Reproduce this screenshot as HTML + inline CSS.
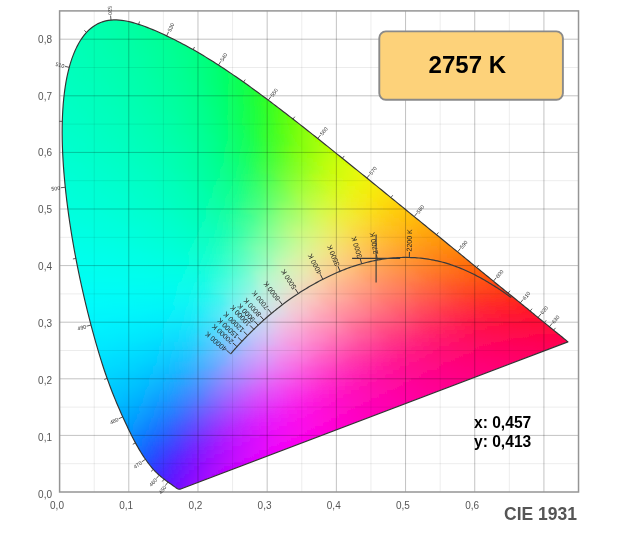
<!DOCTYPE html>
<html><head><meta charset="utf-8"><style>
html,body{margin:0;padding:0;background:#fff;}
body{width:620px;height:550px;overflow:hidden;position:relative;font-family:"Liberation Sans",sans-serif;}
svg{position:absolute;left:0;top:0;will-change:transform;}
.M{stroke:rgba(0,0,0,0.24);stroke-width:1;}
.m{stroke:rgba(0,0,0,0.075);stroke-width:1;}
.ax{font-size:10px;fill:#555;}
.wl{font-size:5.3px;fill:#333;}
.pk{font-size:7px;fill:#222;}
</style></head><body>
<svg width="620" height="550" viewBox="0 0 620 550">
<defs>
<clipPath id="gc"><path d="M180.06,489.17 179.05,489.28 178.06,489.05 177.17,488.56 176.22,487.93 175.38,487.35 174.43,486.65 173.54,485.97 172.52,485.23 171.58,484.56 170.51,483.79 169.61,483.16 168.63,482.47 167.6,481.73 166.5,480.95 165.33,480.1 164.51,479.48 163.64,478.81 162.72,478.09 161.77,477.33 160.78,476.51 159.76,475.64 158.7,474.73 157.62,473.75 156.48,472.68 155.29,471.49 154.02,470.15 152.66,468.64 151.95,467.81 151.22,466.93 150.46,465.99 149.68,465.01 148.88,463.98 148.06,462.89 147.21,461.74 146.35,460.54 145.46,459.29 144.56,457.97 143.63,456.59 142.69,455.15 141.72,453.64 140.73,452.05 139.72,450.39 138.68,448.64 137.62,446.81 136.54,444.89 135.43,442.87 134.3,440.76 133.14,438.54 131.96,436.23 130.74,433.8 129.5,431.27 128.22,428.63 126.91,425.87 125.57,423 124.19,420.01 122.77,416.89 121.31,413.65 119.82,410.29 118.3,406.79 116.75,403.16 115.18,399.39 113.59,395.49 111.99,391.44 110.38,387.24 108.76,382.9 107.13,378.4 105.51,373.75 103.89,368.95 102.28,363.99 100.66,358.88 99.05,353.61 97.44,348.2 95.83,342.63 94.22,336.91 92.62,331.05 91.01,325.03 89.41,318.87 87.82,312.57 86.23,306.14 84.67,299.59 83.12,292.94 81.6,286.19 80.11,279.35 78.65,272.43 77.23,265.45 75.86,258.41 74.54,251.33 73.26,244.21 72.04,237.06 70.88,229.9 69.78,222.74 68.74,215.59 67.77,208.45 66.87,201.35 66.03,194.28 65.27,187.27 64.59,180.31 63.99,173.43 63.46,166.61 63.03,159.88 62.67,153.22 62.41,146.66 62.24,140.19 62.16,133.81 62.18,127.54 62.3,121.38 62.52,115.34 62.84,109.41 63.26,103.62 63.79,97.96 64.42,92.45 65.17,87.1 66.01,81.91 66.97,76.89 68.04,72.04 69.22,67.39 70.51,62.92 71.9,58.66 73.41,54.61 75.01,50.76 76.71,47.13 78.5,43.72 80.38,40.54 82.35,37.59 84.39,34.88 86.51,32.41 88.71,30.18 90.98,28.2 93.3,26.45 95.69,24.92 98.13,23.61 100.63,22.51 103.17,21.62 105.75,20.92 108.36,20.4 111.01,20.07 113.68,19.91 116.38,19.91 119.11,20.06 121.85,20.34 124.61,20.76 127.39,21.29 130.18,21.93 132.98,22.67 135.79,23.48 138.61,24.37 141.44,25.32 144.27,26.33 147.09,27.39 149.92,28.5 152.74,29.64 155.55,30.83 158.34,32.05 161.13,33.3 163.89,34.57 166.64,35.86 169.36,37.17 172.06,38.49 174.74,39.82 177.41,41.17 180.05,42.54 182.68,43.92 185.3,45.32 187.9,46.73 190.49,48.16 193.07,49.61 195.64,51.08 198.2,52.57 200.75,54.07 203.3,55.59 205.83,57.13 208.37,58.68 210.9,60.26 213.42,61.84 215.94,63.45 218.46,65.07 220.98,66.7 223.49,68.35 226,70.02 228.51,71.7 231.02,73.39 233.52,75.1 236.02,76.81 238.52,78.55 241.02,80.29 243.51,82.05 246,83.81 248.48,85.59 250.96,87.38 253.44,89.18 255.92,90.98 258.39,92.8 260.87,94.63 263.34,96.46 265.81,98.31 268.28,100.16 270.75,102.02 273.21,103.88 275.68,105.76 278.15,107.64 280.62,109.53 283.09,111.42 285.56,113.32 288.03,115.23 290.5,117.14 292.98,119.06 295.45,120.99 297.93,122.92 300.41,124.86 302.89,126.8 305.37,128.74 307.85,130.69 310.32,132.65 312.8,134.61 315.28,136.57 317.75,138.53 320.22,140.5 322.69,142.47 325.15,144.44 327.62,146.42 330.08,148.39 332.54,150.37 335,152.35 337.46,154.33 339.92,156.31 342.38,158.29 344.84,160.27 347.3,162.24 349.75,164.22 352.21,166.2 354.66,168.18 357.11,170.15 359.56,172.13 362,174.1 364.44,176.07 366.87,178.04 369.3,180.01 371.72,181.97 374.14,183.93 376.55,185.89 378.95,187.85 381.35,189.8 383.74,191.75 386.13,193.69 388.51,195.63 390.88,197.57 393.25,199.5 395.61,201.42 397.96,203.34 400.3,205.25 402.64,207.16 404.97,209.06 407.29,210.95 409.6,212.83 411.91,214.71 414.2,216.58 416.48,218.45 418.76,220.3 421.02,222.15 423.27,223.99 425.51,225.82 427.74,227.64 429.96,229.45 432.17,231.25 434.37,233.03 436.55,234.81 438.72,236.57 440.87,238.32 443.01,240.06 445.14,241.79 447.25,243.51 449.35,245.21 451.43,246.9 453.5,248.58 455.55,250.25 457.58,251.9 459.6,253.55 461.59,255.18 463.57,256.79 465.52,258.39 467.45,259.97 469.36,261.54 471.25,263.08 473.11,264.61 474.94,266.11 476.75,267.58 478.52,269.03 480.27,270.46 481.99,271.86 483.69,273.25 485.36,274.61 487.02,275.95 488.65,277.28 490.26,278.59 491.85,279.88 493.42,281.16 494.98,282.43 496.52,283.69 498.04,284.93 499.55,286.16 501.03,287.36 502.49,288.55 503.93,289.73 505.34,290.88 506.73,292 508.09,293.11 509.42,294.19 510.73,295.25 512.01,296.28 513.26,297.29 514.49,298.28 515.69,299.26 516.87,300.21 518.03,301.14 519.16,302.06 520.27,302.96 521.35,303.84 522.42,304.71 523.46,305.56 524.48,306.39 525.48,307.21 526.46,308.01 527.42,308.8 528.35,309.56 529.27,310.32 530.16,311.05 531.03,311.77 531.89,312.47 532.72,313.15 533.54,313.82 534.33,314.47 535.11,315.11 536.61,316.33 538.05,317.5 539.42,318.62 540.74,319.68 542,320.7 543.2,321.67 544.35,322.6 545.44,323.49 546.49,324.34 547.49,325.17 548.46,325.96 549.4,326.73 550.3,327.47 551.18,328.18 552.02,328.87 552.83,329.54 553.62,330.18 554.73,331.1 555.78,331.95 556.76,332.76 557.69,333.5 558.55,334.19 559.35,334.82 560.31,335.59 561.16,336.29 562.1,337.06 562.92,337.74 563.78,338.44 564.59,339.1 565.38,339.75 566.18,340.4 566.99,341.07 567.77,341.7 567.94,341.84Z"/></clipPath>
<filter id="vb" x="-5%" y="-5%" width="110%" height="110%"><feGaussianBlur stdDeviation="0.6 1.8"/></filter>
<linearGradient id="g0"><stop offset="0" stop-color="#00ffac"/><stop offset="0.25" stop-color="#00ffa9"/><stop offset="0.5" stop-color="#00ffa6"/><stop offset="0.75" stop-color="#00ffa3"/><stop offset="1" stop-color="#00ffa0"/></linearGradient>
<linearGradient id="g1"><stop offset="0" stop-color="#00ffaf"/><stop offset="0.17" stop-color="#00ffad"/><stop offset="0.33" stop-color="#00ffaa"/><stop offset="0.5" stop-color="#00ffa6"/><stop offset="0.67" stop-color="#00ffa3"/><stop offset="0.83" stop-color="#00ff9f"/><stop offset="1" stop-color="#00ff9a"/></linearGradient>
<linearGradient id="g2"><stop offset="0" stop-color="#00ffb1"/><stop offset="0.14" stop-color="#00ffaf"/><stop offset="0.29" stop-color="#00ffab"/><stop offset="0.43" stop-color="#00ffa8"/><stop offset="0.57" stop-color="#00ffa4"/><stop offset="0.71" stop-color="#00ffa0"/><stop offset="0.86" stop-color="#00ff9b"/><stop offset="1" stop-color="#00ff96"/></linearGradient>
<linearGradient id="g3"><stop offset="0" stop-color="#00ffb3"/><stop offset="0.12" stop-color="#00ffb0"/><stop offset="0.25" stop-color="#00ffad"/><stop offset="0.38" stop-color="#00ffaa"/><stop offset="0.5" stop-color="#00ffa6"/><stop offset="0.62" stop-color="#00ffa2"/><stop offset="0.75" stop-color="#00ff9d"/><stop offset="0.88" stop-color="#00ff98"/><stop offset="1" stop-color="#00ff92"/></linearGradient>
<linearGradient id="g4"><stop offset="0" stop-color="#00ffb5"/><stop offset="0.11" stop-color="#00ffb2"/><stop offset="0.22" stop-color="#00ffaf"/><stop offset="0.33" stop-color="#00ffac"/><stop offset="0.44" stop-color="#00ffa8"/><stop offset="0.56" stop-color="#00ffa4"/><stop offset="0.67" stop-color="#00ff9f"/><stop offset="0.78" stop-color="#00ff9a"/><stop offset="0.89" stop-color="#00ff94"/><stop offset="1" stop-color="#00ff8d"/></linearGradient>
<linearGradient id="g5"><stop offset="0" stop-color="#00ffb6"/><stop offset="0.1" stop-color="#00ffb3"/><stop offset="0.2" stop-color="#00ffb0"/><stop offset="0.3" stop-color="#00ffad"/><stop offset="0.4" stop-color="#00ffa9"/><stop offset="0.5" stop-color="#00ffa6"/><stop offset="0.6" stop-color="#00ffa1"/><stop offset="0.7" stop-color="#00ff9c"/><stop offset="0.8" stop-color="#00ff97"/><stop offset="0.9" stop-color="#00ff91"/><stop offset="1" stop-color="#00ff89"/></linearGradient>
<linearGradient id="g6"><stop offset="0" stop-color="#00ffb7"/><stop offset="0.09" stop-color="#00ffb5"/><stop offset="0.18" stop-color="#00ffb2"/><stop offset="0.27" stop-color="#00ffaf"/><stop offset="0.36" stop-color="#00ffab"/><stop offset="0.45" stop-color="#00ffa8"/><stop offset="0.55" stop-color="#00ffa3"/><stop offset="0.64" stop-color="#00ff9e"/><stop offset="0.73" stop-color="#00ff99"/><stop offset="0.82" stop-color="#00ff93"/><stop offset="0.91" stop-color="#00ff8c"/><stop offset="1" stop-color="#00ff84"/></linearGradient>
<linearGradient id="g7"><stop offset="0" stop-color="#00ffb9"/><stop offset="0.08" stop-color="#00ffb6"/><stop offset="0.17" stop-color="#00ffb3"/><stop offset="0.25" stop-color="#00ffb0"/><stop offset="0.33" stop-color="#00ffad"/><stop offset="0.42" stop-color="#00ffa9"/><stop offset="0.5" stop-color="#00ffa5"/><stop offset="0.58" stop-color="#00ffa1"/><stop offset="0.67" stop-color="#00ff9c"/><stop offset="0.75" stop-color="#00ff96"/><stop offset="0.83" stop-color="#00ff90"/><stop offset="0.92" stop-color="#00ff88"/><stop offset="1" stop-color="#01ff7f"/></linearGradient>
<linearGradient id="g8"><stop offset="0" stop-color="#00ffba"/><stop offset="0.08" stop-color="#00ffb7"/><stop offset="0.17" stop-color="#00ffb4"/><stop offset="0.25" stop-color="#00ffb1"/><stop offset="0.33" stop-color="#00ffad"/><stop offset="0.42" stop-color="#00ffa9"/><stop offset="0.5" stop-color="#00ffa5"/><stop offset="0.58" stop-color="#00ffa0"/><stop offset="0.67" stop-color="#00ff9b"/><stop offset="0.75" stop-color="#00ff94"/><stop offset="0.83" stop-color="#00ff8d"/><stop offset="0.92" stop-color="#00ff84"/><stop offset="1" stop-color="#01ff79"/></linearGradient>
<linearGradient id="g9"><stop offset="0" stop-color="#00ffbb"/><stop offset="0.08" stop-color="#00ffb8"/><stop offset="0.15" stop-color="#00ffb5"/><stop offset="0.23" stop-color="#00ffb2"/><stop offset="0.31" stop-color="#00ffaf"/><stop offset="0.38" stop-color="#00ffab"/><stop offset="0.46" stop-color="#00ffa7"/><stop offset="0.54" stop-color="#00ffa3"/><stop offset="0.62" stop-color="#00ff9d"/><stop offset="0.69" stop-color="#00ff98"/><stop offset="0.77" stop-color="#00ff90"/><stop offset="0.85" stop-color="#00ff89"/><stop offset="0.92" stop-color="#01ff7e"/><stop offset="1" stop-color="#02ff72"/></linearGradient>
<linearGradient id="g10"><stop offset="0" stop-color="#00ffbc"/><stop offset="0.07" stop-color="#00ffb9"/><stop offset="0.14" stop-color="#00ffb7"/><stop offset="0.21" stop-color="#00ffb4"/><stop offset="0.29" stop-color="#00ffb1"/><stop offset="0.36" stop-color="#00ffad"/><stop offset="0.43" stop-color="#00ffa9"/><stop offset="0.5" stop-color="#00ffa5"/><stop offset="0.57" stop-color="#00ffa0"/><stop offset="0.64" stop-color="#00ff9a"/><stop offset="0.71" stop-color="#00ff94"/><stop offset="0.79" stop-color="#00ff8d"/><stop offset="0.86" stop-color="#00ff84"/><stop offset="0.93" stop-color="#01ff79"/><stop offset="1" stop-color="#04ff6a"/></linearGradient>
<linearGradient id="g11"><stop offset="0" stop-color="#00ffbd"/><stop offset="0.07" stop-color="#00ffba"/><stop offset="0.14" stop-color="#00ffb7"/><stop offset="0.21" stop-color="#00ffb4"/><stop offset="0.29" stop-color="#00ffb1"/><stop offset="0.36" stop-color="#00ffad"/><stop offset="0.43" stop-color="#00ffa9"/><stop offset="0.5" stop-color="#00ffa4"/><stop offset="0.57" stop-color="#00ff9f"/><stop offset="0.64" stop-color="#00ff99"/><stop offset="0.71" stop-color="#00ff92"/><stop offset="0.79" stop-color="#00ff8a"/><stop offset="0.86" stop-color="#01ff80"/><stop offset="0.93" stop-color="#02ff73"/><stop offset="1" stop-color="#06ff63"/></linearGradient>
<linearGradient id="g12"><stop offset="0" stop-color="#00ffbe"/><stop offset="0.07" stop-color="#00ffbb"/><stop offset="0.13" stop-color="#00ffb9"/><stop offset="0.2" stop-color="#00ffb6"/><stop offset="0.27" stop-color="#00ffb2"/><stop offset="0.33" stop-color="#00ffaf"/><stop offset="0.4" stop-color="#00ffab"/><stop offset="0.47" stop-color="#00ffa7"/><stop offset="0.53" stop-color="#00ffa2"/><stop offset="0.6" stop-color="#00ff9c"/><stop offset="0.67" stop-color="#00ff96"/><stop offset="0.73" stop-color="#00ff8e"/><stop offset="0.8" stop-color="#00ff85"/><stop offset="0.87" stop-color="#01ff7a"/><stop offset="0.93" stop-color="#04ff6b"/><stop offset="1" stop-color="#09ff5b"/></linearGradient>
<linearGradient id="g13"><stop offset="0" stop-color="#00ffbf"/><stop offset="0.07" stop-color="#00ffbc"/><stop offset="0.13" stop-color="#00ffb9"/><stop offset="0.2" stop-color="#00ffb6"/><stop offset="0.27" stop-color="#00ffb3"/><stop offset="0.33" stop-color="#00ffaf"/><stop offset="0.4" stop-color="#00ffab"/><stop offset="0.47" stop-color="#00ffa7"/><stop offset="0.53" stop-color="#00ffa1"/><stop offset="0.6" stop-color="#00ff9c"/><stop offset="0.67" stop-color="#00ff95"/><stop offset="0.73" stop-color="#00ff8c"/><stop offset="0.8" stop-color="#01ff82"/><stop offset="0.87" stop-color="#02ff75"/><stop offset="0.93" stop-color="#06ff65"/><stop offset="1" stop-color="#0dff52"/></linearGradient>
<linearGradient id="g14"><stop offset="0" stop-color="#00ffc0"/><stop offset="0.06" stop-color="#00ffbd"/><stop offset="0.12" stop-color="#00ffba"/><stop offset="0.19" stop-color="#00ffb8"/><stop offset="0.25" stop-color="#00ffb4"/><stop offset="0.31" stop-color="#00ffb1"/><stop offset="0.38" stop-color="#00ffad"/><stop offset="0.44" stop-color="#00ffa9"/><stop offset="0.5" stop-color="#00ffa4"/><stop offset="0.56" stop-color="#00ff9e"/><stop offset="0.62" stop-color="#00ff98"/><stop offset="0.69" stop-color="#00ff90"/><stop offset="0.75" stop-color="#00ff88"/><stop offset="0.81" stop-color="#01ff7c"/><stop offset="0.88" stop-color="#04ff6d"/><stop offset="0.94" stop-color="#09ff5d"/><stop offset="1" stop-color="#12ff48"/></linearGradient>
<linearGradient id="g15"><stop offset="0" stop-color="#00ffc0"/><stop offset="0.06" stop-color="#00ffbe"/><stop offset="0.12" stop-color="#00ffbb"/><stop offset="0.19" stop-color="#00ffb8"/><stop offset="0.25" stop-color="#00ffb5"/><stop offset="0.31" stop-color="#00ffb1"/><stop offset="0.38" stop-color="#00ffad"/><stop offset="0.44" stop-color="#00ffa9"/><stop offset="0.5" stop-color="#00ffa4"/><stop offset="0.56" stop-color="#00ff9e"/><stop offset="0.62" stop-color="#00ff97"/><stop offset="0.69" stop-color="#00ff8e"/><stop offset="0.75" stop-color="#01ff84"/><stop offset="0.81" stop-color="#02ff77"/><stop offset="0.88" stop-color="#05ff67"/><stop offset="0.94" stop-color="#0dff54"/><stop offset="1" stop-color="#19ff3f"/></linearGradient>
<linearGradient id="g16"><stop offset="0" stop-color="#00ffc1"/><stop offset="0.06" stop-color="#00ffbf"/><stop offset="0.12" stop-color="#00ffbc"/><stop offset="0.18" stop-color="#00ffba"/><stop offset="0.24" stop-color="#00ffb6"/><stop offset="0.29" stop-color="#00ffb3"/><stop offset="0.35" stop-color="#00ffaf"/><stop offset="0.41" stop-color="#00ffab"/><stop offset="0.47" stop-color="#00ffa6"/><stop offset="0.53" stop-color="#00ffa1"/><stop offset="0.59" stop-color="#00ff9a"/><stop offset="0.65" stop-color="#00ff93"/><stop offset="0.71" stop-color="#00ff8a"/><stop offset="0.76" stop-color="#01ff7e"/><stop offset="0.82" stop-color="#03ff71"/><stop offset="0.88" stop-color="#08ff5f"/><stop offset="0.94" stop-color="#12ff4a"/><stop offset="1" stop-color="#20ff37"/></linearGradient>
<linearGradient id="g17"><stop offset="0" stop-color="#00ffc2"/><stop offset="0.06" stop-color="#00ffc0"/><stop offset="0.12" stop-color="#00ffbd"/><stop offset="0.18" stop-color="#00ffba"/><stop offset="0.24" stop-color="#00ffb7"/><stop offset="0.29" stop-color="#00ffb3"/><stop offset="0.35" stop-color="#00ffaf"/><stop offset="0.41" stop-color="#00ffab"/><stop offset="0.47" stop-color="#00ffa6"/><stop offset="0.53" stop-color="#00ffa0"/><stop offset="0.59" stop-color="#00ff99"/><stop offset="0.65" stop-color="#00ff91"/><stop offset="0.71" stop-color="#01ff87"/><stop offset="0.76" stop-color="#02ff7b"/><stop offset="0.82" stop-color="#05ff6b"/><stop offset="0.88" stop-color="#0cff57"/><stop offset="0.94" stop-color="#18ff42"/><stop offset="1" stop-color="#29ff2d"/></linearGradient>
<linearGradient id="g18"><stop offset="0" stop-color="#00ffc3"/><stop offset="0.06" stop-color="#00ffc1"/><stop offset="0.11" stop-color="#00ffbe"/><stop offset="0.17" stop-color="#00ffbb"/><stop offset="0.22" stop-color="#00ffb8"/><stop offset="0.28" stop-color="#00ffb5"/><stop offset="0.33" stop-color="#00ffb1"/><stop offset="0.39" stop-color="#00ffad"/><stop offset="0.44" stop-color="#00ffa8"/><stop offset="0.5" stop-color="#00ffa3"/><stop offset="0.56" stop-color="#00ff9d"/><stop offset="0.61" stop-color="#00ff95"/><stop offset="0.67" stop-color="#00ff8c"/><stop offset="0.72" stop-color="#01ff81"/><stop offset="0.78" stop-color="#03ff73"/><stop offset="0.83" stop-color="#08ff62"/><stop offset="0.89" stop-color="#11ff4e"/><stop offset="0.94" stop-color="#20ff38"/><stop offset="1" stop-color="#32ff26"/></linearGradient>
<linearGradient id="g19"><stop offset="0" stop-color="#00ffc4"/><stop offset="0.06" stop-color="#00ffc1"/><stop offset="0.11" stop-color="#00ffbf"/><stop offset="0.17" stop-color="#00ffbc"/><stop offset="0.22" stop-color="#00ffb9"/><stop offset="0.28" stop-color="#00ffb5"/><stop offset="0.33" stop-color="#00ffb1"/><stop offset="0.39" stop-color="#00ffad"/><stop offset="0.44" stop-color="#00ffa8"/><stop offset="0.5" stop-color="#00ffa2"/><stop offset="0.56" stop-color="#00ff9c"/><stop offset="0.61" stop-color="#00ff94"/><stop offset="0.67" stop-color="#00ff8a"/><stop offset="0.72" stop-color="#02ff7e"/><stop offset="0.78" stop-color="#05ff6e"/><stop offset="0.83" stop-color="#0bff5b"/><stop offset="0.89" stop-color="#16ff46"/><stop offset="0.94" stop-color="#28ff31"/><stop offset="1" stop-color="#3eff1e"/></linearGradient>
<linearGradient id="g20"><stop offset="0" stop-color="#00ffc4"/><stop offset="0.05" stop-color="#00ffc2"/><stop offset="0.11" stop-color="#00ffc0"/><stop offset="0.16" stop-color="#00ffbd"/><stop offset="0.21" stop-color="#00ffba"/><stop offset="0.26" stop-color="#00ffb7"/><stop offset="0.32" stop-color="#00ffb3"/><stop offset="0.37" stop-color="#00ffaf"/><stop offset="0.42" stop-color="#00ffaa"/><stop offset="0.47" stop-color="#00ffa5"/><stop offset="0.53" stop-color="#00ff9f"/><stop offset="0.58" stop-color="#00ff97"/><stop offset="0.63" stop-color="#00ff8f"/><stop offset="0.68" stop-color="#01ff83"/><stop offset="0.74" stop-color="#03ff76"/><stop offset="0.79" stop-color="#08ff65"/><stop offset="0.84" stop-color="#10ff52"/><stop offset="0.89" stop-color="#1eff3c"/><stop offset="0.95" stop-color="#30ff29"/><stop offset="1" stop-color="#48ff18"/></linearGradient>
<linearGradient id="g21"><stop offset="0" stop-color="#00ffc5"/><stop offset="0.05" stop-color="#00ffc3"/><stop offset="0.11" stop-color="#00ffc0"/><stop offset="0.16" stop-color="#00ffbe"/><stop offset="0.21" stop-color="#00ffba"/><stop offset="0.26" stop-color="#00ffb7"/><stop offset="0.32" stop-color="#00ffb3"/><stop offset="0.37" stop-color="#00ffaf"/><stop offset="0.42" stop-color="#00ffaa"/><stop offset="0.47" stop-color="#00ffa5"/><stop offset="0.53" stop-color="#00ff9e"/><stop offset="0.58" stop-color="#00ff96"/><stop offset="0.63" stop-color="#00ff8d"/><stop offset="0.68" stop-color="#01ff81"/><stop offset="0.74" stop-color="#04ff72"/><stop offset="0.79" stop-color="#0aff5f"/><stop offset="0.84" stop-color="#15ff4a"/><stop offset="0.89" stop-color="#26ff34"/><stop offset="0.95" stop-color="#3aff22"/><stop offset="1" stop-color="#53ff13"/></linearGradient>
<linearGradient id="g22"><stop offset="0" stop-color="#00ffc6"/><stop offset="0.05" stop-color="#00ffc4"/><stop offset="0.1" stop-color="#00ffc1"/><stop offset="0.15" stop-color="#00ffbf"/><stop offset="0.2" stop-color="#00ffbc"/><stop offset="0.25" stop-color="#00ffb9"/><stop offset="0.3" stop-color="#00ffb5"/><stop offset="0.35" stop-color="#00ffb1"/><stop offset="0.4" stop-color="#00ffad"/><stop offset="0.45" stop-color="#00ffa7"/><stop offset="0.5" stop-color="#00ffa1"/><stop offset="0.55" stop-color="#00ff9a"/><stop offset="0.6" stop-color="#00ff92"/><stop offset="0.65" stop-color="#01ff87"/><stop offset="0.7" stop-color="#03ff7a"/><stop offset="0.75" stop-color="#07ff69"/><stop offset="0.8" stop-color="#0fff56"/><stop offset="0.85" stop-color="#1dff40"/><stop offset="0.9" stop-color="#2fff2c"/><stop offset="0.95" stop-color="#47ff1b"/><stop offset="1" stop-color="#5eff0f"/></linearGradient>
<linearGradient id="g23"><stop offset="0" stop-color="#00ffc7"/><stop offset="0.05" stop-color="#00ffc5"/><stop offset="0.1" stop-color="#00ffc2"/><stop offset="0.15" stop-color="#00ffbf"/><stop offset="0.2" stop-color="#00ffbc"/><stop offset="0.25" stop-color="#00ffb9"/><stop offset="0.3" stop-color="#00ffb5"/><stop offset="0.35" stop-color="#00ffb1"/><stop offset="0.4" stop-color="#00ffac"/><stop offset="0.45" stop-color="#00ffa7"/><stop offset="0.5" stop-color="#00ffa1"/><stop offset="0.55" stop-color="#00ff99"/><stop offset="0.6" stop-color="#00ff90"/><stop offset="0.65" stop-color="#01ff85"/><stop offset="0.7" stop-color="#04ff76"/><stop offset="0.75" stop-color="#09ff63"/><stop offset="0.8" stop-color="#14ff4e"/><stop offset="0.85" stop-color="#23ff3a"/><stop offset="0.9" stop-color="#39ff25"/><stop offset="0.95" stop-color="#52ff15"/><stop offset="1" stop-color="#6bff0b"/></linearGradient>
<linearGradient id="g24"><stop offset="0" stop-color="#00ffc8"/><stop offset="0.05" stop-color="#00ffc6"/><stop offset="0.1" stop-color="#00ffc3"/><stop offset="0.14" stop-color="#00ffc0"/><stop offset="0.19" stop-color="#00ffbe"/><stop offset="0.24" stop-color="#00ffba"/><stop offset="0.29" stop-color="#00ffb7"/><stop offset="0.33" stop-color="#00ffb3"/><stop offset="0.38" stop-color="#00ffaf"/><stop offset="0.43" stop-color="#00ffaa"/><stop offset="0.48" stop-color="#00ffa4"/><stop offset="0.52" stop-color="#00ff9d"/><stop offset="0.57" stop-color="#00ff94"/><stop offset="0.62" stop-color="#01ff8a"/><stop offset="0.67" stop-color="#03ff7c"/><stop offset="0.71" stop-color="#07ff6d"/><stop offset="0.76" stop-color="#0fff58"/><stop offset="0.81" stop-color="#1cff44"/><stop offset="0.86" stop-color="#2dff30"/><stop offset="0.9" stop-color="#45ff1e"/><stop offset="0.95" stop-color="#5dff11"/><stop offset="1" stop-color="#76ff08"/></linearGradient>
<linearGradient id="g25"><stop offset="0" stop-color="#00ffc9"/><stop offset="0.05" stop-color="#00ffc6"/><stop offset="0.1" stop-color="#00ffc4"/><stop offset="0.14" stop-color="#00ffc1"/><stop offset="0.19" stop-color="#00ffbe"/><stop offset="0.24" stop-color="#00ffbb"/><stop offset="0.29" stop-color="#00ffb7"/><stop offset="0.33" stop-color="#00ffb4"/><stop offset="0.38" stop-color="#00ffaf"/><stop offset="0.43" stop-color="#00ffa9"/><stop offset="0.48" stop-color="#00ffa4"/><stop offset="0.52" stop-color="#00ff9c"/><stop offset="0.57" stop-color="#00ff93"/><stop offset="0.62" stop-color="#01ff88"/><stop offset="0.67" stop-color="#04ff7a"/><stop offset="0.71" stop-color="#09ff68"/><stop offset="0.76" stop-color="#13ff52"/><stop offset="0.81" stop-color="#22ff3e"/><stop offset="0.86" stop-color="#37ff29"/><stop offset="0.9" stop-color="#50ff18"/><stop offset="0.95" stop-color="#68ff0d"/><stop offset="1" stop-color="#81ff06"/></linearGradient>
<linearGradient id="g26"><stop offset="0" stop-color="#00ffc9"/><stop offset="0.05" stop-color="#00ffc7"/><stop offset="0.1" stop-color="#00ffc5"/><stop offset="0.14" stop-color="#00ffc2"/><stop offset="0.19" stop-color="#00ffbf"/><stop offset="0.24" stop-color="#00ffbc"/><stop offset="0.29" stop-color="#00ffb8"/><stop offset="0.33" stop-color="#00ffb4"/><stop offset="0.38" stop-color="#00ffaf"/><stop offset="0.43" stop-color="#00ffaa"/><stop offset="0.48" stop-color="#00ffa3"/><stop offset="0.52" stop-color="#00ff9b"/><stop offset="0.57" stop-color="#01ff91"/><stop offset="0.62" stop-color="#02ff85"/><stop offset="0.67" stop-color="#05ff75"/><stop offset="0.71" stop-color="#0bff64"/><stop offset="0.76" stop-color="#17ff4e"/><stop offset="0.81" stop-color="#28ff38"/><stop offset="0.86" stop-color="#40ff24"/><stop offset="0.9" stop-color="#5aff15"/><stop offset="0.95" stop-color="#74ff0b"/><stop offset="1" stop-color="#8cff05"/></linearGradient>
<linearGradient id="g27"><stop offset="0" stop-color="#00ffca"/><stop offset="0.05" stop-color="#00ffc8"/><stop offset="0.09" stop-color="#00ffc6"/><stop offset="0.14" stop-color="#00ffc3"/><stop offset="0.18" stop-color="#00ffc0"/><stop offset="0.23" stop-color="#00ffbd"/><stop offset="0.27" stop-color="#00ffba"/><stop offset="0.32" stop-color="#00ffb6"/><stop offset="0.36" stop-color="#00ffb1"/><stop offset="0.41" stop-color="#00ffac"/><stop offset="0.45" stop-color="#00ffa6"/><stop offset="0.5" stop-color="#00ff9f"/><stop offset="0.55" stop-color="#00ff96"/><stop offset="0.59" stop-color="#01ff8b"/><stop offset="0.64" stop-color="#03ff7e"/><stop offset="0.68" stop-color="#08ff6c"/><stop offset="0.73" stop-color="#11ff59"/><stop offset="0.77" stop-color="#21ff43"/><stop offset="0.82" stop-color="#36ff2d"/><stop offset="0.86" stop-color="#4dff1d"/><stop offset="0.91" stop-color="#68ff10"/><stop offset="0.95" stop-color="#81ff08"/><stop offset="1" stop-color="#96ff04"/></linearGradient>
<linearGradient id="g28"><stop offset="0" stop-color="#00ffcb"/><stop offset="0.05" stop-color="#00ffc9"/><stop offset="0.09" stop-color="#00ffc7"/><stop offset="0.14" stop-color="#00ffc4"/><stop offset="0.18" stop-color="#00ffc1"/><stop offset="0.23" stop-color="#00ffbe"/><stop offset="0.27" stop-color="#00ffba"/><stop offset="0.32" stop-color="#00ffb6"/><stop offset="0.36" stop-color="#00ffb2"/><stop offset="0.41" stop-color="#00ffac"/><stop offset="0.45" stop-color="#00ffa6"/><stop offset="0.5" stop-color="#00ff9e"/><stop offset="0.55" stop-color="#00ff95"/><stop offset="0.59" stop-color="#02ff89"/><stop offset="0.64" stop-color="#04ff7b"/><stop offset="0.68" stop-color="#0bff69"/><stop offset="0.73" stop-color="#16ff53"/><stop offset="0.77" stop-color="#28ff3d"/><stop offset="0.82" stop-color="#3fff28"/><stop offset="0.86" stop-color="#59ff18"/><stop offset="0.91" stop-color="#74ff0d"/><stop offset="0.95" stop-color="#8aff07"/><stop offset="1" stop-color="#a0ff03"/></linearGradient>
<linearGradient id="g29"><stop offset="0" stop-color="#00ffcc"/><stop offset="0.04" stop-color="#00ffca"/><stop offset="0.09" stop-color="#00ffc8"/><stop offset="0.13" stop-color="#00ffc5"/><stop offset="0.17" stop-color="#00ffc2"/><stop offset="0.22" stop-color="#00ffbf"/><stop offset="0.26" stop-color="#00ffbc"/><stop offset="0.3" stop-color="#00ffb8"/><stop offset="0.35" stop-color="#00ffb4"/><stop offset="0.39" stop-color="#00ffae"/><stop offset="0.43" stop-color="#00ffa9"/><stop offset="0.48" stop-color="#00ffa2"/><stop offset="0.52" stop-color="#00ff9a"/><stop offset="0.57" stop-color="#01ff8f"/><stop offset="0.61" stop-color="#03ff82"/><stop offset="0.65" stop-color="#08ff71"/><stop offset="0.7" stop-color="#11ff5e"/><stop offset="0.74" stop-color="#20ff48"/><stop offset="0.78" stop-color="#35ff32"/><stop offset="0.83" stop-color="#4dff21"/><stop offset="0.87" stop-color="#68ff14"/><stop offset="0.91" stop-color="#80ff0b"/><stop offset="0.96" stop-color="#97ff06"/><stop offset="1" stop-color="#a9ff03"/></linearGradient>
<linearGradient id="g30"><stop offset="0" stop-color="#00ffcd"/><stop offset="0.04" stop-color="#00ffcb"/><stop offset="0.09" stop-color="#00ffc9"/><stop offset="0.13" stop-color="#00ffc6"/><stop offset="0.17" stop-color="#00ffc3"/><stop offset="0.22" stop-color="#00ffc0"/><stop offset="0.26" stop-color="#00ffbd"/><stop offset="0.3" stop-color="#00ffb9"/><stop offset="0.35" stop-color="#00ffb4"/><stop offset="0.39" stop-color="#00ffaf"/><stop offset="0.43" stop-color="#00ffa9"/><stop offset="0.48" stop-color="#00ffa2"/><stop offset="0.52" stop-color="#00ff98"/><stop offset="0.57" stop-color="#02ff8d"/><stop offset="0.61" stop-color="#04ff7f"/><stop offset="0.65" stop-color="#0aff6e"/><stop offset="0.7" stop-color="#16ff59"/><stop offset="0.74" stop-color="#27ff43"/><stop offset="0.78" stop-color="#3cff2f"/><stop offset="0.83" stop-color="#57ff1e"/><stop offset="0.87" stop-color="#72ff12"/><stop offset="0.91" stop-color="#8bff0a"/><stop offset="0.96" stop-color="#a1ff05"/><stop offset="1" stop-color="#b2ff03"/></linearGradient>
<linearGradient id="g31"><stop offset="0" stop-color="#00ffce"/><stop offset="0.04" stop-color="#00ffcc"/><stop offset="0.09" stop-color="#00ffca"/><stop offset="0.13" stop-color="#00ffc7"/><stop offset="0.17" stop-color="#00ffc4"/><stop offset="0.22" stop-color="#00ffc1"/><stop offset="0.26" stop-color="#00ffbd"/><stop offset="0.3" stop-color="#00ffb9"/><stop offset="0.35" stop-color="#00ffb5"/><stop offset="0.39" stop-color="#00ffaf"/><stop offset="0.43" stop-color="#00ffa9"/><stop offset="0.48" stop-color="#00ffa2"/><stop offset="0.52" stop-color="#01ff98"/><stop offset="0.57" stop-color="#02ff8c"/><stop offset="0.61" stop-color="#06ff7d"/><stop offset="0.65" stop-color="#0dff6a"/><stop offset="0.7" stop-color="#1aff55"/><stop offset="0.74" stop-color="#2dff3f"/><stop offset="0.78" stop-color="#46ff2c"/><stop offset="0.83" stop-color="#61ff1c"/><stop offset="0.87" stop-color="#7cff11"/><stop offset="0.91" stop-color="#94ff0a"/><stop offset="0.96" stop-color="#a9ff05"/><stop offset="1" stop-color="#bbff03"/></linearGradient>
<linearGradient id="g32"><stop offset="0" stop-color="#00ffcf"/><stop offset="0.04" stop-color="#00ffcd"/><stop offset="0.08" stop-color="#00ffca"/><stop offset="0.12" stop-color="#00ffc8"/><stop offset="0.17" stop-color="#00ffc5"/><stop offset="0.21" stop-color="#00ffc2"/><stop offset="0.25" stop-color="#00ffbf"/><stop offset="0.29" stop-color="#00ffbb"/><stop offset="0.33" stop-color="#00ffb7"/><stop offset="0.38" stop-color="#00ffb2"/><stop offset="0.42" stop-color="#00ffac"/><stop offset="0.46" stop-color="#00ffa5"/><stop offset="0.5" stop-color="#01ff9c"/><stop offset="0.54" stop-color="#02ff91"/><stop offset="0.58" stop-color="#04ff84"/><stop offset="0.62" stop-color="#0aff73"/><stop offset="0.67" stop-color="#16ff5f"/><stop offset="0.71" stop-color="#26ff4b"/><stop offset="0.75" stop-color="#3dff36"/><stop offset="0.79" stop-color="#57ff24"/><stop offset="0.83" stop-color="#73ff17"/><stop offset="0.88" stop-color="#8aff0f"/><stop offset="0.92" stop-color="#a1ff09"/><stop offset="0.96" stop-color="#b4ff05"/><stop offset="1" stop-color="#c4fe03"/></linearGradient>
<linearGradient id="g33"><stop offset="0" stop-color="#00ffd0"/><stop offset="0.04" stop-color="#00ffce"/><stop offset="0.08" stop-color="#00ffcb"/><stop offset="0.12" stop-color="#00ffc9"/><stop offset="0.17" stop-color="#00ffc6"/><stop offset="0.21" stop-color="#00ffc3"/><stop offset="0.25" stop-color="#00ffc0"/><stop offset="0.29" stop-color="#00ffbc"/><stop offset="0.33" stop-color="#00ffb7"/><stop offset="0.38" stop-color="#00ffb2"/><stop offset="0.42" stop-color="#00ffac"/><stop offset="0.46" stop-color="#00ffa5"/><stop offset="0.5" stop-color="#01ff9c"/><stop offset="0.54" stop-color="#02ff90"/><stop offset="0.58" stop-color="#06ff82"/><stop offset="0.62" stop-color="#0dff70"/><stop offset="0.67" stop-color="#1aff5c"/><stop offset="0.71" stop-color="#2eff46"/><stop offset="0.75" stop-color="#47ff33"/><stop offset="0.79" stop-color="#62ff22"/><stop offset="0.83" stop-color="#7dff16"/><stop offset="0.88" stop-color="#96ff0e"/><stop offset="0.92" stop-color="#aaff09"/><stop offset="0.96" stop-color="#bcfe05"/><stop offset="1" stop-color="#ccfe03"/></linearGradient>
<linearGradient id="g34"><stop offset="0" stop-color="#00ffd1"/><stop offset="0.04" stop-color="#00ffcf"/><stop offset="0.08" stop-color="#00ffcc"/><stop offset="0.12" stop-color="#00ffca"/><stop offset="0.16" stop-color="#00ffc7"/><stop offset="0.2" stop-color="#00ffc4"/><stop offset="0.24" stop-color="#00ffc1"/><stop offset="0.28" stop-color="#00ffbe"/><stop offset="0.32" stop-color="#00ffb9"/><stop offset="0.36" stop-color="#00ffb5"/><stop offset="0.4" stop-color="#00ffaf"/><stop offset="0.44" stop-color="#00ffa8"/><stop offset="0.48" stop-color="#01ffa0"/><stop offset="0.52" stop-color="#02ff95"/><stop offset="0.56" stop-color="#05ff89"/><stop offset="0.6" stop-color="#0bff78"/><stop offset="0.64" stop-color="#16ff65"/><stop offset="0.68" stop-color="#26ff52"/><stop offset="0.72" stop-color="#3eff3e"/><stop offset="0.76" stop-color="#56ff2d"/><stop offset="0.8" stop-color="#72ff1f"/><stop offset="0.84" stop-color="#8cff14"/><stop offset="0.88" stop-color="#a1ff0e"/><stop offset="0.92" stop-color="#b5ff09"/><stop offset="0.96" stop-color="#c6fe05"/><stop offset="1" stop-color="#d4fd03"/></linearGradient>
<linearGradient id="g35"><stop offset="0" stop-color="#00ffd2"/><stop offset="0.04" stop-color="#00ffd0"/><stop offset="0.08" stop-color="#00ffcd"/><stop offset="0.12" stop-color="#00ffcb"/><stop offset="0.16" stop-color="#00ffc8"/><stop offset="0.2" stop-color="#00ffc5"/><stop offset="0.24" stop-color="#00ffc2"/><stop offset="0.28" stop-color="#00ffbe"/><stop offset="0.32" stop-color="#00ffba"/><stop offset="0.36" stop-color="#00ffb5"/><stop offset="0.4" stop-color="#00ffaf"/><stop offset="0.44" stop-color="#00ffa8"/><stop offset="0.48" stop-color="#01ffa0"/><stop offset="0.52" stop-color="#02ff95"/><stop offset="0.56" stop-color="#06ff87"/><stop offset="0.6" stop-color="#0eff76"/><stop offset="0.64" stop-color="#1bff63"/><stop offset="0.68" stop-color="#2fff4e"/><stop offset="0.72" stop-color="#46ff3c"/><stop offset="0.76" stop-color="#61ff2c"/><stop offset="0.8" stop-color="#7dff1f"/><stop offset="0.84" stop-color="#96ff15"/><stop offset="0.88" stop-color="#acff0e"/><stop offset="0.92" stop-color="#bffe09"/><stop offset="0.96" stop-color="#cefd06"/><stop offset="1" stop-color="#dbfc04"/></linearGradient>
<linearGradient id="g36"><stop offset="0" stop-color="#00ffd3"/><stop offset="0.04" stop-color="#00ffd1"/><stop offset="0.08" stop-color="#00ffcf"/><stop offset="0.12" stop-color="#00ffcc"/><stop offset="0.15" stop-color="#00ffca"/><stop offset="0.19" stop-color="#00ffc7"/><stop offset="0.23" stop-color="#00ffc4"/><stop offset="0.27" stop-color="#00ffc0"/><stop offset="0.31" stop-color="#00ffbc"/><stop offset="0.35" stop-color="#00ffb7"/><stop offset="0.38" stop-color="#00ffb2"/><stop offset="0.42" stop-color="#00ffab"/><stop offset="0.46" stop-color="#01ffa3"/><stop offset="0.5" stop-color="#02ff99"/><stop offset="0.54" stop-color="#05ff8e"/><stop offset="0.58" stop-color="#0bff7e"/><stop offset="0.62" stop-color="#17ff6c"/><stop offset="0.65" stop-color="#28ff5a"/><stop offset="0.69" stop-color="#3fff46"/><stop offset="0.73" stop-color="#58ff36"/><stop offset="0.77" stop-color="#74ff28"/><stop offset="0.81" stop-color="#8cff1d"/><stop offset="0.85" stop-color="#a4ff14"/><stop offset="0.88" stop-color="#b8fe0e"/><stop offset="0.92" stop-color="#c8fe09"/><stop offset="0.96" stop-color="#d7fc06"/><stop offset="1" stop-color="#e2fa04"/></linearGradient>
<linearGradient id="g37"><stop offset="0" stop-color="#00ffd4"/><stop offset="0.04" stop-color="#00ffd2"/><stop offset="0.08" stop-color="#00ffd0"/><stop offset="0.12" stop-color="#00ffcd"/><stop offset="0.15" stop-color="#00ffcb"/><stop offset="0.19" stop-color="#00ffc8"/><stop offset="0.23" stop-color="#00ffc5"/><stop offset="0.27" stop-color="#00ffc1"/><stop offset="0.31" stop-color="#00ffbd"/><stop offset="0.35" stop-color="#00ffb8"/><stop offset="0.38" stop-color="#00ffb2"/><stop offset="0.42" stop-color="#00ffab"/><stop offset="0.46" stop-color="#01ffa3"/><stop offset="0.5" stop-color="#03ff99"/><stop offset="0.54" stop-color="#07ff8c"/><stop offset="0.58" stop-color="#0fff7c"/><stop offset="0.62" stop-color="#1dff6a"/><stop offset="0.65" stop-color="#2fff58"/><stop offset="0.69" stop-color="#48ff46"/><stop offset="0.73" stop-color="#64ff35"/><stop offset="0.77" stop-color="#7fff28"/><stop offset="0.81" stop-color="#97ff1e"/><stop offset="0.85" stop-color="#adff15"/><stop offset="0.88" stop-color="#c0fe0f"/><stop offset="0.92" stop-color="#d1fd0a"/><stop offset="0.96" stop-color="#ddfb07"/><stop offset="1" stop-color="#e8f804"/></linearGradient>
<linearGradient id="g38"><stop offset="0" stop-color="#00ffd4"/><stop offset="0.04" stop-color="#00ffd3"/><stop offset="0.08" stop-color="#00ffd1"/><stop offset="0.12" stop-color="#00ffce"/><stop offset="0.15" stop-color="#00ffcc"/><stop offset="0.19" stop-color="#00ffc9"/><stop offset="0.23" stop-color="#00ffc6"/><stop offset="0.27" stop-color="#00ffc2"/><stop offset="0.31" stop-color="#00ffbe"/><stop offset="0.35" stop-color="#00ffb9"/><stop offset="0.38" stop-color="#00ffb3"/><stop offset="0.42" stop-color="#00ffac"/><stop offset="0.46" stop-color="#01ffa3"/><stop offset="0.5" stop-color="#04ff98"/><stop offset="0.54" stop-color="#09ff8a"/><stop offset="0.58" stop-color="#13ff7a"/><stop offset="0.62" stop-color="#23ff68"/><stop offset="0.65" stop-color="#39ff56"/><stop offset="0.69" stop-color="#54ff45"/><stop offset="0.73" stop-color="#70ff35"/><stop offset="0.77" stop-color="#89ff29"/><stop offset="0.81" stop-color="#a1ff1f"/><stop offset="0.85" stop-color="#b6fe17"/><stop offset="0.88" stop-color="#c8fd10"/><stop offset="0.92" stop-color="#d7fb0b"/><stop offset="0.96" stop-color="#e4f907"/><stop offset="1" stop-color="#edf504"/></linearGradient>
<linearGradient id="g39"><stop offset="0" stop-color="#00ffd6"/><stop offset="0.04" stop-color="#00ffd4"/><stop offset="0.07" stop-color="#00ffd2"/><stop offset="0.11" stop-color="#00ffcf"/><stop offset="0.15" stop-color="#00ffcd"/><stop offset="0.19" stop-color="#00ffca"/><stop offset="0.22" stop-color="#00ffc7"/><stop offset="0.26" stop-color="#00ffc4"/><stop offset="0.3" stop-color="#00ffc0"/><stop offset="0.33" stop-color="#00ffbb"/><stop offset="0.37" stop-color="#00ffb6"/><stop offset="0.41" stop-color="#00ffaf"/><stop offset="0.44" stop-color="#01ffa7"/><stop offset="0.48" stop-color="#03ff9d"/><stop offset="0.52" stop-color="#07ff91"/><stop offset="0.56" stop-color="#10ff82"/><stop offset="0.59" stop-color="#1fff72"/><stop offset="0.63" stop-color="#32ff61"/><stop offset="0.67" stop-color="#4bff50"/><stop offset="0.7" stop-color="#67ff40"/><stop offset="0.74" stop-color="#81ff34"/><stop offset="0.78" stop-color="#9aff28"/><stop offset="0.81" stop-color="#b1fe1e"/><stop offset="0.85" stop-color="#c2fd17"/><stop offset="0.89" stop-color="#d3fc10"/><stop offset="0.93" stop-color="#e0f90b"/><stop offset="0.96" stop-color="#eaf607"/><stop offset="1" stop-color="#f2f104"/></linearGradient>
<linearGradient id="g40"><stop offset="0" stop-color="#00ffd7"/><stop offset="0.04" stop-color="#00ffd5"/><stop offset="0.07" stop-color="#00ffd3"/><stop offset="0.11" stop-color="#00ffd1"/><stop offset="0.15" stop-color="#00ffce"/><stop offset="0.19" stop-color="#00ffcb"/><stop offset="0.22" stop-color="#00ffc8"/><stop offset="0.26" stop-color="#00ffc4"/><stop offset="0.3" stop-color="#00ffc1"/><stop offset="0.33" stop-color="#00ffbc"/><stop offset="0.37" stop-color="#00ffb6"/><stop offset="0.41" stop-color="#00ffaf"/><stop offset="0.44" stop-color="#01ffa7"/><stop offset="0.48" stop-color="#04ff9d"/><stop offset="0.52" stop-color="#0aff90"/><stop offset="0.56" stop-color="#15ff81"/><stop offset="0.59" stop-color="#24ff72"/><stop offset="0.63" stop-color="#3aff61"/><stop offset="0.67" stop-color="#55ff51"/><stop offset="0.7" stop-color="#71ff42"/><stop offset="0.74" stop-color="#8cff35"/><stop offset="0.78" stop-color="#a5fe2a"/><stop offset="0.81" stop-color="#bafe20"/><stop offset="0.85" stop-color="#ccfc18"/><stop offset="0.89" stop-color="#dafa11"/><stop offset="0.93" stop-color="#e6f70c"/><stop offset="0.96" stop-color="#eff308"/><stop offset="1" stop-color="#f5ed05"/></linearGradient>
<linearGradient id="g41"><stop offset="0" stop-color="#00ffd8"/><stop offset="0.04" stop-color="#00ffd6"/><stop offset="0.07" stop-color="#00ffd4"/><stop offset="0.11" stop-color="#00ffd2"/><stop offset="0.14" stop-color="#00ffcf"/><stop offset="0.18" stop-color="#00ffcd"/><stop offset="0.21" stop-color="#00ffca"/><stop offset="0.25" stop-color="#00ffc6"/><stop offset="0.29" stop-color="#00ffc3"/><stop offset="0.32" stop-color="#00ffbe"/><stop offset="0.36" stop-color="#00ffb9"/><stop offset="0.39" stop-color="#00ffb3"/><stop offset="0.43" stop-color="#01ffab"/><stop offset="0.46" stop-color="#04ffa1"/><stop offset="0.5" stop-color="#08ff97"/><stop offset="0.54" stop-color="#12ff89"/><stop offset="0.57" stop-color="#20ff7b"/><stop offset="0.61" stop-color="#35ff6b"/><stop offset="0.64" stop-color="#4fff5b"/><stop offset="0.68" stop-color="#69ff4d"/><stop offset="0.71" stop-color="#85ff40"/><stop offset="0.75" stop-color="#9eff34"/><stop offset="0.79" stop-color="#b3fe2a"/><stop offset="0.82" stop-color="#c6fd20"/><stop offset="0.86" stop-color="#d5fb18"/><stop offset="0.89" stop-color="#e2f811"/><stop offset="0.93" stop-color="#ecf40c"/><stop offset="0.96" stop-color="#f3ee08"/><stop offset="1" stop-color="#f8e805"/></linearGradient>
<linearGradient id="g42"><stop offset="0" stop-color="#00ffd9"/><stop offset="0.04" stop-color="#00ffd7"/><stop offset="0.07" stop-color="#00ffd5"/><stop offset="0.11" stop-color="#00ffd3"/><stop offset="0.14" stop-color="#00ffd0"/><stop offset="0.18" stop-color="#00ffce"/><stop offset="0.21" stop-color="#00ffcb"/><stop offset="0.25" stop-color="#00ffc7"/><stop offset="0.29" stop-color="#00ffc3"/><stop offset="0.32" stop-color="#00ffbf"/><stop offset="0.36" stop-color="#00ffba"/><stop offset="0.39" stop-color="#01ffb3"/><stop offset="0.43" stop-color="#02ffab"/><stop offset="0.46" stop-color="#05ffa1"/><stop offset="0.5" stop-color="#0bff96"/><stop offset="0.54" stop-color="#16ff89"/><stop offset="0.57" stop-color="#27ff7a"/><stop offset="0.61" stop-color="#3eff6b"/><stop offset="0.64" stop-color="#59ff5c"/><stop offset="0.68" stop-color="#76ff4e"/><stop offset="0.71" stop-color="#8fff42"/><stop offset="0.75" stop-color="#a7fe37"/><stop offset="0.79" stop-color="#bcfd2c"/><stop offset="0.82" stop-color="#cefc22"/><stop offset="0.86" stop-color="#ddf919"/><stop offset="0.89" stop-color="#e8f513"/><stop offset="0.93" stop-color="#f0f00d"/><stop offset="0.96" stop-color="#f7ea08"/><stop offset="1" stop-color="#fbe205"/></linearGradient>
<linearGradient id="g43"><stop offset="0" stop-color="#00ffda"/><stop offset="0.04" stop-color="#00ffd8"/><stop offset="0.07" stop-color="#00ffd6"/><stop offset="0.11" stop-color="#00ffd4"/><stop offset="0.14" stop-color="#00ffd2"/><stop offset="0.18" stop-color="#00ffcf"/><stop offset="0.21" stop-color="#00ffcc"/><stop offset="0.25" stop-color="#00ffc9"/><stop offset="0.29" stop-color="#00ffc5"/><stop offset="0.32" stop-color="#00ffc0"/><stop offset="0.36" stop-color="#00ffba"/><stop offset="0.39" stop-color="#01ffb4"/><stop offset="0.43" stop-color="#02ffac"/><stop offset="0.46" stop-color="#06ffa2"/><stop offset="0.5" stop-color="#0eff96"/><stop offset="0.54" stop-color="#1bff89"/><stop offset="0.57" stop-color="#2fff7a"/><stop offset="0.61" stop-color="#48ff6c"/><stop offset="0.64" stop-color="#64ff5e"/><stop offset="0.68" stop-color="#80ff51"/><stop offset="0.71" stop-color="#9bfe45"/><stop offset="0.75" stop-color="#b2fe39"/><stop offset="0.79" stop-color="#c5fc2e"/><stop offset="0.82" stop-color="#d6fa24"/><stop offset="0.86" stop-color="#e3f71b"/><stop offset="0.89" stop-color="#edf213"/><stop offset="0.93" stop-color="#f4eb0d"/><stop offset="0.96" stop-color="#f9e408"/><stop offset="1" stop-color="#fcdc05"/></linearGradient>
<linearGradient id="g44"><stop offset="0" stop-color="#00ffdb"/><stop offset="0.03" stop-color="#00ffd9"/><stop offset="0.07" stop-color="#00ffd7"/><stop offset="0.1" stop-color="#00ffd5"/><stop offset="0.14" stop-color="#00ffd3"/><stop offset="0.17" stop-color="#00ffd1"/><stop offset="0.21" stop-color="#00ffce"/><stop offset="0.24" stop-color="#00ffca"/><stop offset="0.28" stop-color="#00ffc6"/><stop offset="0.31" stop-color="#00ffc2"/><stop offset="0.34" stop-color="#00ffbd"/><stop offset="0.38" stop-color="#01ffb7"/><stop offset="0.41" stop-color="#02ffb0"/><stop offset="0.45" stop-color="#06ffa6"/><stop offset="0.48" stop-color="#0dff9b"/><stop offset="0.52" stop-color="#19ff8f"/><stop offset="0.55" stop-color="#2aff83"/><stop offset="0.59" stop-color="#42ff75"/><stop offset="0.62" stop-color="#5eff68"/><stop offset="0.66" stop-color="#7bff5b"/><stop offset="0.69" stop-color="#94ff50"/><stop offset="0.72" stop-color="#acfe44"/><stop offset="0.76" stop-color="#c1fd39"/><stop offset="0.79" stop-color="#d1fb2f"/><stop offset="0.83" stop-color="#dff724"/><stop offset="0.86" stop-color="#eaf31b"/><stop offset="0.9" stop-color="#f3ed13"/><stop offset="0.93" stop-color="#f8e60d"/><stop offset="0.97" stop-color="#fbde08"/><stop offset="1" stop-color="#fdd605"/></linearGradient>
<linearGradient id="g45"><stop offset="0" stop-color="#00ffdc"/><stop offset="0.03" stop-color="#00ffda"/><stop offset="0.07" stop-color="#00ffd8"/><stop offset="0.1" stop-color="#00ffd6"/><stop offset="0.14" stop-color="#00ffd4"/><stop offset="0.17" stop-color="#00ffd1"/><stop offset="0.21" stop-color="#00ffce"/><stop offset="0.24" stop-color="#00ffcb"/><stop offset="0.28" stop-color="#00ffc8"/><stop offset="0.31" stop-color="#00ffc3"/><stop offset="0.34" stop-color="#00ffbe"/><stop offset="0.38" stop-color="#01ffb7"/><stop offset="0.41" stop-color="#03ffaf"/><stop offset="0.45" stop-color="#08ffa6"/><stop offset="0.48" stop-color="#11ff9b"/><stop offset="0.52" stop-color="#1eff90"/><stop offset="0.55" stop-color="#33ff83"/><stop offset="0.59" stop-color="#4cff76"/><stop offset="0.62" stop-color="#69ff6a"/><stop offset="0.66" stop-color="#85ff5e"/><stop offset="0.69" stop-color="#a0fe52"/><stop offset="0.72" stop-color="#b6fd47"/><stop offset="0.76" stop-color="#c8fc3c"/><stop offset="0.79" stop-color="#d9f931"/><stop offset="0.83" stop-color="#e5f526"/><stop offset="0.86" stop-color="#efef1c"/><stop offset="0.9" stop-color="#f6e814"/><stop offset="0.93" stop-color="#fae00e"/><stop offset="0.97" stop-color="#fdd809"/><stop offset="1" stop-color="#fed005"/></linearGradient>
<linearGradient id="g46"><stop offset="0" stop-color="#00ffdd"/><stop offset="0.03" stop-color="#00ffdb"/><stop offset="0.07" stop-color="#00ffd9"/><stop offset="0.1" stop-color="#00ffd7"/><stop offset="0.13" stop-color="#00ffd5"/><stop offset="0.17" stop-color="#00ffd3"/><stop offset="0.2" stop-color="#00ffd0"/><stop offset="0.23" stop-color="#00ffcd"/><stop offset="0.27" stop-color="#00ffc9"/><stop offset="0.3" stop-color="#00ffc6"/><stop offset="0.33" stop-color="#00ffc0"/><stop offset="0.37" stop-color="#01ffba"/><stop offset="0.4" stop-color="#03ffb3"/><stop offset="0.43" stop-color="#07ffab"/><stop offset="0.47" stop-color="#0fffa0"/><stop offset="0.5" stop-color="#1cff96"/><stop offset="0.53" stop-color="#30ff8a"/><stop offset="0.57" stop-color="#47ff7f"/><stop offset="0.6" stop-color="#63ff73"/><stop offset="0.63" stop-color="#80ff67"/><stop offset="0.67" stop-color="#99fe5d"/><stop offset="0.7" stop-color="#b1fd52"/><stop offset="0.73" stop-color="#c5fc46"/><stop offset="0.77" stop-color="#d5f93c"/><stop offset="0.8" stop-color="#e3f530"/><stop offset="0.83" stop-color="#ecf026"/><stop offset="0.87" stop-color="#f4e91c"/><stop offset="0.9" stop-color="#f9e114"/><stop offset="0.93" stop-color="#fcda0e"/><stop offset="0.97" stop-color="#fed109"/><stop offset="1" stop-color="#feca06"/></linearGradient>
<linearGradient id="g47"><stop offset="0" stop-color="#00ffde"/><stop offset="0.03" stop-color="#00ffdc"/><stop offset="0.07" stop-color="#00ffdb"/><stop offset="0.1" stop-color="#00ffd9"/><stop offset="0.13" stop-color="#00ffd7"/><stop offset="0.17" stop-color="#00ffd4"/><stop offset="0.2" stop-color="#00ffd1"/><stop offset="0.23" stop-color="#00ffce"/><stop offset="0.27" stop-color="#00ffcb"/><stop offset="0.3" stop-color="#00ffc6"/><stop offset="0.33" stop-color="#00ffc1"/><stop offset="0.37" stop-color="#01ffbb"/><stop offset="0.4" stop-color="#04ffb3"/><stop offset="0.43" stop-color="#09ffab"/><stop offset="0.47" stop-color="#13ffa1"/><stop offset="0.5" stop-color="#23ff96"/><stop offset="0.53" stop-color="#39ff8b"/><stop offset="0.57" stop-color="#51ff80"/><stop offset="0.6" stop-color="#6fff75"/><stop offset="0.63" stop-color="#8bff6b"/><stop offset="0.67" stop-color="#a5fe60"/><stop offset="0.7" stop-color="#bafd56"/><stop offset="0.73" stop-color="#cdfb4a"/><stop offset="0.77" stop-color="#dcf73e"/><stop offset="0.8" stop-color="#e9f232"/><stop offset="0.83" stop-color="#f1eb27"/><stop offset="0.87" stop-color="#f7e41d"/><stop offset="0.9" stop-color="#fbdc15"/><stop offset="0.93" stop-color="#fdd30e"/><stop offset="0.97" stop-color="#feca09"/><stop offset="1" stop-color="#ffc306"/></linearGradient>
<linearGradient id="g48"><stop offset="0" stop-color="#00ffdf"/><stop offset="0.03" stop-color="#00ffdd"/><stop offset="0.07" stop-color="#00ffdc"/><stop offset="0.1" stop-color="#00ffda"/><stop offset="0.13" stop-color="#00ffd8"/><stop offset="0.17" stop-color="#00ffd5"/><stop offset="0.2" stop-color="#00ffd3"/><stop offset="0.23" stop-color="#00ffcf"/><stop offset="0.27" stop-color="#00ffcc"/><stop offset="0.3" stop-color="#00ffc7"/><stop offset="0.33" stop-color="#01ffc2"/><stop offset="0.37" stop-color="#02ffbc"/><stop offset="0.4" stop-color="#05ffb4"/><stop offset="0.43" stop-color="#0cffab"/><stop offset="0.47" stop-color="#18ffa1"/><stop offset="0.5" stop-color="#2aff97"/><stop offset="0.53" stop-color="#43ff8c"/><stop offset="0.57" stop-color="#5dff82"/><stop offset="0.6" stop-color="#7aff78"/><stop offset="0.63" stop-color="#96fe6e"/><stop offset="0.67" stop-color="#affd64"/><stop offset="0.7" stop-color="#c4fc58"/><stop offset="0.73" stop-color="#d5f94d"/><stop offset="0.77" stop-color="#e3f440"/><stop offset="0.8" stop-color="#eeee34"/><stop offset="0.83" stop-color="#f5e628"/><stop offset="0.87" stop-color="#fade1e"/><stop offset="0.9" stop-color="#fcd515"/><stop offset="0.93" stop-color="#fecd0f"/><stop offset="0.97" stop-color="#ffc40a"/><stop offset="1" stop-color="#ffbd06"/></linearGradient>
<linearGradient id="g49"><stop offset="0" stop-color="#00ffe0"/><stop offset="0.03" stop-color="#00ffdf"/><stop offset="0.06" stop-color="#00ffdd"/><stop offset="0.1" stop-color="#00ffdb"/><stop offset="0.13" stop-color="#00ffd9"/><stop offset="0.16" stop-color="#00ffd7"/><stop offset="0.19" stop-color="#00ffd4"/><stop offset="0.23" stop-color="#00ffd1"/><stop offset="0.26" stop-color="#00ffce"/><stop offset="0.29" stop-color="#00ffca"/><stop offset="0.32" stop-color="#01ffc5"/><stop offset="0.35" stop-color="#02ffbf"/><stop offset="0.39" stop-color="#04ffb8"/><stop offset="0.42" stop-color="#0bffb0"/><stop offset="0.45" stop-color="#16ffa7"/><stop offset="0.48" stop-color="#26ff9e"/><stop offset="0.52" stop-color="#3dff93"/><stop offset="0.55" stop-color="#59ff89"/><stop offset="0.58" stop-color="#77ff80"/><stop offset="0.61" stop-color="#91fe77"/><stop offset="0.65" stop-color="#abfd6d"/><stop offset="0.68" stop-color="#c1fc63"/><stop offset="0.71" stop-color="#d2f958"/><stop offset="0.74" stop-color="#e0f54c"/><stop offset="0.77" stop-color="#ecef3f"/><stop offset="0.81" stop-color="#f3e833"/><stop offset="0.84" stop-color="#f8df28"/><stop offset="0.87" stop-color="#fcd61d"/><stop offset="0.9" stop-color="#fdce15"/><stop offset="0.94" stop-color="#fec50e"/><stop offset="0.97" stop-color="#ffbd09"/><stop offset="1" stop-color="#ffb606"/></linearGradient>
<linearGradient id="g50"><stop offset="0" stop-color="#00ffe1"/><stop offset="0.03" stop-color="#00ffe0"/><stop offset="0.06" stop-color="#00ffde"/><stop offset="0.1" stop-color="#00ffdc"/><stop offset="0.13" stop-color="#00ffda"/><stop offset="0.16" stop-color="#00ffd8"/><stop offset="0.19" stop-color="#00ffd5"/><stop offset="0.23" stop-color="#00ffd2"/><stop offset="0.26" stop-color="#00ffcf"/><stop offset="0.29" stop-color="#00ffcb"/><stop offset="0.32" stop-color="#01ffc6"/><stop offset="0.35" stop-color="#02ffc0"/><stop offset="0.39" stop-color="#06ffb9"/><stop offset="0.42" stop-color="#0effb1"/><stop offset="0.45" stop-color="#1affa8"/><stop offset="0.48" stop-color="#2eff9f"/><stop offset="0.52" stop-color="#48ff95"/><stop offset="0.55" stop-color="#65ff8c"/><stop offset="0.58" stop-color="#82ff83"/><stop offset="0.61" stop-color="#9cfe7b"/><stop offset="0.65" stop-color="#b4fd71"/><stop offset="0.68" stop-color="#c9fa66"/><stop offset="0.71" stop-color="#daf75b"/><stop offset="0.74" stop-color="#e7f14e"/><stop offset="0.77" stop-color="#f0eb42"/><stop offset="0.81" stop-color="#f6e235"/><stop offset="0.84" stop-color="#fad929"/><stop offset="0.87" stop-color="#fdd01e"/><stop offset="0.9" stop-color="#fec715"/><stop offset="0.94" stop-color="#ffbf0f"/><stop offset="0.97" stop-color="#ffb70a"/><stop offset="1" stop-color="#ffb006"/></linearGradient>
<linearGradient id="g51"><stop offset="0" stop-color="#00ffe2"/><stop offset="0.03" stop-color="#00ffe1"/><stop offset="0.06" stop-color="#00ffdf"/><stop offset="0.1" stop-color="#00ffde"/><stop offset="0.13" stop-color="#00ffdc"/><stop offset="0.16" stop-color="#00ffd9"/><stop offset="0.19" stop-color="#00ffd7"/><stop offset="0.23" stop-color="#00ffd4"/><stop offset="0.26" stop-color="#00ffd0"/><stop offset="0.29" stop-color="#00ffcc"/><stop offset="0.32" stop-color="#01ffc7"/><stop offset="0.35" stop-color="#03ffc1"/><stop offset="0.39" stop-color="#08ffba"/><stop offset="0.42" stop-color="#12ffb2"/><stop offset="0.45" stop-color="#21ffa9"/><stop offset="0.48" stop-color="#37ffa0"/><stop offset="0.52" stop-color="#53ff97"/><stop offset="0.55" stop-color="#71ff8e"/><stop offset="0.58" stop-color="#8efe86"/><stop offset="0.61" stop-color="#a9fd7d"/><stop offset="0.65" stop-color="#bffb74"/><stop offset="0.68" stop-color="#d2f869"/><stop offset="0.71" stop-color="#e0f45e"/><stop offset="0.74" stop-color="#ebee51"/><stop offset="0.77" stop-color="#f4e643"/><stop offset="0.81" stop-color="#f9dc36"/><stop offset="0.84" stop-color="#fcd32a"/><stop offset="0.87" stop-color="#fec91f"/><stop offset="0.9" stop-color="#fec016"/><stop offset="0.94" stop-color="#ffb80f"/><stop offset="0.97" stop-color="#ffb00a"/><stop offset="1" stop-color="#ffa906"/></linearGradient>
<linearGradient id="g52"><stop offset="0" stop-color="#00ffe3"/><stop offset="0.03" stop-color="#00ffe2"/><stop offset="0.06" stop-color="#00ffe1"/><stop offset="0.09" stop-color="#00ffdf"/><stop offset="0.12" stop-color="#00ffdd"/><stop offset="0.16" stop-color="#00ffdb"/><stop offset="0.19" stop-color="#00ffd9"/><stop offset="0.22" stop-color="#00ffd6"/><stop offset="0.25" stop-color="#00ffd2"/><stop offset="0.28" stop-color="#00ffce"/><stop offset="0.31" stop-color="#01ffca"/><stop offset="0.34" stop-color="#03ffc4"/><stop offset="0.38" stop-color="#08ffbe"/><stop offset="0.41" stop-color="#10ffb7"/><stop offset="0.44" stop-color="#1fffae"/><stop offset="0.47" stop-color="#34ffa6"/><stop offset="0.5" stop-color="#4fff9d"/><stop offset="0.53" stop-color="#6bff96"/><stop offset="0.56" stop-color="#89fe8e"/><stop offset="0.59" stop-color="#a4fd86"/><stop offset="0.62" stop-color="#bafc7e"/><stop offset="0.66" stop-color="#cef974"/><stop offset="0.69" stop-color="#def469"/><stop offset="0.72" stop-color="#eaee5c"/><stop offset="0.75" stop-color="#f2e74f"/><stop offset="0.78" stop-color="#f8dd41"/><stop offset="0.81" stop-color="#fbd434"/><stop offset="0.84" stop-color="#fdca29"/><stop offset="0.88" stop-color="#fec11f"/><stop offset="0.91" stop-color="#ffb816"/><stop offset="0.94" stop-color="#ffb110"/><stop offset="0.97" stop-color="#ffaa0a"/><stop offset="1" stop-color="#ffa306"/></linearGradient>
<linearGradient id="g53"><stop offset="0" stop-color="#00ffe5"/><stop offset="0.03" stop-color="#00ffe3"/><stop offset="0.06" stop-color="#00ffe2"/><stop offset="0.09" stop-color="#00ffe0"/><stop offset="0.12" stop-color="#00ffde"/><stop offset="0.16" stop-color="#00ffdc"/><stop offset="0.19" stop-color="#00ffda"/><stop offset="0.22" stop-color="#00ffd7"/><stop offset="0.25" stop-color="#00ffd4"/><stop offset="0.28" stop-color="#00ffd0"/><stop offset="0.31" stop-color="#01ffcb"/><stop offset="0.34" stop-color="#04ffc6"/><stop offset="0.38" stop-color="#0affbf"/><stop offset="0.41" stop-color="#15ffb8"/><stop offset="0.44" stop-color="#26ffb0"/><stop offset="0.47" stop-color="#3effa7"/><stop offset="0.5" stop-color="#59ffa0"/><stop offset="0.53" stop-color="#77ff99"/><stop offset="0.56" stop-color="#94fe91"/><stop offset="0.59" stop-color="#affc8a"/><stop offset="0.62" stop-color="#c5fa81"/><stop offset="0.66" stop-color="#d7f676"/><stop offset="0.69" stop-color="#e4f16c"/><stop offset="0.72" stop-color="#eeea5e"/><stop offset="0.75" stop-color="#f6e151"/><stop offset="0.78" stop-color="#fad743"/><stop offset="0.81" stop-color="#fdcd35"/><stop offset="0.84" stop-color="#fec329"/><stop offset="0.88" stop-color="#ffba1f"/><stop offset="0.91" stop-color="#ffb217"/><stop offset="0.94" stop-color="#ffaa10"/><stop offset="0.97" stop-color="#ffa30a"/><stop offset="1" stop-color="#ff9d07"/></linearGradient>
<linearGradient id="g54"><stop offset="0" stop-color="#00ffe6"/><stop offset="0.03" stop-color="#00ffe4"/><stop offset="0.06" stop-color="#00ffe3"/><stop offset="0.09" stop-color="#00ffe1"/><stop offset="0.12" stop-color="#00ffe0"/><stop offset="0.16" stop-color="#00ffde"/><stop offset="0.19" stop-color="#00ffdb"/><stop offset="0.22" stop-color="#00ffd8"/><stop offset="0.25" stop-color="#00ffd5"/><stop offset="0.28" stop-color="#01ffd1"/><stop offset="0.31" stop-color="#02ffcd"/><stop offset="0.34" stop-color="#05ffc7"/><stop offset="0.38" stop-color="#0dffc1"/><stop offset="0.41" stop-color="#19ffb9"/><stop offset="0.44" stop-color="#2dffb2"/><stop offset="0.47" stop-color="#47ffaa"/><stop offset="0.5" stop-color="#64ffa3"/><stop offset="0.53" stop-color="#83fe9c"/><stop offset="0.56" stop-color="#a0fd95"/><stop offset="0.59" stop-color="#b9fb8d"/><stop offset="0.62" stop-color="#cdf884"/><stop offset="0.66" stop-color="#def379"/><stop offset="0.69" stop-color="#eaed6d"/><stop offset="0.72" stop-color="#f3e460"/><stop offset="0.75" stop-color="#f8db52"/><stop offset="0.78" stop-color="#fcd044"/><stop offset="0.81" stop-color="#fec636"/><stop offset="0.84" stop-color="#febc2a"/><stop offset="0.88" stop-color="#ffb320"/><stop offset="0.91" stop-color="#ffaa17"/><stop offset="0.94" stop-color="#ffa310"/><stop offset="0.97" stop-color="#ff9d0b"/><stop offset="1" stop-color="#ff9707"/></linearGradient>
<linearGradient id="g55"><stop offset="0" stop-color="#00ffe7"/><stop offset="0.03" stop-color="#00ffe6"/><stop offset="0.06" stop-color="#00ffe4"/><stop offset="0.09" stop-color="#00ffe3"/><stop offset="0.12" stop-color="#00ffe1"/><stop offset="0.15" stop-color="#00ffdf"/><stop offset="0.18" stop-color="#00ffdd"/><stop offset="0.21" stop-color="#00ffda"/><stop offset="0.24" stop-color="#00ffd7"/><stop offset="0.27" stop-color="#01ffd4"/><stop offset="0.3" stop-color="#02ffcf"/><stop offset="0.33" stop-color="#05ffca"/><stop offset="0.36" stop-color="#0cffc4"/><stop offset="0.39" stop-color="#19ffbe"/><stop offset="0.42" stop-color="#2cffb6"/><stop offset="0.45" stop-color="#43ffb0"/><stop offset="0.48" stop-color="#61ffa9"/><stop offset="0.52" stop-color="#80fea3"/><stop offset="0.55" stop-color="#9dfd9c"/><stop offset="0.58" stop-color="#b5fc95"/><stop offset="0.61" stop-color="#cbf88d"/><stop offset="0.64" stop-color="#dcf483"/><stop offset="0.67" stop-color="#e9ed77"/><stop offset="0.7" stop-color="#f1e56b"/><stop offset="0.73" stop-color="#f7dc5d"/><stop offset="0.76" stop-color="#fbd14f"/><stop offset="0.79" stop-color="#fdc742"/><stop offset="0.82" stop-color="#febd35"/><stop offset="0.85" stop-color="#ffb329"/><stop offset="0.88" stop-color="#ffab1f"/><stop offset="0.91" stop-color="#ffa317"/><stop offset="0.94" stop-color="#ff9c10"/><stop offset="0.97" stop-color="#ff960b"/><stop offset="1" stop-color="#ff9107"/></linearGradient>
<linearGradient id="g56"><stop offset="0" stop-color="#00ffe8"/><stop offset="0.03" stop-color="#00ffe7"/><stop offset="0.06" stop-color="#00ffe6"/><stop offset="0.09" stop-color="#00ffe4"/><stop offset="0.12" stop-color="#00ffe3"/><stop offset="0.15" stop-color="#00ffe1"/><stop offset="0.18" stop-color="#00ffde"/><stop offset="0.21" stop-color="#00ffdc"/><stop offset="0.24" stop-color="#00ffd9"/><stop offset="0.27" stop-color="#01ffd5"/><stop offset="0.3" stop-color="#03ffd1"/><stop offset="0.33" stop-color="#07ffcc"/><stop offset="0.36" stop-color="#0fffc6"/><stop offset="0.39" stop-color="#1effc0"/><stop offset="0.42" stop-color="#33ffb9"/><stop offset="0.45" stop-color="#4fffb2"/><stop offset="0.48" stop-color="#6dfeac"/><stop offset="0.52" stop-color="#8cfea6"/><stop offset="0.55" stop-color="#a8fc9f"/><stop offset="0.58" stop-color="#bffa99"/><stop offset="0.61" stop-color="#d3f690"/><stop offset="0.64" stop-color="#e2f086"/><stop offset="0.67" stop-color="#ede97a"/><stop offset="0.7" stop-color="#f5df6c"/><stop offset="0.73" stop-color="#fad55e"/><stop offset="0.76" stop-color="#fcca50"/><stop offset="0.79" stop-color="#febf42"/><stop offset="0.82" stop-color="#ffb636"/><stop offset="0.85" stop-color="#ffad2a"/><stop offset="0.88" stop-color="#ffa420"/><stop offset="0.91" stop-color="#ff9c17"/><stop offset="0.94" stop-color="#ff9610"/><stop offset="0.97" stop-color="#ff900b"/><stop offset="1" stop-color="#ff8a07"/></linearGradient>
<linearGradient id="g57"><stop offset="0" stop-color="#00ffe9"/><stop offset="0.03" stop-color="#00ffe8"/><stop offset="0.06" stop-color="#00ffe7"/><stop offset="0.09" stop-color="#00ffe6"/><stop offset="0.12" stop-color="#00ffe4"/><stop offset="0.15" stop-color="#00ffe2"/><stop offset="0.18" stop-color="#00ffe0"/><stop offset="0.21" stop-color="#00ffdd"/><stop offset="0.24" stop-color="#00ffda"/><stop offset="0.27" stop-color="#01ffd7"/><stop offset="0.3" stop-color="#04ffd2"/><stop offset="0.33" stop-color="#09ffcd"/><stop offset="0.36" stop-color="#14ffc8"/><stop offset="0.39" stop-color="#25ffc1"/><stop offset="0.42" stop-color="#3dffbb"/><stop offset="0.45" stop-color="#5affb5"/><stop offset="0.48" stop-color="#7afeaf"/><stop offset="0.52" stop-color="#98fda9"/><stop offset="0.55" stop-color="#b3fba3"/><stop offset="0.58" stop-color="#caf89b"/><stop offset="0.61" stop-color="#dbf392"/><stop offset="0.64" stop-color="#e9ec87"/><stop offset="0.67" stop-color="#f2e37a"/><stop offset="0.7" stop-color="#f8d96d"/><stop offset="0.73" stop-color="#fbce5f"/><stop offset="0.76" stop-color="#fdc350"/><stop offset="0.79" stop-color="#feb843"/><stop offset="0.82" stop-color="#ffae36"/><stop offset="0.85" stop-color="#ffa52a"/><stop offset="0.88" stop-color="#ff9d20"/><stop offset="0.91" stop-color="#ff9518"/><stop offset="0.94" stop-color="#ff8f11"/><stop offset="0.97" stop-color="#ff890b"/><stop offset="1" stop-color="#ff8407"/></linearGradient>
<linearGradient id="g58"><stop offset="0" stop-color="#00ffeb"/><stop offset="0.03" stop-color="#00ffea"/><stop offset="0.06" stop-color="#00ffe8"/><stop offset="0.09" stop-color="#00ffe7"/><stop offset="0.12" stop-color="#00ffe6"/><stop offset="0.15" stop-color="#00ffe4"/><stop offset="0.18" stop-color="#00ffe2"/><stop offset="0.21" stop-color="#00ffe0"/><stop offset="0.24" stop-color="#00ffdd"/><stop offset="0.26" stop-color="#01ffda"/><stop offset="0.29" stop-color="#04ffd6"/><stop offset="0.32" stop-color="#09ffd1"/><stop offset="0.35" stop-color="#13ffcc"/><stop offset="0.38" stop-color="#23ffc6"/><stop offset="0.41" stop-color="#3affc0"/><stop offset="0.44" stop-color="#57febb"/><stop offset="0.47" stop-color="#77feb5"/><stop offset="0.5" stop-color="#93fdb0"/><stop offset="0.53" stop-color="#affbaa"/><stop offset="0.56" stop-color="#c6f8a3"/><stop offset="0.59" stop-color="#d9f39a"/><stop offset="0.62" stop-color="#e6ed91"/><stop offset="0.65" stop-color="#f0e485"/><stop offset="0.68" stop-color="#f7da77"/><stop offset="0.71" stop-color="#fbcf6a"/><stop offset="0.74" stop-color="#fdc45b"/><stop offset="0.76" stop-color="#feba4f"/><stop offset="0.79" stop-color="#ffaf41"/><stop offset="0.82" stop-color="#ffa635"/><stop offset="0.85" stop-color="#ff9d29"/><stop offset="0.88" stop-color="#ff9620"/><stop offset="0.91" stop-color="#ff8e18"/><stop offset="0.94" stop-color="#ff8811"/><stop offset="0.97" stop-color="#ff830c"/><stop offset="1" stop-color="#ff7e08"/></linearGradient>
<linearGradient id="g59"><stop offset="0" stop-color="#00ffec"/><stop offset="0.03" stop-color="#00ffeb"/><stop offset="0.06" stop-color="#00ffea"/><stop offset="0.09" stop-color="#00ffe9"/><stop offset="0.12" stop-color="#00ffe7"/><stop offset="0.15" stop-color="#00ffe5"/><stop offset="0.18" stop-color="#00ffe4"/><stop offset="0.21" stop-color="#00ffe1"/><stop offset="0.24" stop-color="#01ffdf"/><stop offset="0.26" stop-color="#02ffdb"/><stop offset="0.29" stop-color="#05ffd8"/><stop offset="0.32" stop-color="#0bffd3"/><stop offset="0.35" stop-color="#18ffce"/><stop offset="0.38" stop-color="#2bffc8"/><stop offset="0.41" stop-color="#45fec3"/><stop offset="0.44" stop-color="#60febe"/><stop offset="0.47" stop-color="#80fdb9"/><stop offset="0.5" stop-color="#9ffcb3"/><stop offset="0.53" stop-color="#b9faad"/><stop offset="0.56" stop-color="#cff6a6"/><stop offset="0.59" stop-color="#e0f09c"/><stop offset="0.62" stop-color="#ece891"/><stop offset="0.65" stop-color="#f4de85"/><stop offset="0.68" stop-color="#f9d378"/><stop offset="0.71" stop-color="#fcc86b"/><stop offset="0.74" stop-color="#febd5d"/><stop offset="0.76" stop-color="#ffb24f"/><stop offset="0.79" stop-color="#ffa842"/><stop offset="0.82" stop-color="#ff9f36"/><stop offset="0.85" stop-color="#ff962a"/><stop offset="0.88" stop-color="#ff8e20"/><stop offset="0.91" stop-color="#ff8718"/><stop offset="0.94" stop-color="#ff8111"/><stop offset="0.97" stop-color="#ff7c0c"/><stop offset="1" stop-color="#ff7708"/></linearGradient>
<linearGradient id="g60"><stop offset="0" stop-color="#00ffed"/><stop offset="0.03" stop-color="#00ffec"/><stop offset="0.06" stop-color="#00ffeb"/><stop offset="0.09" stop-color="#00ffea"/><stop offset="0.11" stop-color="#00ffe9"/><stop offset="0.14" stop-color="#00ffe7"/><stop offset="0.17" stop-color="#00ffe5"/><stop offset="0.2" stop-color="#00ffe3"/><stop offset="0.23" stop-color="#01ffe1"/><stop offset="0.26" stop-color="#02ffde"/><stop offset="0.29" stop-color="#05ffda"/><stop offset="0.31" stop-color="#0bfed7"/><stop offset="0.34" stop-color="#17fed2"/><stop offset="0.37" stop-color="#2afecd"/><stop offset="0.4" stop-color="#41fec8"/><stop offset="0.43" stop-color="#60fec3"/><stop offset="0.46" stop-color="#80fdbe"/><stop offset="0.49" stop-color="#9cfcba"/><stop offset="0.51" stop-color="#b7f9b4"/><stop offset="0.54" stop-color="#cef5ad"/><stop offset="0.57" stop-color="#def0a4"/><stop offset="0.6" stop-color="#ebe89a"/><stop offset="0.63" stop-color="#f3de8e"/><stop offset="0.66" stop-color="#f9d482"/><stop offset="0.69" stop-color="#fcc974"/><stop offset="0.71" stop-color="#febd66"/><stop offset="0.74" stop-color="#feb359"/><stop offset="0.77" stop-color="#ffa84c"/><stop offset="0.8" stop-color="#ff9e3f"/><stop offset="0.83" stop-color="#ff9634"/><stop offset="0.86" stop-color="#ff8e2a"/><stop offset="0.89" stop-color="#ff8720"/><stop offset="0.91" stop-color="#ff8018"/><stop offset="0.94" stop-color="#ff7a12"/><stop offset="0.97" stop-color="#ff750c"/><stop offset="1" stop-color="#ff7109"/></linearGradient>
<linearGradient id="g61"><stop offset="0" stop-color="#00ffef"/><stop offset="0.03" stop-color="#00ffee"/><stop offset="0.06" stop-color="#00ffed"/><stop offset="0.09" stop-color="#00ffec"/><stop offset="0.11" stop-color="#00ffea"/><stop offset="0.14" stop-color="#00ffe9"/><stop offset="0.17" stop-color="#00ffe7"/><stop offset="0.2" stop-color="#00fee5"/><stop offset="0.23" stop-color="#01fee3"/><stop offset="0.26" stop-color="#02fee0"/><stop offset="0.29" stop-color="#06fedd"/><stop offset="0.31" stop-color="#0efed9"/><stop offset="0.34" stop-color="#1cfed4"/><stop offset="0.37" stop-color="#31fed0"/><stop offset="0.4" stop-color="#4cfecb"/><stop offset="0.43" stop-color="#6afdc7"/><stop offset="0.46" stop-color="#8afcc2"/><stop offset="0.49" stop-color="#a8fbbd"/><stop offset="0.51" stop-color="#c1f7b7"/><stop offset="0.54" stop-color="#d6f2af"/><stop offset="0.57" stop-color="#e4eca6"/><stop offset="0.6" stop-color="#efe39b"/><stop offset="0.63" stop-color="#f6d88f"/><stop offset="0.66" stop-color="#fbcd81"/><stop offset="0.69" stop-color="#fdc275"/><stop offset="0.71" stop-color="#feb667"/><stop offset="0.74" stop-color="#ffab5a"/><stop offset="0.77" stop-color="#ffa14d"/><stop offset="0.8" stop-color="#ff9740"/><stop offset="0.83" stop-color="#ff8f35"/><stop offset="0.86" stop-color="#ff872b"/><stop offset="0.89" stop-color="#ff8021"/><stop offset="0.91" stop-color="#ff7919"/><stop offset="0.94" stop-color="#ff7312"/><stop offset="0.97" stop-color="#ff6e0d"/><stop offset="1" stop-color="#ff6a09"/></linearGradient>
<linearGradient id="g62"><stop offset="0" stop-color="#00fff0"/><stop offset="0.03" stop-color="#00ffef"/><stop offset="0.06" stop-color="#00ffee"/><stop offset="0.09" stop-color="#00feed"/><stop offset="0.11" stop-color="#00feec"/><stop offset="0.14" stop-color="#00feea"/><stop offset="0.17" stop-color="#00fee9"/><stop offset="0.2" stop-color="#00fee7"/><stop offset="0.23" stop-color="#01fee5"/><stop offset="0.26" stop-color="#03fee2"/><stop offset="0.29" stop-color="#08fedf"/><stop offset="0.31" stop-color="#11fedb"/><stop offset="0.34" stop-color="#21fed7"/><stop offset="0.37" stop-color="#38fed3"/><stop offset="0.4" stop-color="#56fdce"/><stop offset="0.43" stop-color="#76fdca"/><stop offset="0.46" stop-color="#96fbc6"/><stop offset="0.49" stop-color="#b3f9c0"/><stop offset="0.51" stop-color="#cbf5ba"/><stop offset="0.54" stop-color="#ddefb1"/><stop offset="0.57" stop-color="#e9e7a8"/><stop offset="0.6" stop-color="#f3dd9c"/><stop offset="0.63" stop-color="#f9d28f"/><stop offset="0.66" stop-color="#fcc682"/><stop offset="0.69" stop-color="#feba74"/><stop offset="0.71" stop-color="#feae67"/><stop offset="0.74" stop-color="#ffa35a"/><stop offset="0.77" stop-color="#ff994d"/><stop offset="0.8" stop-color="#ff9041"/><stop offset="0.83" stop-color="#ff8735"/><stop offset="0.86" stop-color="#ff802c"/><stop offset="0.89" stop-color="#ff7922"/><stop offset="0.91" stop-color="#ff721a"/><stop offset="0.94" stop-color="#ff6c13"/><stop offset="0.97" stop-color="#ff670e"/><stop offset="1" stop-color="#ff630a"/></linearGradient>
<linearGradient id="g63"><stop offset="0" stop-color="#00fef1"/><stop offset="0.03" stop-color="#00fef0"/><stop offset="0.06" stop-color="#00fef0"/><stop offset="0.08" stop-color="#00feef"/><stop offset="0.11" stop-color="#00feee"/><stop offset="0.14" stop-color="#00feec"/><stop offset="0.17" stop-color="#00feeb"/><stop offset="0.19" stop-color="#00fee9"/><stop offset="0.22" stop-color="#01fee7"/><stop offset="0.25" stop-color="#03fee5"/><stop offset="0.28" stop-color="#08fee2"/><stop offset="0.31" stop-color="#12fdde"/><stop offset="0.33" stop-color="#20fddb"/><stop offset="0.36" stop-color="#37fdd7"/><stop offset="0.39" stop-color="#55fdd3"/><stop offset="0.42" stop-color="#75fccf"/><stop offset="0.44" stop-color="#93fbcb"/><stop offset="0.47" stop-color="#b1f8c6"/><stop offset="0.5" stop-color="#c9f4c0"/><stop offset="0.53" stop-color="#dbefb8"/><stop offset="0.56" stop-color="#e9e7ae"/><stop offset="0.58" stop-color="#f2dca3"/><stop offset="0.61" stop-color="#f8d297"/><stop offset="0.64" stop-color="#fcc68a"/><stop offset="0.67" stop-color="#feba7d"/><stop offset="0.69" stop-color="#feaf70"/><stop offset="0.72" stop-color="#ffa463"/><stop offset="0.75" stop-color="#ff9957"/><stop offset="0.78" stop-color="#ff904b"/><stop offset="0.81" stop-color="#ff8740"/><stop offset="0.83" stop-color="#ff7f34"/><stop offset="0.86" stop-color="#ff782b"/><stop offset="0.89" stop-color="#ff7122"/><stop offset="0.92" stop-color="#ff6a1a"/><stop offset="0.94" stop-color="#ff6413"/><stop offset="0.97" stop-color="#ff600e"/><stop offset="1" stop-color="#ff5b0b"/></linearGradient>
<linearGradient id="g64"><stop offset="0" stop-color="#00fef2"/><stop offset="0.03" stop-color="#00fef2"/><stop offset="0.06" stop-color="#00fef1"/><stop offset="0.08" stop-color="#00fef0"/><stop offset="0.11" stop-color="#00feef"/><stop offset="0.14" stop-color="#00feee"/><stop offset="0.17" stop-color="#00feed"/><stop offset="0.19" stop-color="#00feeb"/><stop offset="0.22" stop-color="#01fde9"/><stop offset="0.25" stop-color="#04fde7"/><stop offset="0.28" stop-color="#0afde4"/><stop offset="0.31" stop-color="#16fde1"/><stop offset="0.33" stop-color="#28fddd"/><stop offset="0.36" stop-color="#3ffcda"/><stop offset="0.39" stop-color="#5efcd7"/><stop offset="0.42" stop-color="#80fbd3"/><stop offset="0.44" stop-color="#9ff9cf"/><stop offset="0.47" stop-color="#bbf6c9"/><stop offset="0.5" stop-color="#d0f1c3"/><stop offset="0.53" stop-color="#e1eaba"/><stop offset="0.56" stop-color="#eee1af"/><stop offset="0.58" stop-color="#f6d6a3"/><stop offset="0.61" stop-color="#faca96"/><stop offset="0.64" stop-color="#fdbf8a"/><stop offset="0.67" stop-color="#feb27d"/><stop offset="0.69" stop-color="#ffa770"/><stop offset="0.72" stop-color="#ff9c63"/><stop offset="0.75" stop-color="#ff9257"/><stop offset="0.78" stop-color="#ff894c"/><stop offset="0.81" stop-color="#ff8040"/><stop offset="0.83" stop-color="#ff7835"/><stop offset="0.86" stop-color="#ff702b"/><stop offset="0.89" stop-color="#ff6922"/><stop offset="0.92" stop-color="#ff631b"/><stop offset="0.94" stop-color="#ff5d14"/><stop offset="0.97" stop-color="#ff580f"/><stop offset="1" stop-color="#ff540c"/></linearGradient>
<linearGradient id="g65"><stop offset="0" stop-color="#00fef4"/><stop offset="0.03" stop-color="#00fef3"/><stop offset="0.06" stop-color="#00fef2"/><stop offset="0.08" stop-color="#00fef2"/><stop offset="0.11" stop-color="#00fef1"/><stop offset="0.14" stop-color="#00fdef"/><stop offset="0.17" stop-color="#00fdee"/><stop offset="0.19" stop-color="#01fded"/><stop offset="0.22" stop-color="#02fdeb"/><stop offset="0.25" stop-color="#05fde9"/><stop offset="0.28" stop-color="#0dfce6"/><stop offset="0.31" stop-color="#1afce3"/><stop offset="0.33" stop-color="#2ffce0"/><stop offset="0.36" stop-color="#4bfbdd"/><stop offset="0.39" stop-color="#6bfbda"/><stop offset="0.42" stop-color="#8cf9d6"/><stop offset="0.44" stop-color="#abf7d2"/><stop offset="0.47" stop-color="#c3f4cc"/><stop offset="0.5" stop-color="#d8eec5"/><stop offset="0.53" stop-color="#e7e5bb"/><stop offset="0.56" stop-color="#f2dbb0"/><stop offset="0.58" stop-color="#f8cfa3"/><stop offset="0.61" stop-color="#fcc396"/><stop offset="0.64" stop-color="#feb689"/><stop offset="0.67" stop-color="#feaa7c"/><stop offset="0.69" stop-color="#ff9f6f"/><stop offset="0.72" stop-color="#ff9463"/><stop offset="0.75" stop-color="#ff8a57"/><stop offset="0.78" stop-color="#ff814c"/><stop offset="0.81" stop-color="#ff7941"/><stop offset="0.83" stop-color="#ff7036"/><stop offset="0.86" stop-color="#ff682c"/><stop offset="0.89" stop-color="#ff6123"/><stop offset="0.92" stop-color="#ff5b1b"/><stop offset="0.94" stop-color="#ff5515"/><stop offset="0.97" stop-color="#ff5010"/><stop offset="1" stop-color="#ff4c0d"/></linearGradient>
<linearGradient id="g66"><stop offset="0" stop-color="#00fef5"/><stop offset="0.03" stop-color="#00fdf4"/><stop offset="0.05" stop-color="#00fdf4"/><stop offset="0.08" stop-color="#00fdf3"/><stop offset="0.11" stop-color="#00fdf2"/><stop offset="0.14" stop-color="#00fdf1"/><stop offset="0.16" stop-color="#00fdf0"/><stop offset="0.19" stop-color="#01fcef"/><stop offset="0.22" stop-color="#02fced"/><stop offset="0.24" stop-color="#06fceb"/><stop offset="0.27" stop-color="#0dfbe9"/><stop offset="0.3" stop-color="#1bfbe7"/><stop offset="0.32" stop-color="#2efbe4"/><stop offset="0.35" stop-color="#49fae1"/><stop offset="0.38" stop-color="#6afade"/><stop offset="0.41" stop-color="#89f8db"/><stop offset="0.43" stop-color="#a8f6d7"/><stop offset="0.46" stop-color="#c3f2d2"/><stop offset="0.49" stop-color="#d7edcb"/><stop offset="0.51" stop-color="#e6e5c1"/><stop offset="0.54" stop-color="#f1dab6"/><stop offset="0.57" stop-color="#f7cfab"/><stop offset="0.59" stop-color="#fbc39e"/><stop offset="0.62" stop-color="#fdb690"/><stop offset="0.65" stop-color="#feaa83"/><stop offset="0.68" stop-color="#ff9f78"/><stop offset="0.7" stop-color="#ff946c"/><stop offset="0.73" stop-color="#ff8a60"/><stop offset="0.76" stop-color="#ff8155"/><stop offset="0.78" stop-color="#ff774a"/><stop offset="0.81" stop-color="#ff6f3f"/><stop offset="0.84" stop-color="#ff6736"/><stop offset="0.86" stop-color="#ff5f2c"/><stop offset="0.89" stop-color="#ff5823"/><stop offset="0.92" stop-color="#ff521c"/><stop offset="0.95" stop-color="#ff4d16"/><stop offset="0.97" stop-color="#ff4812"/><stop offset="1" stop-color="#ff450f"/></linearGradient>
<linearGradient id="g67"><stop offset="0" stop-color="#00fdf6"/><stop offset="0.03" stop-color="#00fdf6"/><stop offset="0.05" stop-color="#00fdf5"/><stop offset="0.08" stop-color="#00fdf4"/><stop offset="0.11" stop-color="#00fdf4"/><stop offset="0.14" stop-color="#00fcf3"/><stop offset="0.16" stop-color="#00fcf2"/><stop offset="0.19" stop-color="#01fcf1"/><stop offset="0.22" stop-color="#03fbef"/><stop offset="0.24" stop-color="#07fbed"/><stop offset="0.27" stop-color="#10faeb"/><stop offset="0.3" stop-color="#20fae9"/><stop offset="0.32" stop-color="#35f9e7"/><stop offset="0.35" stop-color="#52f9e4"/><stop offset="0.38" stop-color="#74f8e1"/><stop offset="0.41" stop-color="#95f6de"/><stop offset="0.43" stop-color="#b3f3da"/><stop offset="0.46" stop-color="#caefd4"/><stop offset="0.49" stop-color="#dee8cc"/><stop offset="0.51" stop-color="#ecdfc2"/><stop offset="0.54" stop-color="#f4d3b6"/><stop offset="0.57" stop-color="#fac7a9"/><stop offset="0.59" stop-color="#fcbb9d"/><stop offset="0.62" stop-color="#feae90"/><stop offset="0.65" stop-color="#ffa283"/><stop offset="0.68" stop-color="#ff9777"/><stop offset="0.7" stop-color="#ff8c6b"/><stop offset="0.73" stop-color="#ff8361"/><stop offset="0.76" stop-color="#ff7956"/><stop offset="0.78" stop-color="#ff704b"/><stop offset="0.81" stop-color="#ff6740"/><stop offset="0.84" stop-color="#ff5e36"/><stop offset="0.86" stop-color="#ff572d"/><stop offset="0.89" stop-color="#ff5025"/><stop offset="0.92" stop-color="#ff4a1e"/><stop offset="0.95" stop-color="#ff4518"/><stop offset="0.97" stop-color="#ff4014"/><stop offset="1" stop-color="#ff3d11"/></linearGradient>
<linearGradient id="g68"><stop offset="0" stop-color="#00fdf7"/><stop offset="0.03" stop-color="#00fcf7"/><stop offset="0.05" stop-color="#00fcf6"/><stop offset="0.08" stop-color="#00fcf6"/><stop offset="0.11" stop-color="#00fcf5"/><stop offset="0.14" stop-color="#00fbf4"/><stop offset="0.16" stop-color="#00fbf3"/><stop offset="0.19" stop-color="#01fbf2"/><stop offset="0.22" stop-color="#04faf1"/><stop offset="0.24" stop-color="#09faef"/><stop offset="0.27" stop-color="#14f9ed"/><stop offset="0.3" stop-color="#26f8eb"/><stop offset="0.32" stop-color="#3ff8e9"/><stop offset="0.35" stop-color="#5ef7e7"/><stop offset="0.38" stop-color="#7ef6e5"/><stop offset="0.41" stop-color="#9ff4e1"/><stop offset="0.43" stop-color="#bcf0dd"/><stop offset="0.46" stop-color="#d3ebd6"/><stop offset="0.49" stop-color="#e4e3cd"/><stop offset="0.51" stop-color="#f0d8c2"/><stop offset="0.54" stop-color="#f7ccb6"/><stop offset="0.57" stop-color="#fbbfa9"/><stop offset="0.59" stop-color="#fdb29b"/><stop offset="0.62" stop-color="#fea68e"/><stop offset="0.65" stop-color="#ff9a82"/><stop offset="0.68" stop-color="#ff8f77"/><stop offset="0.7" stop-color="#ff856c"/><stop offset="0.73" stop-color="#ff7b61"/><stop offset="0.76" stop-color="#ff7156"/><stop offset="0.78" stop-color="#ff684b"/><stop offset="0.81" stop-color="#ff5f41"/><stop offset="0.84" stop-color="#ff5637"/><stop offset="0.86" stop-color="#ff4f2e"/><stop offset="0.89" stop-color="#ff4826"/><stop offset="0.92" stop-color="#ff411f"/><stop offset="0.95" stop-color="#ff3d1a"/><stop offset="0.97" stop-color="#ff3917"/><stop offset="1" stop-color="#ff3614"/></linearGradient>
<linearGradient id="g69"><stop offset="0" stop-color="#00fcf8"/><stop offset="0.03" stop-color="#00fcf8"/><stop offset="0.05" stop-color="#00fcf7"/><stop offset="0.08" stop-color="#00fbf7"/><stop offset="0.11" stop-color="#00fbf6"/><stop offset="0.13" stop-color="#00fbf6"/><stop offset="0.16" stop-color="#00faf5"/><stop offset="0.18" stop-color="#01faf4"/><stop offset="0.21" stop-color="#04f9f3"/><stop offset="0.24" stop-color="#09f8f2"/><stop offset="0.26" stop-color="#14f7f0"/><stop offset="0.29" stop-color="#25f7ee"/><stop offset="0.32" stop-color="#3ef6ec"/><stop offset="0.34" stop-color="#5df5ea"/><stop offset="0.37" stop-color="#7cf4e8"/><stop offset="0.39" stop-color="#9df2e5"/><stop offset="0.42" stop-color="#bbeee1"/><stop offset="0.45" stop-color="#d2e9db"/><stop offset="0.47" stop-color="#e3e1d3"/><stop offset="0.5" stop-color="#efd7c8"/><stop offset="0.53" stop-color="#f7cbbc"/><stop offset="0.55" stop-color="#fbbfaf"/><stop offset="0.58" stop-color="#fdb2a2"/><stop offset="0.61" stop-color="#fea595"/><stop offset="0.63" stop-color="#ff9989"/><stop offset="0.66" stop-color="#ff8e7e"/><stop offset="0.68" stop-color="#ff8373"/><stop offset="0.71" stop-color="#ff7968"/><stop offset="0.74" stop-color="#ff705e"/><stop offset="0.76" stop-color="#ff6654"/><stop offset="0.79" stop-color="#ff5d4a"/><stop offset="0.82" stop-color="#ff5540"/><stop offset="0.84" stop-color="#ff4d37"/><stop offset="0.87" stop-color="#ff452e"/><stop offset="0.89" stop-color="#ff3e27"/><stop offset="0.92" stop-color="#ff3921"/><stop offset="0.95" stop-color="#ff351d"/><stop offset="0.97" stop-color="#ff311a"/><stop offset="1" stop-color="#ff2f18"/></linearGradient>
<linearGradient id="g70"><stop offset="0" stop-color="#00fbf9"/><stop offset="0.03" stop-color="#00fbf9"/><stop offset="0.05" stop-color="#00fbf9"/><stop offset="0.08" stop-color="#00faf8"/><stop offset="0.11" stop-color="#00faf8"/><stop offset="0.13" stop-color="#00f9f7"/><stop offset="0.16" stop-color="#01f9f6"/><stop offset="0.18" stop-color="#02f8f5"/><stop offset="0.21" stop-color="#05f7f4"/><stop offset="0.24" stop-color="#0cf6f3"/><stop offset="0.26" stop-color="#19f5f2"/><stop offset="0.29" stop-color="#2bf5f1"/><stop offset="0.32" stop-color="#46f4ef"/><stop offset="0.34" stop-color="#66f2ed"/><stop offset="0.37" stop-color="#89f1eb"/><stop offset="0.39" stop-color="#a9eee8"/><stop offset="0.42" stop-color="#c2ebe3"/><stop offset="0.45" stop-color="#d8e4dc"/><stop offset="0.47" stop-color="#e8dbd3"/><stop offset="0.5" stop-color="#f3d0c8"/><stop offset="0.53" stop-color="#f9c3bb"/><stop offset="0.55" stop-color="#fcb6ad"/><stop offset="0.58" stop-color="#feaaa1"/><stop offset="0.61" stop-color="#ff9d95"/><stop offset="0.63" stop-color="#ff9189"/><stop offset="0.66" stop-color="#ff867d"/><stop offset="0.68" stop-color="#ff7b72"/><stop offset="0.71" stop-color="#ff7169"/><stop offset="0.74" stop-color="#ff675e"/><stop offset="0.76" stop-color="#ff5e54"/><stop offset="0.79" stop-color="#ff544b"/><stop offset="0.82" stop-color="#ff4c41"/><stop offset="0.84" stop-color="#ff4439"/><stop offset="0.87" stop-color="#ff3d31"/><stop offset="0.89" stop-color="#ff362a"/><stop offset="0.92" stop-color="#ff3124"/><stop offset="0.95" stop-color="#ff2d20"/><stop offset="0.97" stop-color="#ff2a1d"/><stop offset="1" stop-color="#ff291b"/></linearGradient>
<linearGradient id="g71"><stop offset="0" stop-color="#00fafa"/><stop offset="0.03" stop-color="#00fafa"/><stop offset="0.05" stop-color="#00fafa"/><stop offset="0.08" stop-color="#00f9f9"/><stop offset="0.11" stop-color="#00f9f9"/><stop offset="0.13" stop-color="#00f8f8"/><stop offset="0.16" stop-color="#01f7f8"/><stop offset="0.18" stop-color="#02f6f7"/><stop offset="0.21" stop-color="#06f5f6"/><stop offset="0.24" stop-color="#0ff4f5"/><stop offset="0.26" stop-color="#1df3f4"/><stop offset="0.29" stop-color="#34f2f2"/><stop offset="0.32" stop-color="#4ef1f1"/><stop offset="0.34" stop-color="#70f0ef"/><stop offset="0.37" stop-color="#92eeed"/><stop offset="0.39" stop-color="#b1ebea"/><stop offset="0.42" stop-color="#cbe6e5"/><stop offset="0.45" stop-color="#dfdedd"/><stop offset="0.47" stop-color="#edd4d3"/><stop offset="0.5" stop-color="#f6c8c7"/><stop offset="0.53" stop-color="#fbbbba"/><stop offset="0.55" stop-color="#fdaeac"/><stop offset="0.58" stop-color="#fea09f"/><stop offset="0.61" stop-color="#ff9493"/><stop offset="0.63" stop-color="#ff8988"/><stop offset="0.66" stop-color="#ff7e7d"/><stop offset="0.68" stop-color="#ff7373"/><stop offset="0.71" stop-color="#ff6969"/><stop offset="0.74" stop-color="#ff5f5f"/><stop offset="0.76" stop-color="#ff5555"/><stop offset="0.79" stop-color="#ff4c4c"/><stop offset="0.82" stop-color="#ff4342"/><stop offset="0.84" stop-color="#ff3b3a"/><stop offset="0.87" stop-color="#ff3432"/><stop offset="0.89" stop-color="#ff2e2c"/><stop offset="0.92" stop-color="#ff2a27"/><stop offset="0.95" stop-color="#ff2724"/><stop offset="0.97" stop-color="#ff2421"/><stop offset="1" stop-color="#ff2220"/></linearGradient>
<linearGradient id="g72"><stop offset="0" stop-color="#00f9fb"/><stop offset="0.03" stop-color="#00f9fb"/><stop offset="0.05" stop-color="#00f9fa"/><stop offset="0.08" stop-color="#00f8fa"/><stop offset="0.1" stop-color="#00f7fa"/><stop offset="0.13" stop-color="#00f7f9"/><stop offset="0.15" stop-color="#01f6f9"/><stop offset="0.18" stop-color="#02f5f8"/><stop offset="0.21" stop-color="#06f3f8"/><stop offset="0.23" stop-color="#0ff2f7"/><stop offset="0.26" stop-color="#1ef1f6"/><stop offset="0.28" stop-color="#32eff5"/><stop offset="0.31" stop-color="#4feef4"/><stop offset="0.33" stop-color="#71edf2"/><stop offset="0.36" stop-color="#90ebf0"/><stop offset="0.38" stop-color="#b0e8ed"/><stop offset="0.41" stop-color="#cae3e8"/><stop offset="0.44" stop-color="#dedce1"/><stop offset="0.46" stop-color="#ecd3d8"/><stop offset="0.49" stop-color="#f5c7cc"/><stop offset="0.51" stop-color="#fababf"/><stop offset="0.54" stop-color="#fdadb3"/><stop offset="0.56" stop-color="#fea0a6"/><stop offset="0.59" stop-color="#ff9399"/><stop offset="0.62" stop-color="#ff878e"/><stop offset="0.64" stop-color="#ff7c83"/><stop offset="0.67" stop-color="#ff7179"/><stop offset="0.69" stop-color="#ff666f"/><stop offset="0.72" stop-color="#ff5d66"/><stop offset="0.74" stop-color="#ff535d"/><stop offset="0.77" stop-color="#ff4a54"/><stop offset="0.79" stop-color="#ff424b"/><stop offset="0.82" stop-color="#ff3943"/><stop offset="0.85" stop-color="#ff323b"/><stop offset="0.87" stop-color="#ff2b34"/><stop offset="0.9" stop-color="#ff272f"/><stop offset="0.92" stop-color="#ff232b"/><stop offset="0.95" stop-color="#ff2028"/><stop offset="0.97" stop-color="#ff1e26"/><stop offset="1" stop-color="#ff1d24"/></linearGradient>
<linearGradient id="g73"><stop offset="0" stop-color="#00f8fc"/><stop offset="0.03" stop-color="#00f8fb"/><stop offset="0.05" stop-color="#00f7fb"/><stop offset="0.08" stop-color="#00f7fb"/><stop offset="0.1" stop-color="#00f6fb"/><stop offset="0.13" stop-color="#00f5fa"/><stop offset="0.15" stop-color="#01f4fa"/><stop offset="0.18" stop-color="#03f2f9"/><stop offset="0.21" stop-color="#08f1f9"/><stop offset="0.23" stop-color="#12eff8"/><stop offset="0.26" stop-color="#23eef7"/><stop offset="0.28" stop-color="#39ecf6"/><stop offset="0.31" stop-color="#58ebf5"/><stop offset="0.33" stop-color="#7ae9f4"/><stop offset="0.36" stop-color="#9ce6f2"/><stop offset="0.38" stop-color="#bae3ef"/><stop offset="0.41" stop-color="#d0deea"/><stop offset="0.44" stop-color="#e3d6e2"/><stop offset="0.46" stop-color="#f0cbd7"/><stop offset="0.49" stop-color="#f7bfcb"/><stop offset="0.51" stop-color="#fcb1be"/><stop offset="0.54" stop-color="#fea4b1"/><stop offset="0.56" stop-color="#fe97a4"/><stop offset="0.59" stop-color="#ff8a98"/><stop offset="0.62" stop-color="#ff7e8d"/><stop offset="0.64" stop-color="#ff7382"/><stop offset="0.67" stop-color="#ff6878"/><stop offset="0.69" stop-color="#ff5e70"/><stop offset="0.72" stop-color="#ff5466"/><stop offset="0.74" stop-color="#ff4a5d"/><stop offset="0.77" stop-color="#ff4155"/><stop offset="0.79" stop-color="#ff384c"/><stop offset="0.82" stop-color="#ff3145"/><stop offset="0.85" stop-color="#ff2a3e"/><stop offset="0.87" stop-color="#ff2437"/><stop offset="0.9" stop-color="#ff2032"/><stop offset="0.92" stop-color="#ff1c2f"/><stop offset="0.95" stop-color="#ff1a2c"/><stop offset="0.97" stop-color="#ff192a"/><stop offset="1" stop-color="#ff1829"/></linearGradient>
<linearGradient id="g74"><stop offset="0" stop-color="#00f7fc"/><stop offset="0.03" stop-color="#00f6fc"/><stop offset="0.05" stop-color="#00f6fc"/><stop offset="0.08" stop-color="#00f5fc"/><stop offset="0.1" stop-color="#00f4fb"/><stop offset="0.13" stop-color="#00f3fb"/><stop offset="0.15" stop-color="#01f1fb"/><stop offset="0.18" stop-color="#04f0fa"/><stop offset="0.21" stop-color="#0aeefa"/><stop offset="0.23" stop-color="#16ecf9"/><stop offset="0.26" stop-color="#29eaf9"/><stop offset="0.28" stop-color="#41e9f8"/><stop offset="0.31" stop-color="#61e7f7"/><stop offset="0.33" stop-color="#83e5f6"/><stop offset="0.36" stop-color="#a4e2f4"/><stop offset="0.38" stop-color="#c1def0"/><stop offset="0.41" stop-color="#d8d7ea"/><stop offset="0.44" stop-color="#e8cee1"/><stop offset="0.46" stop-color="#f3c3d6"/><stop offset="0.49" stop-color="#f9b6c9"/><stop offset="0.51" stop-color="#fda8bc"/><stop offset="0.54" stop-color="#fe9aaf"/><stop offset="0.56" stop-color="#ff8ea3"/><stop offset="0.59" stop-color="#ff8298"/><stop offset="0.62" stop-color="#ff768d"/><stop offset="0.64" stop-color="#ff6a82"/><stop offset="0.67" stop-color="#ff5f79"/><stop offset="0.69" stop-color="#ff5570"/><stop offset="0.72" stop-color="#ff4b67"/><stop offset="0.74" stop-color="#ff415e"/><stop offset="0.77" stop-color="#ff3856"/><stop offset="0.79" stop-color="#ff304e"/><stop offset="0.82" stop-color="#ff2947"/><stop offset="0.85" stop-color="#ff2341"/><stop offset="0.87" stop-color="#ff1e3b"/><stop offset="0.9" stop-color="#ff1a37"/><stop offset="0.92" stop-color="#ff1733"/><stop offset="0.95" stop-color="#ff1531"/><stop offset="0.97" stop-color="#ff142f"/><stop offset="1" stop-color="#ff132e"/></linearGradient>
<linearGradient id="g75"><stop offset="0" stop-color="#00f6fd"/><stop offset="0.03" stop-color="#00f5fd"/><stop offset="0.05" stop-color="#00f4fd"/><stop offset="0.07" stop-color="#00f3fc"/><stop offset="0.1" stop-color="#00f2fc"/><stop offset="0.12" stop-color="#00f1fc"/><stop offset="0.15" stop-color="#02effc"/><stop offset="0.17" stop-color="#04eefb"/><stop offset="0.2" stop-color="#0aebfb"/><stop offset="0.23" stop-color="#16e9fa"/><stop offset="0.25" stop-color="#29e7fa"/><stop offset="0.28" stop-color="#42e5f9"/><stop offset="0.3" stop-color="#61e3f9"/><stop offset="0.33" stop-color="#83e1f8"/><stop offset="0.35" stop-color="#a2def6"/><stop offset="0.38" stop-color="#bfdaf2"/><stop offset="0.4" stop-color="#d6d3ed"/><stop offset="0.42" stop-color="#e7cbe5"/><stop offset="0.45" stop-color="#f2c1db"/><stop offset="0.47" stop-color="#f9b4ce"/><stop offset="0.5" stop-color="#fca6c1"/><stop offset="0.53" stop-color="#fe99b5"/><stop offset="0.55" stop-color="#ff8ca8"/><stop offset="0.57" stop-color="#ff7f9c"/><stop offset="0.6" stop-color="#ff7391"/><stop offset="0.62" stop-color="#ff6888"/><stop offset="0.65" stop-color="#ff5d7f"/><stop offset="0.68" stop-color="#ff5275"/><stop offset="0.7" stop-color="#ff496d"/><stop offset="0.72" stop-color="#ff3f65"/><stop offset="0.75" stop-color="#ff365d"/><stop offset="0.78" stop-color="#ff2e56"/><stop offset="0.8" stop-color="#ff274f"/><stop offset="0.82" stop-color="#ff2048"/><stop offset="0.85" stop-color="#ff1b43"/><stop offset="0.88" stop-color="#ff173e"/><stop offset="0.9" stop-color="#ff143b"/><stop offset="0.93" stop-color="#ff1238"/><stop offset="0.95" stop-color="#ff1136"/><stop offset="0.97" stop-color="#ff1034"/><stop offset="1" stop-color="#ff1033"/></linearGradient>
<linearGradient id="g76"><stop offset="0" stop-color="#00f4fd"/><stop offset="0.03" stop-color="#00f3fd"/><stop offset="0.05" stop-color="#00f2fd"/><stop offset="0.07" stop-color="#00f1fd"/><stop offset="0.1" stop-color="#00f0fd"/><stop offset="0.12" stop-color="#01eefd"/><stop offset="0.15" stop-color="#02edfc"/><stop offset="0.17" stop-color="#06eafc"/><stop offset="0.2" stop-color="#0de8fc"/><stop offset="0.23" stop-color="#1be5fb"/><stop offset="0.25" stop-color="#30e3fb"/><stop offset="0.28" stop-color="#49e1fa"/><stop offset="0.3" stop-color="#6adefa"/><stop offset="0.33" stop-color="#8cdcf9"/><stop offset="0.35" stop-color="#acd8f7"/><stop offset="0.38" stop-color="#c7d3f3"/><stop offset="0.4" stop-color="#dbcded"/><stop offset="0.42" stop-color="#eac4e5"/><stop offset="0.45" stop-color="#f4b8d9"/><stop offset="0.47" stop-color="#faabcd"/><stop offset="0.5" stop-color="#fd9dbf"/><stop offset="0.53" stop-color="#fe90b3"/><stop offset="0.55" stop-color="#ff83a7"/><stop offset="0.57" stop-color="#ff769c"/><stop offset="0.6" stop-color="#ff6a91"/><stop offset="0.62" stop-color="#ff5e87"/><stop offset="0.65" stop-color="#ff547f"/><stop offset="0.68" stop-color="#ff4a76"/><stop offset="0.7" stop-color="#ff406e"/><stop offset="0.72" stop-color="#ff3666"/><stop offset="0.75" stop-color="#ff2e5e"/><stop offset="0.78" stop-color="#ff2657"/><stop offset="0.8" stop-color="#ff2051"/><stop offset="0.82" stop-color="#ff1a4b"/><stop offset="0.85" stop-color="#ff1546"/><stop offset="0.88" stop-color="#ff1242"/><stop offset="0.9" stop-color="#ff103f"/><stop offset="0.93" stop-color="#ff0e3d"/><stop offset="0.95" stop-color="#ff0d3b"/><stop offset="0.97" stop-color="#ff0d3a"/><stop offset="1" stop-color="#ff0c38"/></linearGradient>
<linearGradient id="g77"><stop offset="0" stop-color="#00f2fe"/><stop offset="0.03" stop-color="#00f2fe"/><stop offset="0.05" stop-color="#00f0fe"/><stop offset="0.07" stop-color="#00effd"/><stop offset="0.1" stop-color="#00eefd"/><stop offset="0.12" stop-color="#01ecfd"/><stop offset="0.15" stop-color="#03eafd"/><stop offset="0.17" stop-color="#07e7fd"/><stop offset="0.2" stop-color="#10e4fc"/><stop offset="0.23" stop-color="#20e1fc"/><stop offset="0.25" stop-color="#37defc"/><stop offset="0.28" stop-color="#52dcfb"/><stop offset="0.3" stop-color="#73d9fb"/><stop offset="0.33" stop-color="#95d6fa"/><stop offset="0.35" stop-color="#b3d2f7"/><stop offset="0.38" stop-color="#cdcdf3"/><stop offset="0.4" stop-color="#e1c5ed"/><stop offset="0.42" stop-color="#eebbe3"/><stop offset="0.45" stop-color="#f7afd8"/><stop offset="0.47" stop-color="#fba1cb"/><stop offset="0.5" stop-color="#fe93be"/><stop offset="0.53" stop-color="#ff85b1"/><stop offset="0.55" stop-color="#ff79a6"/><stop offset="0.57" stop-color="#ff6d9b"/><stop offset="0.6" stop-color="#ff6191"/><stop offset="0.62" stop-color="#ff5587"/><stop offset="0.65" stop-color="#ff4b7e"/><stop offset="0.68" stop-color="#ff4076"/><stop offset="0.7" stop-color="#ff376e"/><stop offset="0.72" stop-color="#ff2e67"/><stop offset="0.75" stop-color="#ff2660"/><stop offset="0.78" stop-color="#ff1f5a"/><stop offset="0.8" stop-color="#ff1954"/><stop offset="0.82" stop-color="#ff144f"/><stop offset="0.85" stop-color="#ff114a"/><stop offset="0.88" stop-color="#ff0e47"/><stop offset="0.9" stop-color="#ff0c44"/><stop offset="0.93" stop-color="#ff0b42"/><stop offset="0.95" stop-color="#ff0a40"/><stop offset="0.97" stop-color="#ff0a3f"/><stop offset="1" stop-color="#ff0a3d"/></linearGradient>
<linearGradient id="g78"><stop offset="0" stop-color="#00f1fe"/><stop offset="0.03" stop-color="#00f0fe"/><stop offset="0.05" stop-color="#00eefe"/><stop offset="0.07" stop-color="#00edfe"/><stop offset="0.1" stop-color="#00ebfe"/><stop offset="0.12" stop-color="#01e9fe"/><stop offset="0.15" stop-color="#04e6fd"/><stop offset="0.17" stop-color="#09e3fd"/><stop offset="0.2" stop-color="#13e0fd"/><stop offset="0.23" stop-color="#25ddfd"/><stop offset="0.25" stop-color="#3edafd"/><stop offset="0.28" stop-color="#5dd7fc"/><stop offset="0.3" stop-color="#7ed4fb"/><stop offset="0.33" stop-color="#9fd0fa"/><stop offset="0.35" stop-color="#bcccf8"/><stop offset="0.38" stop-color="#d4c6f3"/><stop offset="0.4" stop-color="#e5bdec"/><stop offset="0.42" stop-color="#f1b2e2"/><stop offset="0.45" stop-color="#f8a5d6"/><stop offset="0.47" stop-color="#fc97c9"/><stop offset="0.5" stop-color="#fe89bc"/><stop offset="0.53" stop-color="#ff7caf"/><stop offset="0.55" stop-color="#ff6fa4"/><stop offset="0.57" stop-color="#ff6299"/><stop offset="0.6" stop-color="#ff5790"/><stop offset="0.62" stop-color="#ff4b87"/><stop offset="0.65" stop-color="#ff417e"/><stop offset="0.68" stop-color="#ff3776"/><stop offset="0.7" stop-color="#ff2e6f"/><stop offset="0.72" stop-color="#ff2668"/><stop offset="0.75" stop-color="#ff1f62"/><stop offset="0.78" stop-color="#ff185c"/><stop offset="0.8" stop-color="#ff1357"/><stop offset="0.82" stop-color="#ff0f52"/><stop offset="0.85" stop-color="#ff0c4e"/><stop offset="0.88" stop-color="#ff0a4b"/><stop offset="0.9" stop-color="#ff0948"/><stop offset="0.93" stop-color="#ff0846"/><stop offset="0.95" stop-color="#ff0845"/><stop offset="0.97" stop-color="#ff0843"/><stop offset="1" stop-color="#ff0742"/></linearGradient>
<linearGradient id="g79"><stop offset="0" stop-color="#00effe"/><stop offset="0.02" stop-color="#00edfe"/><stop offset="0.05" stop-color="#00ecfe"/><stop offset="0.07" stop-color="#00eafe"/><stop offset="0.1" stop-color="#00e8fe"/><stop offset="0.12" stop-color="#01e6fe"/><stop offset="0.15" stop-color="#04e3fe"/><stop offset="0.17" stop-color="#09e0fe"/><stop offset="0.2" stop-color="#14dcfe"/><stop offset="0.22" stop-color="#25d9fd"/><stop offset="0.24" stop-color="#3ed5fd"/><stop offset="0.27" stop-color="#5dd2fd"/><stop offset="0.29" stop-color="#7ccffc"/><stop offset="0.32" stop-color="#9ccbfb"/><stop offset="0.34" stop-color="#bac7f9"/><stop offset="0.37" stop-color="#d2c1f5"/><stop offset="0.39" stop-color="#e4b8ee"/><stop offset="0.41" stop-color="#efafe6"/><stop offset="0.44" stop-color="#f7a2da"/><stop offset="0.46" stop-color="#fc94ce"/><stop offset="0.49" stop-color="#fe86c1"/><stop offset="0.51" stop-color="#ff79b4"/><stop offset="0.54" stop-color="#ff6ca9"/><stop offset="0.56" stop-color="#ff609f"/><stop offset="0.59" stop-color="#ff5495"/><stop offset="0.61" stop-color="#ff498c"/><stop offset="0.63" stop-color="#ff3e83"/><stop offset="0.66" stop-color="#ff357c"/><stop offset="0.68" stop-color="#ff2c75"/><stop offset="0.71" stop-color="#ff246f"/><stop offset="0.73" stop-color="#ff1d68"/><stop offset="0.76" stop-color="#ff1763"/><stop offset="0.78" stop-color="#ff125e"/><stop offset="0.8" stop-color="#ff0e59"/><stop offset="0.83" stop-color="#ff0b55"/><stop offset="0.85" stop-color="#ff0952"/><stop offset="0.88" stop-color="#ff074f"/><stop offset="0.9" stop-color="#ff074d"/><stop offset="0.93" stop-color="#ff064b"/><stop offset="0.95" stop-color="#ff064a"/><stop offset="0.98" stop-color="#ff0648"/><stop offset="1" stop-color="#ff0547"/></linearGradient>
<linearGradient id="g80"><stop offset="0" stop-color="#00edfe"/><stop offset="0.02" stop-color="#00ebfe"/><stop offset="0.05" stop-color="#00eafe"/><stop offset="0.07" stop-color="#00e8fe"/><stop offset="0.1" stop-color="#01e6fe"/><stop offset="0.12" stop-color="#02e3fe"/><stop offset="0.15" stop-color="#05dffe"/><stop offset="0.17" stop-color="#0bdcfe"/><stop offset="0.2" stop-color="#16d8fe"/><stop offset="0.22" stop-color="#29d4fe"/><stop offset="0.24" stop-color="#43d0fe"/><stop offset="0.27" stop-color="#63cdfd"/><stop offset="0.29" stop-color="#84c9fd"/><stop offset="0.32" stop-color="#a4c5fc"/><stop offset="0.34" stop-color="#bdc1fa"/><stop offset="0.37" stop-color="#d4baf5"/><stop offset="0.39" stop-color="#e6b1ee"/><stop offset="0.41" stop-color="#f1a6e5"/><stop offset="0.44" stop-color="#f999d9"/><stop offset="0.46" stop-color="#fc8dce"/><stop offset="0.49" stop-color="#fe7ec1"/><stop offset="0.51" stop-color="#ff71b5"/><stop offset="0.54" stop-color="#ff63a9"/><stop offset="0.56" stop-color="#ff579f"/><stop offset="0.59" stop-color="#ff4b95"/><stop offset="0.61" stop-color="#ff418d"/><stop offset="0.63" stop-color="#ff3785"/><stop offset="0.66" stop-color="#ff2e7e"/><stop offset="0.68" stop-color="#ff2577"/><stop offset="0.71" stop-color="#ff1e71"/><stop offset="0.73" stop-color="#ff186c"/><stop offset="0.76" stop-color="#ff1366"/><stop offset="0.78" stop-color="#ff0e61"/><stop offset="0.8" stop-color="#ff0b5d"/><stop offset="0.83" stop-color="#ff0859"/><stop offset="0.85" stop-color="#ff0756"/><stop offset="0.88" stop-color="#ff0654"/><stop offset="0.9" stop-color="#ff0552"/><stop offset="0.93" stop-color="#ff0550"/><stop offset="0.95" stop-color="#ff044e"/><stop offset="0.98" stop-color="#ff044d"/><stop offset="1" stop-color="#ff044c"/></linearGradient>
<linearGradient id="g81"><stop offset="0" stop-color="#00ebff"/><stop offset="0.03" stop-color="#00e9ff"/><stop offset="0.05" stop-color="#00e7ff"/><stop offset="0.07" stop-color="#00e5ff"/><stop offset="0.1" stop-color="#01e2fe"/><stop offset="0.12" stop-color="#02dffe"/><stop offset="0.15" stop-color="#06dbfe"/><stop offset="0.17" stop-color="#0ed7fe"/><stop offset="0.2" stop-color="#1cd3fe"/><stop offset="0.23" stop-color="#31cefe"/><stop offset="0.25" stop-color="#4dcafe"/><stop offset="0.28" stop-color="#6ec6fe"/><stop offset="0.3" stop-color="#8ec2fd"/><stop offset="0.33" stop-color="#adbefc"/><stop offset="0.35" stop-color="#c7b8f9"/><stop offset="0.38" stop-color="#dcb1f4"/><stop offset="0.4" stop-color="#eba7ec"/><stop offset="0.42" stop-color="#f59be2"/><stop offset="0.45" stop-color="#fa8ed6"/><stop offset="0.47" stop-color="#fd80ca"/><stop offset="0.5" stop-color="#fe72bd"/><stop offset="0.53" stop-color="#ff64b1"/><stop offset="0.55" stop-color="#ff57a7"/><stop offset="0.57" stop-color="#ff4c9e"/><stop offset="0.6" stop-color="#ff4195"/><stop offset="0.62" stop-color="#ff378c"/><stop offset="0.65" stop-color="#ff2d85"/><stop offset="0.68" stop-color="#ff257e"/><stop offset="0.7" stop-color="#ff1e78"/><stop offset="0.72" stop-color="#ff1772"/><stop offset="0.75" stop-color="#ff126d"/><stop offset="0.78" stop-color="#ff0d68"/><stop offset="0.8" stop-color="#ff0a64"/><stop offset="0.82" stop-color="#ff0760"/><stop offset="0.85" stop-color="#ff065d"/><stop offset="0.88" stop-color="#ff055a"/><stop offset="0.9" stop-color="#ff0458"/><stop offset="0.93" stop-color="#ff0356"/><stop offset="0.95" stop-color="#ff0354"/><stop offset="0.97" stop-color="#ff0352"/><stop offset="1" stop-color="#ff0351"/></linearGradient>
<linearGradient id="g82"><stop offset="0" stop-color="#00e9ff"/><stop offset="0.03" stop-color="#00e7ff"/><stop offset="0.05" stop-color="#00e5ff"/><stop offset="0.08" stop-color="#00e2ff"/><stop offset="0.1" stop-color="#01dfff"/><stop offset="0.13" stop-color="#03dbff"/><stop offset="0.15" stop-color="#07d7ff"/><stop offset="0.18" stop-color="#10d3fe"/><stop offset="0.21" stop-color="#1fcefe"/><stop offset="0.23" stop-color="#36c9fe"/><stop offset="0.26" stop-color="#53c5fe"/><stop offset="0.28" stop-color="#73c0fe"/><stop offset="0.31" stop-color="#93bcfd"/><stop offset="0.33" stop-color="#b1b7fc"/><stop offset="0.36" stop-color="#cab1f9"/><stop offset="0.38" stop-color="#dea9f4"/><stop offset="0.41" stop-color="#ec9fec"/><stop offset="0.44" stop-color="#f593e2"/><stop offset="0.46" stop-color="#fb85d6"/><stop offset="0.49" stop-color="#fd77ca"/><stop offset="0.51" stop-color="#fe69bd"/><stop offset="0.54" stop-color="#ff5cb2"/><stop offset="0.56" stop-color="#ff50a7"/><stop offset="0.59" stop-color="#ff449e"/><stop offset="0.62" stop-color="#ff3995"/><stop offset="0.64" stop-color="#ff2f8d"/><stop offset="0.67" stop-color="#ff2786"/><stop offset="0.69" stop-color="#ff1f80"/><stop offset="0.72" stop-color="#ff187a"/><stop offset="0.74" stop-color="#ff1275"/><stop offset="0.77" stop-color="#ff0e70"/><stop offset="0.79" stop-color="#ff0a6b"/><stop offset="0.82" stop-color="#ff0767"/><stop offset="0.85" stop-color="#ff0564"/><stop offset="0.87" stop-color="#ff0461"/><stop offset="0.9" stop-color="#ff035e"/><stop offset="0.92" stop-color="#ff035c"/><stop offset="0.95" stop-color="#ff025a"/><stop offset="0.97" stop-color="#ff0258"/><stop offset="1" stop-color="#ff0257"/></linearGradient>
<linearGradient id="g83"><stop offset="0" stop-color="#00e6ff"/><stop offset="0.03" stop-color="#00e4ff"/><stop offset="0.05" stop-color="#00e2ff"/><stop offset="0.08" stop-color="#00dfff"/><stop offset="0.11" stop-color="#01dcff"/><stop offset="0.13" stop-color="#03d8ff"/><stop offset="0.16" stop-color="#08d3ff"/><stop offset="0.18" stop-color="#12ceff"/><stop offset="0.21" stop-color="#23c9ff"/><stop offset="0.24" stop-color="#3bc4ff"/><stop offset="0.26" stop-color="#58bffe"/><stop offset="0.29" stop-color="#78bafe"/><stop offset="0.32" stop-color="#98b6fe"/><stop offset="0.34" stop-color="#b5b0fc"/><stop offset="0.37" stop-color="#cdaaf9"/><stop offset="0.39" stop-color="#e0a1f4"/><stop offset="0.42" stop-color="#ed97ec"/><stop offset="0.45" stop-color="#f68be2"/><stop offset="0.47" stop-color="#fb7dd6"/><stop offset="0.5" stop-color="#fd6fca"/><stop offset="0.53" stop-color="#ff61be"/><stop offset="0.55" stop-color="#ff54b3"/><stop offset="0.58" stop-color="#ff48a8"/><stop offset="0.61" stop-color="#ff3c9f"/><stop offset="0.63" stop-color="#ff3297"/><stop offset="0.66" stop-color="#ff298f"/><stop offset="0.68" stop-color="#ff2188"/><stop offset="0.71" stop-color="#ff1a82"/><stop offset="0.74" stop-color="#ff147d"/><stop offset="0.76" stop-color="#ff0f78"/><stop offset="0.79" stop-color="#ff0b73"/><stop offset="0.82" stop-color="#ff086f"/><stop offset="0.84" stop-color="#ff066b"/><stop offset="0.87" stop-color="#ff0468"/><stop offset="0.89" stop-color="#ff0365"/><stop offset="0.92" stop-color="#ff0263"/><stop offset="0.95" stop-color="#ff0260"/><stop offset="0.97" stop-color="#ff025e"/><stop offset="1" stop-color="#ff025d"/></linearGradient>
<linearGradient id="g84"><stop offset="0" stop-color="#00e4ff"/><stop offset="0.03" stop-color="#00e2ff"/><stop offset="0.05" stop-color="#00dfff"/><stop offset="0.08" stop-color="#00dcff"/><stop offset="0.11" stop-color="#02d8ff"/><stop offset="0.14" stop-color="#04d3ff"/><stop offset="0.16" stop-color="#0bceff"/><stop offset="0.19" stop-color="#16c9ff"/><stop offset="0.22" stop-color="#28c3ff"/><stop offset="0.24" stop-color="#42bdff"/><stop offset="0.27" stop-color="#60b8ff"/><stop offset="0.3" stop-color="#80b3fe"/><stop offset="0.32" stop-color="#9faefe"/><stop offset="0.35" stop-color="#bba9fc"/><stop offset="0.38" stop-color="#d2a1f9"/><stop offset="0.41" stop-color="#e398f3"/><stop offset="0.43" stop-color="#ef8deb"/><stop offset="0.46" stop-color="#f781e1"/><stop offset="0.49" stop-color="#fc73d5"/><stop offset="0.51" stop-color="#fe65c9"/><stop offset="0.54" stop-color="#ff57bd"/><stop offset="0.57" stop-color="#ff4bb2"/><stop offset="0.59" stop-color="#ff3fa9"/><stop offset="0.62" stop-color="#ff34a0"/><stop offset="0.65" stop-color="#ff2b98"/><stop offset="0.68" stop-color="#ff2291"/><stop offset="0.7" stop-color="#ff1b8a"/><stop offset="0.73" stop-color="#ff1584"/><stop offset="0.76" stop-color="#ff107f"/><stop offset="0.78" stop-color="#ff0b7a"/><stop offset="0.81" stop-color="#ff0876"/><stop offset="0.84" stop-color="#ff0672"/><stop offset="0.86" stop-color="#ff046f"/><stop offset="0.89" stop-color="#ff036b"/><stop offset="0.92" stop-color="#ff0269"/><stop offset="0.95" stop-color="#ff0266"/><stop offset="0.97" stop-color="#ff0164"/><stop offset="1" stop-color="#ff0162"/></linearGradient>
<linearGradient id="g85"><stop offset="0" stop-color="#00e1ff"/><stop offset="0.03" stop-color="#00dfff"/><stop offset="0.05" stop-color="#00dcff"/><stop offset="0.08" stop-color="#01d9ff"/><stop offset="0.11" stop-color="#02d5ff"/><stop offset="0.14" stop-color="#04d0ff"/><stop offset="0.16" stop-color="#0bcbff"/><stop offset="0.19" stop-color="#16c4ff"/><stop offset="0.22" stop-color="#27bfff"/><stop offset="0.24" stop-color="#40b9ff"/><stop offset="0.27" stop-color="#5eb3ff"/><stop offset="0.3" stop-color="#7baeff"/><stop offset="0.32" stop-color="#9aa9fe"/><stop offset="0.35" stop-color="#b6a3fd"/><stop offset="0.38" stop-color="#cc9dfa"/><stop offset="0.41" stop-color="#de94f6"/><stop offset="0.43" stop-color="#ec8aef"/><stop offset="0.46" stop-color="#f57ee6"/><stop offset="0.49" stop-color="#fa71db"/><stop offset="0.51" stop-color="#fd63cf"/><stop offset="0.54" stop-color="#fe57c4"/><stop offset="0.57" stop-color="#ff4ab9"/><stop offset="0.59" stop-color="#ff3eaf"/><stop offset="0.62" stop-color="#ff34a7"/><stop offset="0.65" stop-color="#ff2a9e"/><stop offset="0.68" stop-color="#ff2297"/><stop offset="0.7" stop-color="#ff1a90"/><stop offset="0.73" stop-color="#ff158b"/><stop offset="0.76" stop-color="#ff1085"/><stop offset="0.78" stop-color="#ff0b80"/><stop offset="0.81" stop-color="#ff087c"/><stop offset="0.84" stop-color="#ff0678"/><stop offset="0.86" stop-color="#ff0475"/><stop offset="0.89" stop-color="#ff0372"/><stop offset="0.92" stop-color="#ff026f"/><stop offset="0.95" stop-color="#ff016c"/><stop offset="0.97" stop-color="#ff016a"/><stop offset="1" stop-color="#ff0168"/></linearGradient>
<linearGradient id="g86"><stop offset="0" stop-color="#00dfff"/><stop offset="0.03" stop-color="#00dcff"/><stop offset="0.06" stop-color="#00d9ff"/><stop offset="0.08" stop-color="#01d5ff"/><stop offset="0.11" stop-color="#02d1ff"/><stop offset="0.14" stop-color="#05ccff"/><stop offset="0.17" stop-color="#0cc6ff"/><stop offset="0.19" stop-color="#19bfff"/><stop offset="0.22" stop-color="#2db9ff"/><stop offset="0.25" stop-color="#45b3ff"/><stop offset="0.28" stop-color="#63adff"/><stop offset="0.31" stop-color="#83a7ff"/><stop offset="0.33" stop-color="#9ea2fe"/><stop offset="0.36" stop-color="#b99cfd"/><stop offset="0.39" stop-color="#d094fa"/><stop offset="0.42" stop-color="#e08cf6"/><stop offset="0.44" stop-color="#ed81ef"/><stop offset="0.47" stop-color="#f674e5"/><stop offset="0.5" stop-color="#fb68db"/><stop offset="0.53" stop-color="#fd5acf"/><stop offset="0.56" stop-color="#fe4dc4"/><stop offset="0.58" stop-color="#ff42ba"/><stop offset="0.61" stop-color="#ff36b0"/><stop offset="0.64" stop-color="#ff2ca7"/><stop offset="0.67" stop-color="#ff24a0"/><stop offset="0.69" stop-color="#ff1c99"/><stop offset="0.72" stop-color="#ff1692"/><stop offset="0.75" stop-color="#ff118d"/><stop offset="0.78" stop-color="#ff0c88"/><stop offset="0.81" stop-color="#ff0983"/><stop offset="0.83" stop-color="#ff067f"/><stop offset="0.86" stop-color="#ff047b"/><stop offset="0.89" stop-color="#ff0378"/><stop offset="0.92" stop-color="#ff0275"/><stop offset="0.94" stop-color="#ff0172"/><stop offset="0.97" stop-color="#ff0170"/><stop offset="1" stop-color="#ff016e"/></linearGradient>
<linearGradient id="g87"><stop offset="0" stop-color="#00dcff"/><stop offset="0.03" stop-color="#00d9ff"/><stop offset="0.06" stop-color="#00d6ff"/><stop offset="0.09" stop-color="#01d2ff"/><stop offset="0.11" stop-color="#03cdff"/><stop offset="0.14" stop-color="#07c7ff"/><stop offset="0.17" stop-color="#0ec1ff"/><stop offset="0.2" stop-color="#1cbaff"/><stop offset="0.23" stop-color="#31b3ff"/><stop offset="0.26" stop-color="#4aadff"/><stop offset="0.29" stop-color="#68a6ff"/><stop offset="0.31" stop-color="#87a0ff"/><stop offset="0.34" stop-color="#a39bfe"/><stop offset="0.37" stop-color="#bd94fd"/><stop offset="0.4" stop-color="#d28cfa"/><stop offset="0.43" stop-color="#e283f6"/><stop offset="0.46" stop-color="#ee78ee"/><stop offset="0.49" stop-color="#f76be5"/><stop offset="0.51" stop-color="#fb5eda"/><stop offset="0.54" stop-color="#fd51d0"/><stop offset="0.57" stop-color="#fe45c4"/><stop offset="0.6" stop-color="#ff39ba"/><stop offset="0.63" stop-color="#ff2fb1"/><stop offset="0.66" stop-color="#ff26a8"/><stop offset="0.69" stop-color="#ff1ea1"/><stop offset="0.71" stop-color="#ff179b"/><stop offset="0.74" stop-color="#ff1294"/><stop offset="0.77" stop-color="#ff0d8f"/><stop offset="0.8" stop-color="#ff0a8a"/><stop offset="0.83" stop-color="#ff0786"/><stop offset="0.86" stop-color="#ff0582"/><stop offset="0.89" stop-color="#ff037e"/><stop offset="0.91" stop-color="#ff027b"/><stop offset="0.94" stop-color="#ff0178"/><stop offset="0.97" stop-color="#ff0176"/><stop offset="1" stop-color="#ff0173"/></linearGradient>
<linearGradient id="g88"><stop offset="0" stop-color="#00d9ff"/><stop offset="0.03" stop-color="#00d6ff"/><stop offset="0.06" stop-color="#00d2ff"/><stop offset="0.09" stop-color="#01ceff"/><stop offset="0.12" stop-color="#03c9ff"/><stop offset="0.15" stop-color="#08c2ff"/><stop offset="0.18" stop-color="#11bbff"/><stop offset="0.21" stop-color="#1fb4ff"/><stop offset="0.24" stop-color="#35adff"/><stop offset="0.26" stop-color="#51a5ff"/><stop offset="0.29" stop-color="#6d9fff"/><stop offset="0.32" stop-color="#8c99ff"/><stop offset="0.35" stop-color="#a992fe"/><stop offset="0.38" stop-color="#c08bfd"/><stop offset="0.41" stop-color="#d583fa"/><stop offset="0.44" stop-color="#e579f5"/><stop offset="0.47" stop-color="#ef6eee"/><stop offset="0.5" stop-color="#f762e5"/><stop offset="0.53" stop-color="#fc55da"/><stop offset="0.56" stop-color="#fe49d0"/><stop offset="0.59" stop-color="#ff3cc5"/><stop offset="0.62" stop-color="#ff31bb"/><stop offset="0.65" stop-color="#ff28b2"/><stop offset="0.68" stop-color="#ff20aa"/><stop offset="0.71" stop-color="#ff18a2"/><stop offset="0.74" stop-color="#ff139c"/><stop offset="0.76" stop-color="#ff0e96"/><stop offset="0.79" stop-color="#ff0a91"/><stop offset="0.82" stop-color="#ff078d"/><stop offset="0.85" stop-color="#ff0588"/><stop offset="0.88" stop-color="#ff0385"/><stop offset="0.91" stop-color="#ff0281"/><stop offset="0.94" stop-color="#ff017e"/><stop offset="0.97" stop-color="#ff017b"/><stop offset="1" stop-color="#ff0179"/></linearGradient>
<linearGradient id="g89"><stop offset="0" stop-color="#00d7ff"/><stop offset="0.03" stop-color="#00d3ff"/><stop offset="0.06" stop-color="#00cfff"/><stop offset="0.09" stop-color="#01caff"/><stop offset="0.12" stop-color="#04c4ff"/><stop offset="0.15" stop-color="#09bdff"/><stop offset="0.18" stop-color="#14b6ff"/><stop offset="0.21" stop-color="#25adff"/><stop offset="0.24" stop-color="#3aa6ff"/><stop offset="0.27" stop-color="#569fff"/><stop offset="0.3" stop-color="#7598ff"/><stop offset="0.33" stop-color="#9191ff"/><stop offset="0.36" stop-color="#ad8afe"/><stop offset="0.39" stop-color="#c582fc"/><stop offset="0.42" stop-color="#d77afa"/><stop offset="0.45" stop-color="#e670f5"/><stop offset="0.48" stop-color="#f164ed"/><stop offset="0.52" stop-color="#f858e5"/><stop offset="0.55" stop-color="#fc4cda"/><stop offset="0.58" stop-color="#fe3fcf"/><stop offset="0.61" stop-color="#ff35c5"/><stop offset="0.64" stop-color="#ff2abb"/><stop offset="0.67" stop-color="#ff21b2"/><stop offset="0.7" stop-color="#ff1aab"/><stop offset="0.73" stop-color="#ff14a4"/><stop offset="0.76" stop-color="#ff0f9e"/><stop offset="0.79" stop-color="#ff0b98"/><stop offset="0.82" stop-color="#ff0893"/><stop offset="0.85" stop-color="#ff058f"/><stop offset="0.88" stop-color="#ff048b"/><stop offset="0.91" stop-color="#ff0287"/><stop offset="0.94" stop-color="#ff0284"/><stop offset="0.97" stop-color="#ff0181"/><stop offset="1" stop-color="#ff017e"/></linearGradient>
<linearGradient id="g90"><stop offset="0" stop-color="#00d4ff"/><stop offset="0.03" stop-color="#00d0ff"/><stop offset="0.06" stop-color="#01cbff"/><stop offset="0.09" stop-color="#02c5ff"/><stop offset="0.12" stop-color="#05bfff"/><stop offset="0.16" stop-color="#0cb8ff"/><stop offset="0.19" stop-color="#16b0ff"/><stop offset="0.22" stop-color="#28a7ff"/><stop offset="0.25" stop-color="#419fff"/><stop offset="0.28" stop-color="#5c98ff"/><stop offset="0.31" stop-color="#7a90ff"/><stop offset="0.34" stop-color="#9889ff"/><stop offset="0.38" stop-color="#b082fe"/><stop offset="0.41" stop-color="#c77afc"/><stop offset="0.44" stop-color="#da70f9"/><stop offset="0.47" stop-color="#e866f5"/><stop offset="0.5" stop-color="#f25bed"/><stop offset="0.53" stop-color="#f94ee4"/><stop offset="0.56" stop-color="#fc43da"/><stop offset="0.59" stop-color="#fe37cf"/><stop offset="0.62" stop-color="#ff2cc5"/><stop offset="0.66" stop-color="#ff24bc"/><stop offset="0.69" stop-color="#ff1cb4"/><stop offset="0.72" stop-color="#ff15ad"/><stop offset="0.75" stop-color="#ff10a6"/><stop offset="0.78" stop-color="#ff0ca0"/><stop offset="0.81" stop-color="#ff089a"/><stop offset="0.84" stop-color="#ff0696"/><stop offset="0.88" stop-color="#ff0491"/><stop offset="0.91" stop-color="#ff038d"/><stop offset="0.94" stop-color="#ff028a"/><stop offset="0.97" stop-color="#ff0186"/><stop offset="1" stop-color="#ff0183"/></linearGradient>
<linearGradient id="g91"><stop offset="0" stop-color="#00d1ff"/><stop offset="0.03" stop-color="#00ccff"/><stop offset="0.06" stop-color="#01c7ff"/><stop offset="0.1" stop-color="#02c1ff"/><stop offset="0.13" stop-color="#06baff"/><stop offset="0.16" stop-color="#0db2ff"/><stop offset="0.19" stop-color="#1aa9ff"/><stop offset="0.23" stop-color="#2ea0ff"/><stop offset="0.26" stop-color="#4698ff"/><stop offset="0.29" stop-color="#6390ff"/><stop offset="0.32" stop-color="#7f89ff"/><stop offset="0.35" stop-color="#9c81ff"/><stop offset="0.39" stop-color="#b679fe"/><stop offset="0.42" stop-color="#ca71fc"/><stop offset="0.45" stop-color="#dc67f9"/><stop offset="0.48" stop-color="#ea5cf4"/><stop offset="0.52" stop-color="#f351ed"/><stop offset="0.55" stop-color="#f945e4"/><stop offset="0.58" stop-color="#fc3ad9"/><stop offset="0.61" stop-color="#fe2fd0"/><stop offset="0.65" stop-color="#ff26c6"/><stop offset="0.68" stop-color="#ff1ebd"/><stop offset="0.71" stop-color="#ff17b5"/><stop offset="0.74" stop-color="#ff11ad"/><stop offset="0.77" stop-color="#ff0da7"/><stop offset="0.81" stop-color="#ff09a1"/><stop offset="0.84" stop-color="#ff069c"/><stop offset="0.87" stop-color="#ff0498"/><stop offset="0.9" stop-color="#ff0393"/><stop offset="0.94" stop-color="#ff028f"/><stop offset="0.97" stop-color="#ff018c"/><stop offset="1" stop-color="#ff0189"/></linearGradient>
<linearGradient id="g92"><stop offset="0" stop-color="#00cdff"/><stop offset="0.03" stop-color="#00c9ff"/><stop offset="0.07" stop-color="#01c3ff"/><stop offset="0.1" stop-color="#03bdff"/><stop offset="0.13" stop-color="#07b5ff"/><stop offset="0.17" stop-color="#10acff"/><stop offset="0.2" stop-color="#1ea3ff"/><stop offset="0.23" stop-color="#3399ff"/><stop offset="0.27" stop-color="#4d90ff"/><stop offset="0.3" stop-color="#6888ff"/><stop offset="0.33" stop-color="#8680ff"/><stop offset="0.37" stop-color="#a078ff"/><stop offset="0.4" stop-color="#b970fe"/><stop offset="0.43" stop-color="#ce67fc"/><stop offset="0.47" stop-color="#de5df9"/><stop offset="0.5" stop-color="#eb53f4"/><stop offset="0.53" stop-color="#f447ec"/><stop offset="0.57" stop-color="#f93de4"/><stop offset="0.6" stop-color="#fd32da"/><stop offset="0.63" stop-color="#fe28d0"/><stop offset="0.67" stop-color="#ff1fc6"/><stop offset="0.7" stop-color="#ff18bd"/><stop offset="0.73" stop-color="#ff12b6"/><stop offset="0.77" stop-color="#ff0daf"/><stop offset="0.8" stop-color="#ff09a8"/><stop offset="0.83" stop-color="#ff07a3"/><stop offset="0.87" stop-color="#ff059e"/><stop offset="0.9" stop-color="#ff039a"/><stop offset="0.93" stop-color="#ff0295"/><stop offset="0.97" stop-color="#ff0192"/><stop offset="1" stop-color="#ff018e"/></linearGradient>
<linearGradient id="g93"><stop offset="0" stop-color="#00caff"/><stop offset="0.03" stop-color="#00c5ff"/><stop offset="0.07" stop-color="#01bfff"/><stop offset="0.1" stop-color="#04b8ff"/><stop offset="0.14" stop-color="#09afff"/><stop offset="0.17" stop-color="#13a6ff"/><stop offset="0.21" stop-color="#239cff"/><stop offset="0.24" stop-color="#3792ff"/><stop offset="0.28" stop-color="#5289ff"/><stop offset="0.31" stop-color="#7080ff"/><stop offset="0.34" stop-color="#8b78ff"/><stop offset="0.38" stop-color="#a66fff"/><stop offset="0.41" stop-color="#bc67fe"/><stop offset="0.45" stop-color="#d05dfc"/><stop offset="0.48" stop-color="#e153f8"/><stop offset="0.52" stop-color="#ec49f4"/><stop offset="0.55" stop-color="#f53eec"/><stop offset="0.59" stop-color="#fa34e4"/><stop offset="0.62" stop-color="#fd2ada"/><stop offset="0.66" stop-color="#fe21d0"/><stop offset="0.69" stop-color="#ff1ac7"/><stop offset="0.72" stop-color="#ff13be"/><stop offset="0.76" stop-color="#ff0eb7"/><stop offset="0.79" stop-color="#ff0ab0"/><stop offset="0.83" stop-color="#ff07aa"/><stop offset="0.86" stop-color="#ff05a5"/><stop offset="0.9" stop-color="#ff03a0"/><stop offset="0.93" stop-color="#ff029b"/><stop offset="0.97" stop-color="#ff0198"/><stop offset="1" stop-color="#ff0194"/></linearGradient>
<linearGradient id="g94"><stop offset="0" stop-color="#00c6ff"/><stop offset="0.04" stop-color="#01c1ff"/><stop offset="0.07" stop-color="#02baff"/><stop offset="0.11" stop-color="#05b3ff"/><stop offset="0.14" stop-color="#0ba9ff"/><stop offset="0.18" stop-color="#169fff"/><stop offset="0.21" stop-color="#2695ff"/><stop offset="0.25" stop-color="#3e8aff"/><stop offset="0.29" stop-color="#5781ff"/><stop offset="0.32" stop-color="#7578ff"/><stop offset="0.36" stop-color="#926fff"/><stop offset="0.39" stop-color="#aa66ff"/><stop offset="0.43" stop-color="#c15dfe"/><stop offset="0.46" stop-color="#d354fc"/><stop offset="0.5" stop-color="#e24af8"/><stop offset="0.54" stop-color="#ee40f3"/><stop offset="0.57" stop-color="#f636ec"/><stop offset="0.61" stop-color="#fb2ce3"/><stop offset="0.64" stop-color="#fd23da"/><stop offset="0.68" stop-color="#fe1bd0"/><stop offset="0.71" stop-color="#ff14c7"/><stop offset="0.75" stop-color="#ff0fbf"/><stop offset="0.79" stop-color="#ff0bb8"/><stop offset="0.82" stop-color="#ff08b2"/><stop offset="0.86" stop-color="#ff05ac"/><stop offset="0.89" stop-color="#ff04a7"/><stop offset="0.93" stop-color="#ff02a2"/><stop offset="0.96" stop-color="#ff019d"/><stop offset="1" stop-color="#ff0199"/></linearGradient>
<linearGradient id="g95"><stop offset="0" stop-color="#00c3ff"/><stop offset="0.04" stop-color="#01bdff"/><stop offset="0.07" stop-color="#02b6ff"/><stop offset="0.11" stop-color="#06adff"/><stop offset="0.15" stop-color="#0da2ff"/><stop offset="0.19" stop-color="#1998ff"/><stop offset="0.22" stop-color="#2c8dff"/><stop offset="0.26" stop-color="#4382ff"/><stop offset="0.3" stop-color="#5f78ff"/><stop offset="0.33" stop-color="#7a6fff"/><stop offset="0.37" stop-color="#9666ff"/><stop offset="0.41" stop-color="#af5dfe"/><stop offset="0.44" stop-color="#c454fe"/><stop offset="0.48" stop-color="#d64afc"/><stop offset="0.52" stop-color="#e441f8"/><stop offset="0.56" stop-color="#ef37f3"/><stop offset="0.59" stop-color="#f62eec"/><stop offset="0.63" stop-color="#fb25e3"/><stop offset="0.67" stop-color="#fd1dd9"/><stop offset="0.7" stop-color="#fe16d1"/><stop offset="0.74" stop-color="#ff10c8"/><stop offset="0.78" stop-color="#ff0cc0"/><stop offset="0.81" stop-color="#ff08b9"/><stop offset="0.85" stop-color="#ff06b3"/><stop offset="0.89" stop-color="#ff04ad"/><stop offset="0.93" stop-color="#ff03a8"/><stop offset="0.96" stop-color="#ff02a3"/><stop offset="1" stop-color="#ff019f"/></linearGradient>
<linearGradient id="g96"><stop offset="0" stop-color="#00bfff"/><stop offset="0.04" stop-color="#01b8ff"/><stop offset="0.08" stop-color="#03b0ff"/><stop offset="0.12" stop-color="#08a6ff"/><stop offset="0.15" stop-color="#0f9cff"/><stop offset="0.19" stop-color="#1e90ff"/><stop offset="0.23" stop-color="#3085ff"/><stop offset="0.27" stop-color="#4a7aff"/><stop offset="0.31" stop-color="#6470ff"/><stop offset="0.35" stop-color="#8166ff"/><stop offset="0.38" stop-color="#9a5dff"/><stop offset="0.42" stop-color="#b354fe"/><stop offset="0.46" stop-color="#c84afd"/><stop offset="0.5" stop-color="#d842fb"/><stop offset="0.54" stop-color="#e638f8"/><stop offset="0.58" stop-color="#f02ff3"/><stop offset="0.62" stop-color="#f726eb"/><stop offset="0.65" stop-color="#fb1fe3"/><stop offset="0.69" stop-color="#fd17da"/><stop offset="0.73" stop-color="#fe12d1"/><stop offset="0.77" stop-color="#ff0dc9"/><stop offset="0.81" stop-color="#ff09c1"/><stop offset="0.85" stop-color="#ff06ba"/><stop offset="0.88" stop-color="#ff04b4"/><stop offset="0.92" stop-color="#ff03af"/><stop offset="0.96" stop-color="#ff02a9"/><stop offset="1" stop-color="#ff01a5"/></linearGradient>
<linearGradient id="g97"><stop offset="0" stop-color="#00baff"/><stop offset="0.04" stop-color="#02b3ff"/><stop offset="0.08" stop-color="#04aaff"/><stop offset="0.12" stop-color="#0a9fff"/><stop offset="0.17" stop-color="#1592ff"/><stop offset="0.21" stop-color="#2686ff"/><stop offset="0.25" stop-color="#3d79ff"/><stop offset="0.29" stop-color="#586eff"/><stop offset="0.33" stop-color="#7563ff"/><stop offset="0.38" stop-color="#9159ff"/><stop offset="0.42" stop-color="#ab50ff"/><stop offset="0.46" stop-color="#c146fe"/><stop offset="0.5" stop-color="#d33dfc"/><stop offset="0.54" stop-color="#e234f9"/><stop offset="0.58" stop-color="#ee2bf5"/><stop offset="0.62" stop-color="#f622ee"/><stop offset="0.67" stop-color="#fb1be5"/><stop offset="0.71" stop-color="#fd14dc"/><stop offset="0.75" stop-color="#fe0fd3"/><stop offset="0.79" stop-color="#ff0acb"/><stop offset="0.83" stop-color="#ff07c3"/><stop offset="0.88" stop-color="#ff05bc"/><stop offset="0.92" stop-color="#ff03b6"/><stop offset="0.96" stop-color="#ff02b0"/><stop offset="1" stop-color="#ff01ab"/></linearGradient>
<linearGradient id="g98"><stop offset="0" stop-color="#01b6ff"/><stop offset="0.04" stop-color="#02adff"/><stop offset="0.09" stop-color="#05a4ff"/><stop offset="0.13" stop-color="#0c98ff"/><stop offset="0.17" stop-color="#188bff"/><stop offset="0.22" stop-color="#2a7eff"/><stop offset="0.26" stop-color="#4271ff"/><stop offset="0.3" stop-color="#5e65ff"/><stop offset="0.35" stop-color="#7a5aff"/><stop offset="0.39" stop-color="#9650ff"/><stop offset="0.43" stop-color="#ae47ff"/><stop offset="0.48" stop-color="#c33efe"/><stop offset="0.52" stop-color="#d535fc"/><stop offset="0.57" stop-color="#e42cf9"/><stop offset="0.61" stop-color="#ef24f4"/><stop offset="0.65" stop-color="#f61cee"/><stop offset="0.7" stop-color="#fb15e5"/><stop offset="0.74" stop-color="#fd10dd"/><stop offset="0.78" stop-color="#fe0bd4"/><stop offset="0.83" stop-color="#ff08cb"/><stop offset="0.87" stop-color="#ff05c4"/><stop offset="0.91" stop-color="#ff03bd"/><stop offset="0.96" stop-color="#ff02b7"/><stop offset="1" stop-color="#ff01b1"/></linearGradient>
<linearGradient id="g99"><stop offset="0" stop-color="#01b2ff"/><stop offset="0.05" stop-color="#03a8ff"/><stop offset="0.09" stop-color="#079dff"/><stop offset="0.14" stop-color="#0f91ff"/><stop offset="0.18" stop-color="#1c83ff"/><stop offset="0.23" stop-color="#3075ff"/><stop offset="0.27" stop-color="#4968ff"/><stop offset="0.32" stop-color="#655cff"/><stop offset="0.36" stop-color="#8251ff"/><stop offset="0.41" stop-color="#9c47ff"/><stop offset="0.45" stop-color="#b33eff"/><stop offset="0.5" stop-color="#c835fe"/><stop offset="0.55" stop-color="#d92cfc"/><stop offset="0.59" stop-color="#e624f9"/><stop offset="0.64" stop-color="#f11df4"/><stop offset="0.68" stop-color="#f716ed"/><stop offset="0.73" stop-color="#fc11e5"/><stop offset="0.77" stop-color="#fe0cdc"/><stop offset="0.82" stop-color="#ff08d4"/><stop offset="0.86" stop-color="#ff06cb"/><stop offset="0.91" stop-color="#ff04c4"/><stop offset="0.95" stop-color="#ff02be"/><stop offset="1" stop-color="#ff01b8"/></linearGradient>
<linearGradient id="g100"><stop offset="0" stop-color="#01adff"/><stop offset="0.05" stop-color="#04a2ff"/><stop offset="0.1" stop-color="#0996ff"/><stop offset="0.14" stop-color="#1289ff"/><stop offset="0.19" stop-color="#217aff"/><stop offset="0.24" stop-color="#376bff"/><stop offset="0.29" stop-color="#515eff"/><stop offset="0.33" stop-color="#6d52ff"/><stop offset="0.38" stop-color="#8947ff"/><stop offset="0.43" stop-color="#a23eff"/><stop offset="0.48" stop-color="#b835ff"/><stop offset="0.52" stop-color="#cc2cfe"/><stop offset="0.57" stop-color="#dc25fc"/><stop offset="0.62" stop-color="#e81ef9"/><stop offset="0.67" stop-color="#f117f4"/><stop offset="0.71" stop-color="#f812ed"/><stop offset="0.76" stop-color="#fc0de5"/><stop offset="0.81" stop-color="#fe09dc"/><stop offset="0.86" stop-color="#ff06d4"/><stop offset="0.9" stop-color="#ff04cc"/><stop offset="0.95" stop-color="#ff03c5"/><stop offset="1" stop-color="#ff02bf"/></linearGradient>
<linearGradient id="g101"><stop offset="0" stop-color="#02a7ff"/><stop offset="0.05" stop-color="#059cff"/><stop offset="0.1" stop-color="#0b8fff"/><stop offset="0.15" stop-color="#1680ff"/><stop offset="0.2" stop-color="#2771ff"/><stop offset="0.25" stop-color="#3e62ff"/><stop offset="0.3" stop-color="#5854ff"/><stop offset="0.35" stop-color="#724aff"/><stop offset="0.4" stop-color="#8d3fff"/><stop offset="0.45" stop-color="#a636ff"/><stop offset="0.5" stop-color="#bc2dfe"/><stop offset="0.55" stop-color="#ce25fe"/><stop offset="0.6" stop-color="#de1efc"/><stop offset="0.65" stop-color="#ea18f8"/><stop offset="0.7" stop-color="#f312f3"/><stop offset="0.75" stop-color="#f90dec"/><stop offset="0.8" stop-color="#fc0ae4"/><stop offset="0.85" stop-color="#fe07dc"/><stop offset="0.9" stop-color="#ff04d4"/><stop offset="0.95" stop-color="#ff03cc"/><stop offset="1" stop-color="#ff02c5"/></linearGradient>
<linearGradient id="g102"><stop offset="0" stop-color="#02a1ff"/><stop offset="0.05" stop-color="#0695ff"/><stop offset="0.11" stop-color="#0e87ff"/><stop offset="0.16" stop-color="#1a77ff"/><stop offset="0.21" stop-color="#2b68ff"/><stop offset="0.26" stop-color="#4359ff"/><stop offset="0.32" stop-color="#5e4cff"/><stop offset="0.37" stop-color="#7a40ff"/><stop offset="0.42" stop-color="#9436ff"/><stop offset="0.47" stop-color="#ac2dff"/><stop offset="0.53" stop-color="#c026fe"/><stop offset="0.58" stop-color="#d21efd"/><stop offset="0.63" stop-color="#e018fb"/><stop offset="0.68" stop-color="#ec13f8"/><stop offset="0.74" stop-color="#f40ef3"/><stop offset="0.79" stop-color="#f90aec"/><stop offset="0.84" stop-color="#fc07e5"/><stop offset="0.89" stop-color="#fe05dc"/><stop offset="0.95" stop-color="#ff03d4"/><stop offset="1" stop-color="#ff02cd"/></linearGradient>
<linearGradient id="g103"><stop offset="0" stop-color="#039bff"/><stop offset="0.06" stop-color="#088dff"/><stop offset="0.11" stop-color="#117eff"/><stop offset="0.17" stop-color="#1e6fff"/><stop offset="0.22" stop-color="#315fff"/><stop offset="0.28" stop-color="#4a50ff"/><stop offset="0.33" stop-color="#6642ff"/><stop offset="0.39" stop-color="#8137ff"/><stop offset="0.44" stop-color="#9a2eff"/><stop offset="0.5" stop-color="#b126ff"/><stop offset="0.56" stop-color="#c51ffe"/><stop offset="0.61" stop-color="#d419fd"/><stop offset="0.67" stop-color="#e213fb"/><stop offset="0.72" stop-color="#ed0ff8"/><stop offset="0.78" stop-color="#f50bf2"/><stop offset="0.83" stop-color="#fa08ec"/><stop offset="0.89" stop-color="#fd05e4"/><stop offset="0.94" stop-color="#fe03dc"/><stop offset="1" stop-color="#ff02d5"/></linearGradient>
<linearGradient id="g104"><stop offset="0" stop-color="#0494ff"/><stop offset="0.06" stop-color="#0a86ff"/><stop offset="0.12" stop-color="#1575ff"/><stop offset="0.18" stop-color="#2365ff"/><stop offset="0.24" stop-color="#3855ff"/><stop offset="0.29" stop-color="#5246ff"/><stop offset="0.35" stop-color="#6d39ff"/><stop offset="0.41" stop-color="#882fff"/><stop offset="0.47" stop-color="#9f27ff"/><stop offset="0.53" stop-color="#b51fff"/><stop offset="0.59" stop-color="#c719fe"/><stop offset="0.65" stop-color="#d713fd"/><stop offset="0.71" stop-color="#e50ffb"/><stop offset="0.76" stop-color="#ef0bf7"/><stop offset="0.82" stop-color="#f608f2"/><stop offset="0.88" stop-color="#fa06ec"/><stop offset="0.94" stop-color="#fd04e4"/><stop offset="1" stop-color="#fe02dc"/></linearGradient>
<linearGradient id="g105"><stop offset="0" stop-color="#068dff"/><stop offset="0.06" stop-color="#0d7dff"/><stop offset="0.12" stop-color="#186dff"/><stop offset="0.19" stop-color="#295cff"/><stop offset="0.25" stop-color="#404bff"/><stop offset="0.31" stop-color="#5a3dff"/><stop offset="0.38" stop-color="#7531ff"/><stop offset="0.44" stop-color="#8d28ff"/><stop offset="0.5" stop-color="#a520ff"/><stop offset="0.56" stop-color="#b919ff"/><stop offset="0.62" stop-color="#cb14fe"/><stop offset="0.69" stop-color="#d90ffd"/><stop offset="0.75" stop-color="#e60bfb"/><stop offset="0.81" stop-color="#f008f7"/><stop offset="0.88" stop-color="#f706f2"/><stop offset="0.94" stop-color="#fb04eb"/><stop offset="1" stop-color="#fd03e4"/></linearGradient>
<linearGradient id="g106"><stop offset="0" stop-color="#0885ff"/><stop offset="0.07" stop-color="#1075ff"/><stop offset="0.13" stop-color="#1e63ff"/><stop offset="0.2" stop-color="#2f52ff"/><stop offset="0.27" stop-color="#4742ff"/><stop offset="0.33" stop-color="#6234ff"/><stop offset="0.4" stop-color="#7b2aff"/><stop offset="0.47" stop-color="#9421ff"/><stop offset="0.53" stop-color="#ab1aff"/><stop offset="0.6" stop-color="#be14ff"/><stop offset="0.67" stop-color="#ce10fe"/><stop offset="0.73" stop-color="#dc0cfd"/><stop offset="0.8" stop-color="#e808fb"/><stop offset="0.87" stop-color="#f106f7"/><stop offset="0.93" stop-color="#f704f2"/><stop offset="1" stop-color="#fb03eb"/></linearGradient>
<linearGradient id="g107"><stop offset="0" stop-color="#0a7eff"/><stop offset="0.07" stop-color="#146cff"/><stop offset="0.14" stop-color="#2359ff"/><stop offset="0.21" stop-color="#3649ff"/><stop offset="0.29" stop-color="#4f39ff"/><stop offset="0.36" stop-color="#6a2cff"/><stop offset="0.43" stop-color="#8222ff"/><stop offset="0.5" stop-color="#9a1aff"/><stop offset="0.57" stop-color="#ae15ff"/><stop offset="0.64" stop-color="#c110ff"/><stop offset="0.71" stop-color="#d10cfe"/><stop offset="0.79" stop-color="#de09fd"/><stop offset="0.86" stop-color="#ea06fa"/><stop offset="0.93" stop-color="#f204f7"/><stop offset="1" stop-color="#f803f2"/></linearGradient>
<linearGradient id="g108"><stop offset="0" stop-color="#0d74ff"/><stop offset="0.08" stop-color="#1863ff"/><stop offset="0.15" stop-color="#2950ff"/><stop offset="0.23" stop-color="#3e3fff"/><stop offset="0.31" stop-color="#5730ff"/><stop offset="0.38" stop-color="#7025ff"/><stop offset="0.46" stop-color="#891cff"/><stop offset="0.54" stop-color="#a115ff"/><stop offset="0.62" stop-color="#b410ff"/><stop offset="0.69" stop-color="#c50cff"/><stop offset="0.77" stop-color="#d409fe"/><stop offset="0.85" stop-color="#e106fd"/><stop offset="0.92" stop-color="#eb05fa"/><stop offset="1" stop-color="#f303f6"/></linearGradient>
<linearGradient id="g109"><stop offset="0" stop-color="#116bff"/><stop offset="0.08" stop-color="#1e58ff"/><stop offset="0.17" stop-color="#3046ff"/><stop offset="0.25" stop-color="#4835ff"/><stop offset="0.33" stop-color="#5f28ff"/><stop offset="0.42" stop-color="#781eff"/><stop offset="0.5" stop-color="#9016ff"/><stop offset="0.58" stop-color="#a511ff"/><stop offset="0.67" stop-color="#b80cff"/><stop offset="0.75" stop-color="#c809ff"/><stop offset="0.83" stop-color="#d607fe"/><stop offset="0.92" stop-color="#e305fd"/><stop offset="1" stop-color="#ec03fa"/></linearGradient>
<linearGradient id="g110"><stop offset="0" stop-color="#1561ff"/><stop offset="0.09" stop-color="#244fff"/><stop offset="0.18" stop-color="#393cff"/><stop offset="0.27" stop-color="#4f2dff"/><stop offset="0.36" stop-color="#6821ff"/><stop offset="0.45" stop-color="#7f18ff"/><stop offset="0.55" stop-color="#9711ff"/><stop offset="0.64" stop-color="#ab0dff"/><stop offset="0.73" stop-color="#bc09ff"/><stop offset="0.82" stop-color="#cb07ff"/><stop offset="0.91" stop-color="#d805fe"/><stop offset="1" stop-color="#e403fd"/></linearGradient>
<linearGradient id="g111"><stop offset="0" stop-color="#1b56ff"/><stop offset="0.1" stop-color="#2c44ff"/><stop offset="0.2" stop-color="#4033ff"/><stop offset="0.3" stop-color="#5825ff"/><stop offset="0.4" stop-color="#6f1bff"/><stop offset="0.5" stop-color="#8713ff"/><stop offset="0.6" stop-color="#9c0eff"/><stop offset="0.7" stop-color="#ae0aff"/><stop offset="0.8" stop-color="#bf07ff"/><stop offset="0.9" stop-color="#cd05ff"/><stop offset="1" stop-color="#da04fe"/></linearGradient>
<linearGradient id="g112"><stop offset="0" stop-color="#224cff"/><stop offset="0.11" stop-color="#343aff"/><stop offset="0.22" stop-color="#4a2aff"/><stop offset="0.33" stop-color="#621eff"/><stop offset="0.44" stop-color="#7715ff"/><stop offset="0.56" stop-color="#8d0fff"/><stop offset="0.67" stop-color="#a20aff"/><stop offset="0.78" stop-color="#b207ff"/><stop offset="0.89" stop-color="#c105ff"/><stop offset="1" stop-color="#cf04ff"/></linearGradient>
<linearGradient id="g113"><stop offset="0" stop-color="#2b40ff"/><stop offset="0.14" stop-color="#412dff"/><stop offset="0.29" stop-color="#5a1fff"/><stop offset="0.43" stop-color="#7215ff"/><stop offset="0.57" stop-color="#8b0dff"/><stop offset="0.71" stop-color="#a009ff"/><stop offset="0.86" stop-color="#b206ff"/><stop offset="1" stop-color="#c304ff"/></linearGradient>
<linearGradient id="g114"><stop offset="0" stop-color="#3733ff"/><stop offset="0.17" stop-color="#4d24ff"/><stop offset="0.33" stop-color="#6418ff"/><stop offset="0.5" stop-color="#7c10ff"/><stop offset="0.67" stop-color="#910aff"/><stop offset="0.83" stop-color="#a407ff"/><stop offset="1" stop-color="#b704ff"/></linearGradient>
<linearGradient id="g115"><stop offset="0" stop-color="#4328ff"/><stop offset="0.2" stop-color="#591bff"/><stop offset="0.4" stop-color="#6e12ff"/><stop offset="0.6" stop-color="#850bff"/><stop offset="0.8" stop-color="#9707ff"/><stop offset="1" stop-color="#a805ff"/></linearGradient>
<linearGradient id="g116"><stop offset="0" stop-color="#531dff"/><stop offset="0.33" stop-color="#6b12ff"/><stop offset="0.67" stop-color="#830aff"/><stop offset="1" stop-color="#9906ff"/></linearGradient>
<linearGradient id="g117"><stop offset="0" stop-color="#6115ff"/><stop offset="0.5" stop-color="#760dff"/><stop offset="1" stop-color="#8808ff"/></linearGradient>
</defs>
<rect x="59.6" y="10.9" width="518.92" height="481.1" fill="#fff"/>
<g clip-path="url(#gc)"><g filter="url(#vb)"><rect x="97.44" y="18" width="36.42" height="6" fill="url(#g0)"/><rect x="87.57" y="22" width="60.91" height="6" fill="url(#g1)"/><rect x="82.06" y="26" width="77.09" height="6" fill="url(#g2)"/><rect x="78.01" y="30" width="90.45" height="6" fill="url(#g3)"/><rect x="74.79" y="34" width="102.22" height="6" fill="url(#g4)"/><rect x="72.11" y="38" width="112.96" height="6" fill="url(#g5)"/><rect x="69.83" y="42" width="122.88" height="6" fill="url(#g6)"/><rect x="67.83" y="46" width="132.14" height="6" fill="url(#g7)"/><rect x="66.08" y="50" width="140.85" height="6" fill="url(#g8)"/><rect x="64.52" y="54" width="149.1" height="6" fill="url(#g9)"/><rect x="63.14" y="58" width="156.94" height="6" fill="url(#g10)"/><rect x="61.91" y="62" width="164.45" height="6" fill="url(#g11)"/><rect x="60.81" y="66" width="171.66" height="6" fill="url(#g12)"/><rect x="59.83" y="70" width="178.61" height="6" fill="url(#g13)"/><rect x="58.95" y="74" width="185.34" height="6" fill="url(#g14)"/><rect x="58.19" y="78" width="191.84" height="6" fill="url(#g15)"/><rect x="58" y="82" width="197.65" height="6" fill="url(#g16)"/><rect x="58" y="86" width="203.2" height="6" fill="url(#g17)"/><rect x="58" y="90" width="208.66" height="6" fill="url(#g18)"/><rect x="58" y="94" width="214.06" height="6" fill="url(#g19)"/><rect x="58" y="98" width="219.39" height="6" fill="url(#g20)"/><rect x="58" y="102" width="224.68" height="6" fill="url(#g21)"/><rect x="58" y="106" width="229.93" height="6" fill="url(#g22)"/><rect x="58" y="110" width="235.14" height="6" fill="url(#g23)"/><rect x="58" y="114" width="240.32" height="6" fill="url(#g24)"/><rect x="58" y="118" width="245.47" height="6" fill="url(#g25)"/><rect x="58" y="122" width="250.59" height="6" fill="url(#g26)"/><rect x="58" y="126" width="255.69" height="6" fill="url(#g27)"/><rect x="58" y="130" width="260.77" height="6" fill="url(#g28)"/><rect x="58" y="134" width="265.82" height="6" fill="url(#g29)"/><rect x="58" y="138" width="270.84" height="6" fill="url(#g30)"/><rect x="58" y="142" width="275.85" height="6" fill="url(#g31)"/><rect x="58" y="146" width="280.84" height="6" fill="url(#g32)"/><rect x="58" y="150" width="285.81" height="6" fill="url(#g33)"/><rect x="58" y="154" width="290.78" height="6" fill="url(#g34)"/><rect x="58" y="158" width="295.75" height="6" fill="url(#g35)"/><rect x="58" y="162" width="300.72" height="6" fill="url(#g36)"/><rect x="58" y="166" width="305.68" height="6" fill="url(#g37)"/><rect x="58" y="170" width="310.64" height="6" fill="url(#g38)"/><rect x="58" y="174" width="315.59" height="6" fill="url(#g39)"/><rect x="58" y="178" width="320.52" height="6" fill="url(#g40)"/><rect x="58" y="182" width="325.45" height="6" fill="url(#g41)"/><rect x="58" y="186" width="330.37" height="6" fill="url(#g42)"/><rect x="58" y="190" width="335.28" height="6" fill="url(#g43)"/><rect x="58.35" y="194" width="339.83" height="6" fill="url(#g44)"/><rect x="58.83" y="198" width="344.27" height="6" fill="url(#g45)"/><rect x="59.33" y="202" width="348.67" height="6" fill="url(#g46)"/><rect x="59.85" y="206" width="353.06" height="6" fill="url(#g47)"/><rect x="60.39" y="210" width="357.42" height="6" fill="url(#g48)"/><rect x="60.95" y="214" width="361.76" height="6" fill="url(#g49)"/><rect x="61.53" y="218" width="366.08" height="6" fill="url(#g50)"/><rect x="62.13" y="222" width="370.38" height="6" fill="url(#g51)"/><rect x="62.74" y="226" width="374.67" height="6" fill="url(#g52)"/><rect x="63.39" y="230" width="378.94" height="6" fill="url(#g53)"/><rect x="64.03" y="234" width="383.21" height="6" fill="url(#g54)"/><rect x="64.72" y="238" width="387.45" height="6" fill="url(#g55)"/><rect x="65.4" y="242" width="391.69" height="6" fill="url(#g56)"/><rect x="66.12" y="246" width="395.9" height="6" fill="url(#g57)"/><rect x="66.85" y="250" width="400.08" height="6" fill="url(#g58)"/><rect x="67.6" y="254" width="404.22" height="6" fill="url(#g59)"/><rect x="68.36" y="258" width="408.34" height="6" fill="url(#g60)"/><rect x="69.14" y="262" width="412.45" height="6" fill="url(#g61)"/><rect x="69.95" y="266" width="416.53" height="6" fill="url(#g62)"/><rect x="70.77" y="270" width="420.62" height="6" fill="url(#g63)"/><rect x="71.61" y="274" width="424.69" height="6" fill="url(#g64)"/><rect x="72.47" y="278" width="428.75" height="6" fill="url(#g65)"/><rect x="73.34" y="282" width="432.79" height="6" fill="url(#g66)"/><rect x="74.23" y="286" width="436.8" height="6" fill="url(#g67)"/><rect x="75.13" y="290" width="440.82" height="6" fill="url(#g68)"/><rect x="76.06" y="294" width="444.84" height="6" fill="url(#g69)"/><rect x="77" y="298" width="448.85" height="6" fill="url(#g70)"/><rect x="77.96" y="302" width="452.82" height="6" fill="url(#g71)"/><rect x="78.94" y="306" width="456.73" height="6" fill="url(#g72)"/><rect x="79.93" y="310" width="460.61" height="6" fill="url(#g73)"/><rect x="80.94" y="314" width="464.49" height="6" fill="url(#g74)"/><rect x="81.97" y="318" width="468.41" height="6" fill="url(#g75)"/><rect x="83" y="322" width="472.28" height="6" fill="url(#g76)"/><rect x="84.07" y="326" width="476.1" height="6" fill="url(#g77)"/><rect x="85.15" y="330" width="479.91" height="6" fill="url(#g78)"/><rect x="86.25" y="334" width="483.78" height="6" fill="url(#g79)"/><rect x="87.37" y="338" width="484.63" height="6" fill="url(#g80)"/><rect x="88.51" y="342" width="479.11" height="6" fill="url(#g81)"/><rect x="89.68" y="346" width="467.41" height="6" fill="url(#g82)"/><rect x="90.87" y="350" width="455.69" height="6" fill="url(#g83)"/><rect x="92.09" y="354" width="443.94" height="6" fill="url(#g84)"/><rect x="93.33" y="358" width="432.16" height="6" fill="url(#g85)"/><rect x="94.61" y="362" width="420.36" height="6" fill="url(#g86)"/><rect x="95.91" y="366" width="408.52" height="6" fill="url(#g87)"/><rect x="97.26" y="370" width="396.64" height="6" fill="url(#g88)"/><rect x="98.64" y="374" width="384.73" height="6" fill="url(#g89)"/><rect x="100.07" y="378" width="372.77" height="6" fill="url(#g90)"/><rect x="101.54" y="382" width="360.77" height="6" fill="url(#g91)"/><rect x="103.05" y="386" width="348.73" height="6" fill="url(#g92)"/><rect x="104.61" y="390" width="336.64" height="6" fill="url(#g93)"/><rect x="106.21" y="394" width="324.51" height="6" fill="url(#g94)"/><rect x="107.85" y="398" width="312.33" height="6" fill="url(#g95)"/><rect x="109.54" y="402" width="300.12" height="6" fill="url(#g96)"/><rect x="111.26" y="406" width="287.86" height="6" fill="url(#g97)"/><rect x="113.03" y="410" width="275.57" height="6" fill="url(#g98)"/><rect x="114.82" y="414" width="263.24" height="6" fill="url(#g99)"/><rect x="116.65" y="418" width="250.89" height="6" fill="url(#g100)"/><rect x="118.51" y="422" width="238.5" height="6" fill="url(#g101)"/><rect x="120.4" y="426" width="226.07" height="6" fill="url(#g102)"/><rect x="122.35" y="430" width="213.59" height="6" fill="url(#g103)"/><rect x="124.35" y="434" width="201.06" height="6" fill="url(#g104)"/><rect x="126.43" y="438" width="188.45" height="6" fill="url(#g105)"/><rect x="128.6" y="442" width="175.74" height="6" fill="url(#g106)"/><rect x="130.89" y="446" width="162.92" height="6" fill="url(#g107)"/><rect x="133.32" y="450" width="149.96" height="6" fill="url(#g108)"/><rect x="135.91" y="454" width="136.85" height="6" fill="url(#g109)"/><rect x="138.68" y="458" width="123.54" height="6" fill="url(#g110)"/><rect x="141.67" y="462" width="110.02" height="6" fill="url(#g111)"/><rect x="144.99" y="466" width="96.18" height="6" fill="url(#g112)"/><rect x="148.82" y="470" width="81.81" height="6" fill="url(#g113)"/><rect x="153.37" y="474" width="66.73" height="6" fill="url(#g114)"/><rect x="158.57" y="478" width="51" height="6" fill="url(#g115)"/><rect x="164.2" y="482" width="34.83" height="6" fill="url(#g116)"/><rect x="169.95" y="486" width="18.55" height="6" fill="url(#g117)"/></g></g>
<g><line x1="94.19" y1="10.9" x2="94.19" y2="492" class="m"/><line x1="128.79" y1="10.9" x2="128.79" y2="492" class="M"/><line x1="163.39" y1="10.9" x2="163.39" y2="492" class="m"/><line x1="197.98" y1="10.9" x2="197.98" y2="492" class="M"/><line x1="232.57" y1="10.9" x2="232.57" y2="492" class="m"/><line x1="267.17" y1="10.9" x2="267.17" y2="492" class="M"/><line x1="301.77" y1="10.9" x2="301.77" y2="492" class="m"/><line x1="336.36" y1="10.9" x2="336.36" y2="492" class="M"/><line x1="370.96" y1="10.9" x2="370.96" y2="492" class="m"/><line x1="405.55" y1="10.9" x2="405.55" y2="492" class="M"/><line x1="440.15" y1="10.9" x2="440.15" y2="492" class="m"/><line x1="474.74" y1="10.9" x2="474.74" y2="492" class="M"/><line x1="509.34" y1="10.9" x2="509.34" y2="492" class="m"/><line x1="543.93" y1="10.9" x2="543.93" y2="492" class="M"/><line x1="59.6" y1="463.7" x2="578.52" y2="463.7" class="m"/><line x1="59.6" y1="435.4" x2="578.52" y2="435.4" class="M"/><line x1="59.6" y1="407.1" x2="578.52" y2="407.1" class="m"/><line x1="59.6" y1="378.8" x2="578.52" y2="378.8" class="M"/><line x1="59.6" y1="350.5" x2="578.52" y2="350.5" class="m"/><line x1="59.6" y1="322.2" x2="578.52" y2="322.2" class="M"/><line x1="59.6" y1="293.9" x2="578.52" y2="293.9" class="m"/><line x1="59.6" y1="265.6" x2="578.52" y2="265.6" class="M"/><line x1="59.6" y1="237.3" x2="578.52" y2="237.3" class="m"/><line x1="59.6" y1="209" x2="578.52" y2="209" class="M"/><line x1="59.6" y1="180.7" x2="578.52" y2="180.7" class="m"/><line x1="59.6" y1="152.4" x2="578.52" y2="152.4" class="M"/><line x1="59.6" y1="124.1" x2="578.52" y2="124.1" class="m"/><line x1="59.6" y1="95.8" x2="578.52" y2="95.8" class="M"/><line x1="59.6" y1="67.5" x2="578.52" y2="67.5" class="m"/><line x1="59.6" y1="39.2" x2="578.52" y2="39.2" class="M"/></g>
<rect x="59.6" y="10.9" width="518.92" height="481.1" fill="none" stroke="#959595" stroke-width="1.5"/>
<path d="M180.06,489.17 179.05,489.28 178.06,489.05 177.17,488.56 176.22,487.93 175.38,487.35 174.43,486.65 173.54,485.97 172.52,485.23 171.58,484.56 170.51,483.79 169.61,483.16 168.63,482.47 167.6,481.73 166.5,480.95 165.33,480.1 164.51,479.48 163.64,478.81 162.72,478.09 161.77,477.33 160.78,476.51 159.76,475.64 158.7,474.73 157.62,473.75 156.48,472.68 155.29,471.49 154.02,470.15 152.66,468.64 151.95,467.81 151.22,466.93 150.46,465.99 149.68,465.01 148.88,463.98 148.06,462.89 147.21,461.74 146.35,460.54 145.46,459.29 144.56,457.97 143.63,456.59 142.69,455.15 141.72,453.64 140.73,452.05 139.72,450.39 138.68,448.64 137.62,446.81 136.54,444.89 135.43,442.87 134.3,440.76 133.14,438.54 131.96,436.23 130.74,433.8 129.5,431.27 128.22,428.63 126.91,425.87 125.57,423 124.19,420.01 122.77,416.89 121.31,413.65 119.82,410.29 118.3,406.79 116.75,403.16 115.18,399.39 113.59,395.49 111.99,391.44 110.38,387.24 108.76,382.9 107.13,378.4 105.51,373.75 103.89,368.95 102.28,363.99 100.66,358.88 99.05,353.61 97.44,348.2 95.83,342.63 94.22,336.91 92.62,331.05 91.01,325.03 89.41,318.87 87.82,312.57 86.23,306.14 84.67,299.59 83.12,292.94 81.6,286.19 80.11,279.35 78.65,272.43 77.23,265.45 75.86,258.41 74.54,251.33 73.26,244.21 72.04,237.06 70.88,229.9 69.78,222.74 68.74,215.59 67.77,208.45 66.87,201.35 66.03,194.28 65.27,187.27 64.59,180.31 63.99,173.43 63.46,166.61 63.03,159.88 62.67,153.22 62.41,146.66 62.24,140.19 62.16,133.81 62.18,127.54 62.3,121.38 62.52,115.34 62.84,109.41 63.26,103.62 63.79,97.96 64.42,92.45 65.17,87.1 66.01,81.91 66.97,76.89 68.04,72.04 69.22,67.39 70.51,62.92 71.9,58.66 73.41,54.61 75.01,50.76 76.71,47.13 78.5,43.72 80.38,40.54 82.35,37.59 84.39,34.88 86.51,32.41 88.71,30.18 90.98,28.2 93.3,26.45 95.69,24.92 98.13,23.61 100.63,22.51 103.17,21.62 105.75,20.92 108.36,20.4 111.01,20.07 113.68,19.91 116.38,19.91 119.11,20.06 121.85,20.34 124.61,20.76 127.39,21.29 130.18,21.93 132.98,22.67 135.79,23.48 138.61,24.37 141.44,25.32 144.27,26.33 147.09,27.39 149.92,28.5 152.74,29.64 155.55,30.83 158.34,32.05 161.13,33.3 163.89,34.57 166.64,35.86 169.36,37.17 172.06,38.49 174.74,39.82 177.41,41.17 180.05,42.54 182.68,43.92 185.3,45.32 187.9,46.73 190.49,48.16 193.07,49.61 195.64,51.08 198.2,52.57 200.75,54.07 203.3,55.59 205.83,57.13 208.37,58.68 210.9,60.26 213.42,61.84 215.94,63.45 218.46,65.07 220.98,66.7 223.49,68.35 226,70.02 228.51,71.7 231.02,73.39 233.52,75.1 236.02,76.81 238.52,78.55 241.02,80.29 243.51,82.05 246,83.81 248.48,85.59 250.96,87.38 253.44,89.18 255.92,90.98 258.39,92.8 260.87,94.63 263.34,96.46 265.81,98.31 268.28,100.16 270.75,102.02 273.21,103.88 275.68,105.76 278.15,107.64 280.62,109.53 283.09,111.42 285.56,113.32 288.03,115.23 290.5,117.14 292.98,119.06 295.45,120.99 297.93,122.92 300.41,124.86 302.89,126.8 305.37,128.74 307.85,130.69 310.32,132.65 312.8,134.61 315.28,136.57 317.75,138.53 320.22,140.5 322.69,142.47 325.15,144.44 327.62,146.42 330.08,148.39 332.54,150.37 335,152.35 337.46,154.33 339.92,156.31 342.38,158.29 344.84,160.27 347.3,162.24 349.75,164.22 352.21,166.2 354.66,168.18 357.11,170.15 359.56,172.13 362,174.1 364.44,176.07 366.87,178.04 369.3,180.01 371.72,181.97 374.14,183.93 376.55,185.89 378.95,187.85 381.35,189.8 383.74,191.75 386.13,193.69 388.51,195.63 390.88,197.57 393.25,199.5 395.61,201.42 397.96,203.34 400.3,205.25 402.64,207.16 404.97,209.06 407.29,210.95 409.6,212.83 411.91,214.71 414.2,216.58 416.48,218.45 418.76,220.3 421.02,222.15 423.27,223.99 425.51,225.82 427.74,227.64 429.96,229.45 432.17,231.25 434.37,233.03 436.55,234.81 438.72,236.57 440.87,238.32 443.01,240.06 445.14,241.79 447.25,243.51 449.35,245.21 451.43,246.9 453.5,248.58 455.55,250.25 457.58,251.9 459.6,253.55 461.59,255.18 463.57,256.79 465.52,258.39 467.45,259.97 469.36,261.54 471.25,263.08 473.11,264.61 474.94,266.11 476.75,267.58 478.52,269.03 480.27,270.46 481.99,271.86 483.69,273.25 485.36,274.61 487.02,275.95 488.65,277.28 490.26,278.59 491.85,279.88 493.42,281.16 494.98,282.43 496.52,283.69 498.04,284.93 499.55,286.16 501.03,287.36 502.49,288.55 503.93,289.73 505.34,290.88 506.73,292 508.09,293.11 509.42,294.19 510.73,295.25 512.01,296.28 513.26,297.29 514.49,298.28 515.69,299.26 516.87,300.21 518.03,301.14 519.16,302.06 520.27,302.96 521.35,303.84 522.42,304.71 523.46,305.56 524.48,306.39 525.48,307.21 526.46,308.01 527.42,308.8 528.35,309.56 529.27,310.32 530.16,311.05 531.03,311.77 531.89,312.47 532.72,313.15 533.54,313.82 534.33,314.47 535.11,315.11 536.61,316.33 538.05,317.5 539.42,318.62 540.74,319.68 542,320.7 543.2,321.67 544.35,322.6 545.44,323.49 546.49,324.34 547.49,325.17 548.46,325.96 549.4,326.73 550.3,327.47 551.18,328.18 552.02,328.87 552.83,329.54 553.62,330.18 554.73,331.1 555.78,331.95 556.76,332.76 557.69,333.5 558.55,334.19 559.35,334.82 560.31,335.59 561.16,336.29 562.1,337.06 562.92,337.74 563.78,338.44 564.59,339.1 565.38,339.75 566.18,340.4 566.99,341.07 567.77,341.7 567.94,341.84Z" fill="none" stroke="#333" stroke-width="1.15" stroke-linejoin="round"/>
<path d="M167.95,481.98L165.35,485.65M164.08,479.15L162.25,481.53M159.23,475.19L156.28,478.58M153.35,469.42L151.12,471.42M145.46,459.29L141.77,461.86M135.43,442.87L132.79,444.3M122.77,416.89L118.67,418.75M107.13,378.4L104.31,379.41M91.01,325.03L86.66,326.18M75.86,258.41L72.91,258.97M65.27,187.27L60.8,187.73M62.3,121.38L59.3,121.3M69.22,67.39L64.87,66.21M86.51,32.41L84.31,30.38M111.01,20.07L110.59,15.59M138.61,24.37L139.54,21.52M166.64,35.86L168.57,31.8M193.07,49.61L194.55,47M218.46,65.07L220.9,61.29M243.51,82.05L245.24,79.6M268.28,100.16L270.98,96.56M292.98,119.06L294.82,116.69M317.75,138.53L320.55,135.01M342.38,158.29L344.26,155.95M366.87,178.04L369.7,174.54M390.88,197.57L392.78,195.24M414.2,216.58L417.04,213.1M436.55,234.81L438.44,232.48M457.58,251.9L460.42,248.42M476.75,267.58L478.64,265.26M493.42,281.16L496.26,277.68M508.09,293.11L509.98,290.78M520.27,302.96L523.1,299.46M530.16,311.05L532.06,308.73M538.05,317.5L540.89,314.01M544.35,322.6L546.24,320.27M549.4,326.73L552.25,323.25M553.62,330.18L555.52,327.86" stroke="#333" stroke-width="0.8" fill="none"/>
<g class="wl"><text transform="translate(165,486.14) rotate(305.34)" text-anchor="end" dy="2">450</text><text transform="translate(155.89,479.04) rotate(311.02)" text-anchor="end" dy="2">460</text><text transform="translate(141.28,462.2) rotate(325.17)" text-anchor="end" dy="2">470</text><text transform="translate(118.12,418.99) rotate(335.66)" text-anchor="end" dy="2">480</text><text transform="translate(86.08,326.33) rotate(345.26)" text-anchor="end" dy="2">490</text><text transform="translate(60.2,187.79) rotate(354.1)" text-anchor="end" dy="2">500</text><text transform="translate(64.29,66.05) rotate(15.15)" text-anchor="end" dy="2">510</text><text transform="translate(110.54,14.99) rotate(84.68)" text-anchor="end" dy="2">520</text><text transform="translate(168.82,31.25) rotate(-64.61)" text-anchor="start" dy="2">530</text><text transform="translate(221.23,60.78) rotate(-57.12)" text-anchor="start" dy="2">540</text><text transform="translate(271.34,96.08) rotate(-53.08)" text-anchor="start" dy="2">550</text><text transform="translate(320.92,134.54) rotate(-51.5)" text-anchor="start" dy="2">560</text><text transform="translate(370.08,174.08) rotate(-51)" text-anchor="start" dy="2">570</text><text transform="translate(417.42,212.63) rotate(-50.78)" text-anchor="start" dy="2">580</text><text transform="translate(460.8,247.95) rotate(-50.81)" text-anchor="start" dy="2">590</text><text transform="translate(496.64,277.21) rotate(-50.84)" text-anchor="start" dy="2">600</text><text transform="translate(523.48,299) rotate(-50.93)" text-anchor="start" dy="2">610</text><text transform="translate(541.26,313.54) rotate(-50.91)" text-anchor="start" dy="2">620</text><text transform="translate(552.63,322.78) rotate(-50.67)" text-anchor="start" dy="2">630</text></g>
<path d="M230.66,353.86 231.32,353.09 232,352.32 232.67,351.55 233.43,350.69 234.15,349.88 234.94,348.99 235.67,348.17 236.47,347.29 237.16,346.53 237.89,345.72 238.68,344.86 239.53,343.94 240.44,342.97 241.16,342.19 241.92,341.38 242.73,340.53 243.58,339.63 244.47,338.7 245.42,337.72 246.41,336.69 247.46,335.62 248.19,334.88 248.95,334.11 249.74,333.33 250.55,332.51 251.4,331.68 252.27,330.82 253.18,329.94 254.12,329.03 255.09,328.09 256.1,327.13 257.14,326.15 258.22,325.13 259.34,324.09 260.5,323.03 261.7,321.93 262.94,320.81 264.23,319.66 265.56,318.49 266.94,317.28 268.36,316.05 269.84,314.79 271.37,313.51 272.15,312.86 272.94,312.2 273.75,311.53 274.58,310.86 275.41,310.19 276.26,309.5 277.13,308.81 278.01,308.11 278.9,307.41 279.81,306.7 280.73,305.99 281.67,305.27 282.62,304.55 283.59,303.82 284.58,303.08 285.58,302.34 286.59,301.6 287.62,300.85 288.67,300.09 289.73,299.34 290.81,298.57 291.91,297.81 293.02,297.04 294.15,296.27 295.3,295.49 296.46,294.71 297.65,293.93 298.84,293.15 300.06,292.36 301.29,291.57 302.54,290.79 303.81,290 305.1,289.21 306.4,288.41 307.72,287.62 309.06,286.83 310.41,286.04 311.79,285.25 313.18,284.46 314.58,283.68 316.01,282.89 317.45,282.11 318.91,281.33 320.39,280.56 321.88,279.78 323.44,278.98 324.97,278.21 326.51,277.44 328.06,276.68 329.63,275.92 331.21,275.18 332.8,274.44 334.41,273.71 336.03,273 337.66,272.29 339.3,271.59 340.95,270.91 342.62,270.23 344.3,269.57 346,268.92 347.7,268.29 349.42,267.66 351.15,267.05 352.89,266.46 354.64,265.88 356.4,265.31 358.17,264.76 359.96,264.23 361.75,263.71 363.56,263.21 365.38,262.73 367.2,262.27 369.04,261.82 370.88,261.4 372.74,260.99 374.6,260.61 376.47,260.24 378.35,259.89 380.24,259.57 382.14,259.27 384.04,258.99 385.95,258.73 387.86,258.49 389.78,258.28 391.7,258.09 393.63,257.93 395.56,257.79 397.5,257.67 399.44,257.58 401.38,257.51 403.32,257.47 405.26,257.45 407.2,257.46 409.14,257.49 411.08,257.54 413.01,257.62 414.95,257.72 416.87,257.85 418.79,258.01 420.71,258.19 422.61,258.4 424.51,258.64 426.4,258.9 428.27,259.18 430.13,259.49 431.98,259.82 433.82,260.17 435.63,260.55 437.43,260.94 439.21,261.35 440.96,261.79 442.69,262.23 444.4,262.7 446.08,263.18 447.73,263.67 449.35,264.17 451.01,264.71 452.76,265.32 454.49,265.94 456.21,266.58 457.92,267.23 459.62,267.9 461.3,268.59 462.97,269.29 464.63,270 466.27,270.73 467.9,271.48 469.52,272.23 471.12,273 472.71,273.78 474.28,274.57 475.84,275.37 477.39,276.18 478.92,277 480.44,277.82 481.95,278.65 483.44,279.49 484.91,280.34 486.37,281.19 487.82,282.05 489.25,282.91 490.67,283.77 492.07,284.64 493.46,285.51 494.83,286.38 496.19,287.25 497.53,288.12 498.86,288.99 500.17,289.86 501.47,290.73 502.75,291.6 504.02,292.47 505.27,293.33 506.5,294.19 507.72,295.04 508.92,295.89 510.1,296.73 511.27,297.57" fill="none" stroke="#3a3a3a" stroke-width="1.2"/>
<path d="M230.66,353.86L226.5,350.26M237.01,346.69L232.94,342.99M242.05,341.24L238.05,337.46M247.68,335.4L243.76,331.55M253.81,329.32L249.99,325.37M258.17,325.18L254.41,321.16M263.87,319.98L260.21,315.87M271.58,313.33L268.06,309.11M282.4,304.71L279.08,300.33M298.3,293.5L295.29,288.9M322.84,279.3L320.33,274.4M340.06,271.28L337.95,266.2M361.67,263.74L360.17,258.44M377.4,260.07L376.41,254.66M409.32,257.49L409.44,251.99" stroke="#3a3a3a" stroke-width="1" fill="none"/>
<g class="pk"><text transform="translate(226.04,349.87) rotate(-139.12)" dy="2.1">40000 K</text><text transform="translate(232.49,342.59) rotate(-137.77)" dy="2.1">20000 K</text><text transform="translate(237.62,337.05) rotate(-136.68)" dy="2.1">15000 K</text><text transform="translate(243.33,331.12) rotate(-135.44)" dy="2.1">12000 K</text><text transform="translate(249.57,324.93) rotate(-134.04)" dy="2.1">10000 K</text><text transform="translate(254,320.72) rotate(-133.04)" dy="2.1">9000 K</text><text transform="translate(259.81,315.42) rotate(-131.69)" dy="2.1">8000 K</text><text transform="translate(267.67,308.65) rotate(-129.84)" dy="2.1">7000 K</text><text transform="translate(278.72,299.85) rotate(-127.18)" dy="2.1">6000 K</text><text transform="translate(294.96,288.4) rotate(-123.17)" dy="2.1">5000 K</text><text transform="translate(320.06,273.87) rotate(-117.15)" dy="2.1">4000 K</text><text transform="translate(337.72,265.64) rotate(-112.51)" dy="2.1">3500 K</text><text transform="translate(360.01,257.87) rotate(-105.78)" dy="2.1">3000 K</text><text transform="translate(376.3,254.07) rotate(-100.41)" dy="2.1">2700 K</text><text transform="translate(409.45,251.39) rotate(-88.77)" dy="2.1">2200 K</text></g>
<path d="M352.1,258.44H400.1M376.1,234.44V282.44" stroke="#3c3c3c" stroke-width="1.15" fill="none"/>
<g class="ax" text-anchor="end"><text x="52" y="497.6">0,0</text><text x="52" y="440.74">0,1</text><text x="52" y="383.88">0,2</text><text x="52" y="327.02">0,3</text><text x="52" y="270.16">0,4</text><text x="52" y="213.3">0,5</text><text x="52" y="156.44">0,6</text><text x="52" y="99.58">0,7</text><text x="52" y="42.72">0,8</text></g>
<g class="ax" text-anchor="middle"><text x="57" y="509.1">0,0</text><text x="126.19" y="509.1">0,1</text><text x="195.38" y="509.1">0,2</text><text x="264.57" y="509.1">0,3</text><text x="333.76" y="509.1">0,4</text><text x="402.95" y="509.1">0,5</text><text x="472.14" y="509.1">0,6</text></g>
<rect x="379.3" y="31.4" width="183.6" height="68.4" rx="6.5" ry="6.5" fill="#fdd27a" stroke="#8a8a8a" stroke-width="1.9"/>
<text x="467.3" y="73.2" text-anchor="middle" font-weight="bold" font-size="24" fill="#000">2757 K</text>
<text x="474" y="428" font-weight="bold" font-size="15.6" fill="#000">x: 0,457</text>
<text x="474" y="447" font-weight="bold" font-size="15.6" fill="#000">y: 0,413</text>
<text x="577" y="520" text-anchor="end" font-weight="bold" font-size="17.5" fill="#555">CIE 1931</text>
</svg>
</body></html>
